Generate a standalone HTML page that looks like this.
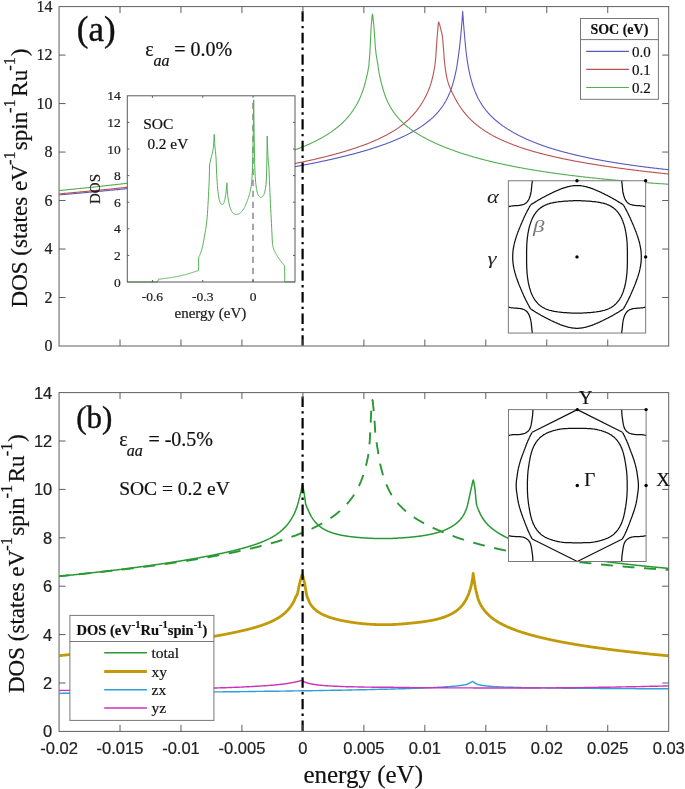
<!DOCTYPE html><html><head><meta charset="utf-8"><style>html,body{margin:0;padding:0;background:#fff;}svg{display:block;will-change:transform;} text{stroke:#111;stroke-width:0.2px;}</style></head><body>
<svg width="685" height="789" viewBox="0 0 685 789">
<rect width="685" height="789" fill="#fff"/>
<defs><clipPath id="ca"><rect x="59.05" y="6.60" width="609.65" height="339.40"/></clipPath>
<clipPath id="cb"><rect x="59.05" y="392.60" width="609.65" height="338.80"/></clipPath></defs>
<g clip-path="url(#ca)" fill="none" stroke-linejoin="round">
<path d="M59.4 194.9L59.7 194.8L60.2 194.8L60.7 194.8L61.2 194.7L61.7 194.7L62.2 194.6L62.7 194.6L63.2 194.5L63.7 194.5L64.2 194.5L64.7 194.4L65.2 194.4L65.7 194.3L66.2 194.3L66.7 194.2L67.2 194.2L67.7 194.2L68.2 194.1L68.7 194.1L69.2 194.0L69.7 194.0L70.2 193.9L70.7 193.9L71.2 193.9L71.7 193.8L72.2 193.8L72.7 193.7L73.2 193.7L73.7 193.6L74.2 193.6L74.7 193.5L75.2 193.5L75.7 193.5L76.2 193.4L76.7 193.4L77.2 193.3L77.7 193.3L78.2 193.2L78.7 193.2L79.2 193.1L79.7 193.1L80.2 193.1L80.7 193.0L81.2 193.0L81.7 192.9L82.2 192.9L82.7 192.8L83.2 192.8L83.7 192.7L84.2 192.7L84.7 192.7L85.2 192.6L85.7 192.6L86.2 192.5L86.7 192.5L87.2 192.4L87.7 192.4L88.2 192.3L88.7 192.3L89.2 192.2L89.7 192.2L90.2 192.2L90.7 192.1L91.2 192.1L91.7 192.0L92.2 192.0L92.7 191.9L93.2 191.9L93.7 191.8L94.2 191.8L94.7 191.7L95.2 191.7L95.7 191.7L96.2 191.6L96.7 191.6L97.2 191.5L97.7 191.5L98.2 191.4L98.7 191.4L99.2 191.3L99.7 191.3L100.2 191.2L100.7 191.2L101.2 191.1L101.7 191.1L102.2 191.1L102.7 191.0L103.2 191.0L103.7 190.9L104.2 190.9L104.7 190.8L105.2 190.8L105.7 190.7L106.2 190.7L106.7 190.6L107.2 190.6L107.7 190.5L108.2 190.5L108.7 190.4L109.2 190.4L109.7 190.3L110.2 190.3L110.7 190.2L111.2 190.2L111.7 190.2L112.2 190.1L112.7 190.1L113.2 190.0L113.7 190.0L114.2 189.9L114.7 189.9L115.2 189.8L115.7 189.8L116.2 189.7L116.7 189.7L117.2 189.6L117.7 189.6L118.2 189.5L118.7 189.5L119.2 189.4L119.7 189.4L120.2 189.3L120.7 189.3L121.2 189.2L121.7 189.2L122.2 189.1L122.7 189.1L123.2 189.0L123.7 189.0L124.2 188.9L124.7 188.9L125.2 188.8L125.7 188.8L126.2 188.7L126.7 188.7L127.2 188.6L127.7 188.6L128.2 188.5L128.7 188.5L129.2 188.4L129.7 188.4L130.2 188.3L130.7 188.3L131.2 188.2L131.7 188.2L132.2 188.1L132.7 188.1L133.2 188.0L133.7 188.0L134.2 187.9L134.7 187.9L135.2 187.8L135.7 187.8L136.2 187.7L136.7 187.7L137.2 187.6L137.7 187.6L138.2 187.5L138.7 187.5L139.2 187.4L139.7 187.4L140.2 187.3L140.7 187.3L141.2 187.2L141.7 187.2L142.2 187.1L142.7 187.1L143.2 187.0L143.7 187.0L144.2 186.9L144.7 186.9L145.2 186.8L145.7 186.8L146.2 186.7L146.7 186.7L147.2 186.6L147.7 186.6L148.2 186.5L148.7 186.4L149.2 186.4L149.7 186.3L150.2 186.3L150.7 186.2L151.2 186.2L151.7 186.1L152.2 186.1L152.7 186.0L153.2 186.0L153.7 185.9L154.2 185.9L154.7 185.8L155.2 185.8L155.7 185.7L156.2 185.6L156.7 185.6L157.2 185.5L157.7 185.5L158.2 185.4L158.7 185.4L159.2 185.3L159.7 185.3L160.2 185.2L160.7 185.2L161.2 185.1L161.7 185.1L162.2 185.0L162.7 184.9L163.2 184.9L163.7 184.8L164.2 184.8L164.7 184.7L165.2 184.7L165.7 184.6L166.2 184.6L166.7 184.5L167.2 184.5L167.7 184.4L168.2 184.3L168.7 184.3L169.2 184.2L169.7 184.2L170.2 184.1L170.7 184.1L171.2 184.0L171.7 184.0L172.2 183.9L172.7 183.8L173.2 183.8L173.7 183.7L174.2 183.7L174.7 183.6L175.2 183.6L175.7 183.5L176.2 183.4L176.7 183.4L177.2 183.3L177.7 183.3L178.2 183.2L178.7 183.2L179.2 183.1L179.7 183.0L180.2 183.0L180.7 182.9L181.2 182.9L181.7 182.8L182.2 182.8L182.7 182.7L183.2 182.6L183.7 182.6L184.2 182.5L184.7 182.5L185.2 182.4L185.7 182.3L186.2 182.3L186.7 182.2L187.2 182.2L187.7 182.1L188.2 182.1L188.7 182.0L189.2 181.9L189.7 181.9L190.2 181.8L190.7 181.8L191.2 181.7L191.7 181.6L192.2 181.6L192.7 181.5L193.2 181.5L193.7 181.4L194.2 181.3L194.7 181.3L195.2 181.2L195.7 181.2L196.2 181.1L196.7 181.0L197.2 181.0L197.7 180.9L198.2 180.9L198.7 180.8L199.2 180.7L199.7 180.7L200.2 180.6L200.7 180.6L201.2 180.5L201.7 180.4L202.2 180.4L202.7 180.3L203.2 180.2L203.7 180.2L204.2 180.1L204.7 180.1L205.2 180.0L205.7 179.9L206.2 179.9L206.7 179.8L207.2 179.7L207.7 179.7L208.2 179.6L208.7 179.6L209.2 179.5L209.7 179.4L210.2 179.4L210.7 179.3L211.2 179.2L211.7 179.2L212.2 179.1L212.7 179.1L213.2 179.0L213.7 178.9L214.2 178.9L214.7 178.8L215.2 178.7L215.7 178.7L216.2 178.6L216.7 178.5L217.2 178.5L217.7 178.4L218.2 178.3L218.7 178.3L219.2 178.2L219.7 178.1L220.2 178.1L220.7 178.0L221.2 178.0L221.7 177.9L222.2 177.8L222.7 177.8L223.2 177.7L223.7 177.6L224.2 177.6L224.7 177.5L225.2 177.4L225.7 177.4L226.2 177.3L226.7 177.2L227.2 177.2L227.7 177.1L228.2 177.0L228.7 177.0L229.2 176.9L229.7 176.8L230.2 176.7L230.7 176.7L231.2 176.6L231.7 176.5L232.2 176.5L232.7 176.4L233.2 176.3L233.7 176.3L234.2 176.2L234.7 176.1L235.2 176.1L235.7 176.0L236.2 175.9L236.7 175.9L237.2 175.8L237.7 175.7L238.2 175.6L238.7 175.6L239.2 175.5L239.7 175.4L240.2 175.4L240.7 175.3L241.2 175.2L241.7 175.2L242.2 175.1L242.7 175.0L243.2 174.9L243.7 174.9L244.2 174.8L244.7 174.7L245.2 174.7L245.7 174.6L246.2 174.5L246.7 174.4L247.2 174.4L247.7 174.3L248.2 174.2L248.7 174.1L249.2 174.1L249.7 174.0L250.2 173.9L250.7 173.9L251.2 173.8L251.7 173.7L252.2 173.6L252.7 173.6L253.2 173.5L253.7 173.4L254.2 173.3L254.7 173.3L255.2 173.2L255.7 173.1L256.2 173.0L256.7 173.0L257.2 172.9L257.7 172.8L258.2 172.7L258.7 172.7L259.2 172.6L259.7 172.5L260.2 172.4L260.7 172.3L261.2 172.3L261.7 172.2L262.2 172.1L262.7 172.0L263.2 172.0L263.7 171.9L264.2 171.8L264.7 171.7L265.2 171.6L265.7 171.6L266.2 171.5L266.7 171.4L267.2 171.3L267.7 171.3L268.2 171.2L268.7 171.1L269.2 171.0L269.7 170.9L270.2 170.9L270.7 170.8L271.2 170.7L271.7 170.6L272.2 170.5L272.7 170.5L273.2 170.4L273.7 170.3L274.2 170.2L274.7 170.1L275.2 170.0L275.7 170.0L276.2 169.9L276.7 169.8L277.2 169.7L277.7 169.6L278.2 169.6L278.7 169.5L279.2 169.4L279.7 169.3L280.2 169.2L280.7 169.1L281.2 169.1L281.7 169.0L282.2 168.9L282.7 168.8L283.2 168.7L283.7 168.6L284.2 168.5L284.7 168.5L285.2 168.4L285.7 168.3L286.2 168.2L286.7 168.1L287.2 168.0L287.7 167.9L288.2 167.8L288.7 167.8L289.2 167.7L289.7 167.6L290.2 167.5L290.7 167.4L291.2 167.3L291.7 167.2L292.2 167.1L292.7 167.1L293.2 167.0L293.7 166.9L294.2 166.8L294.7 166.7L295.2 166.6L295.7 166.5L296.2 166.4L296.7 166.3L297.2 166.2L297.7 166.1L298.2 166.1L298.7 166.0L299.2 165.9L299.7 165.8L300.2 165.7L300.7 165.6L301.2 165.5L301.7 165.4L302.2 165.3L302.7 165.2L303.2 165.1L303.7 165.0L304.2 164.9L304.7 164.8L305.2 164.7L305.7 164.6L306.2 164.6L306.7 164.5L307.2 164.4L307.7 164.3L308.2 164.2L308.7 164.1L309.2 164.0L309.7 163.9L310.2 163.8L310.7 163.7L311.2 163.6L311.7 163.5L312.2 163.4L312.7 163.3L313.2 163.2L313.7 163.1L314.2 163.0L314.7 162.9L315.2 162.8L315.7 162.7L316.2 162.6L316.7 162.5L317.2 162.4L317.7 162.3L318.2 162.2L318.7 162.1L319.2 162.0L319.7 161.8L320.2 161.7L320.7 161.6L321.2 161.5L321.7 161.4L322.2 161.3L322.7 161.2L323.2 161.1L323.7 161.0L324.2 160.9L324.7 160.8L325.2 160.7L325.7 160.6L326.2 160.5L326.7 160.4L327.2 160.2L327.7 160.1L328.2 160.0L328.7 159.9L329.2 159.8L329.7 159.7L330.2 159.6L330.7 159.5L331.2 159.4L331.7 159.2L332.2 159.1L332.7 159.0L333.2 158.9L333.7 158.8L334.2 158.7L334.7 158.6L335.2 158.4L335.7 158.3L336.2 158.2L336.7 158.1L337.2 158.0L337.7 157.9L338.2 157.7L338.7 157.6L339.2 157.5L339.7 157.4L340.2 157.3L340.7 157.1L341.2 157.0L341.7 156.9L342.2 156.8L342.7 156.7L343.2 156.5L343.7 156.4L344.2 156.3L344.7 156.2L345.2 156.0L345.7 155.9L346.2 155.8L346.7 155.7L347.2 155.5L347.7 155.4L348.2 155.3L348.7 155.2L349.2 155.0L349.7 154.9L350.2 154.8L350.7 154.6L351.2 154.5L351.7 154.4L352.2 154.3L352.7 154.1L353.2 154.0L353.7 153.9L354.2 153.7L354.7 153.6L355.2 153.5L355.7 153.3L356.2 153.2L356.7 153.0L357.2 152.9L357.7 152.8L358.2 152.6L358.7 152.5L359.2 152.4L359.7 152.2L360.2 152.1L360.7 151.9L361.2 151.8L361.7 151.6L362.2 151.5L362.7 151.4L363.2 151.2L363.7 151.1L364.2 150.9L364.7 150.8L365.2 150.6L365.7 150.5L366.2 150.3L366.7 150.2L367.2 150.0L367.7 149.9L368.2 149.7L368.7 149.6L369.2 149.4L369.7 149.3L370.2 149.1L370.7 149.0L371.2 148.8L371.7 148.6L372.2 148.5L372.7 148.3L373.2 148.2L373.7 148.0L374.2 147.8L374.7 147.7L375.2 147.5L375.7 147.4L376.2 147.2L376.7 147.0L377.2 146.9L377.7 146.7L378.2 146.5L378.7 146.3L379.2 146.2L379.7 146.0L380.2 145.8L380.7 145.7L381.2 145.5L381.7 145.3L382.2 145.1L382.7 145.0L383.2 144.8L383.7 144.6L384.2 144.4L384.7 144.2L385.2 144.1L385.7 143.9L386.2 143.7L386.7 143.5L387.2 143.3L387.7 143.1L388.2 142.9L388.7 142.7L389.2 142.6L389.7 142.4L390.2 142.2L390.7 142.0L391.2 141.8L391.7 141.6L392.2 141.4L392.7 141.2L393.2 141.0L393.7 140.8L394.2 140.6L394.7 140.4L395.2 140.1L395.7 139.9L396.2 139.7L396.7 139.5L397.2 139.3L397.7 139.1L398.2 138.9L398.7 138.6L399.2 138.4L399.7 138.2L400.2 138.0L400.7 137.8L401.2 137.5L401.7 137.3L402.2 137.1L402.7 136.8L403.2 136.6L403.7 136.4L404.2 136.1L404.7 135.9L405.2 135.6L405.7 135.4L406.2 135.1L406.7 134.9L407.2 134.6L407.7 134.4L408.2 134.1L408.7 133.9L409.2 133.6L409.7 133.4L410.2 133.1L410.7 132.8L411.2 132.6L411.7 132.3L412.2 132.0L412.7 131.7L413.2 131.5L413.7 131.2L414.2 130.9L414.7 130.6L415.2 130.3L415.7 130.0L416.2 129.7L416.7 129.4L417.2 129.1L417.7 128.8L418.2 128.5L418.7 128.2L419.2 127.9L419.7 127.5L420.2 127.2L420.7 126.9L421.2 126.6L421.7 126.2L422.2 125.9L422.7 125.5L423.2 125.2L423.7 124.8L424.2 124.5L424.7 124.1L425.2 123.7L425.7 123.4L426.2 123.0L426.7 122.6L427.2 122.2L427.7 121.8L428.2 121.4L428.7 121.0L429.2 120.6L429.7 120.2L430.2 119.8L430.7 119.4L431.2 118.9L431.7 118.5L432.2 118.0L432.7 117.6L433.2 117.1L433.7 116.6L434.2 116.1L434.7 115.6L435.2 115.1L435.7 114.6L436.2 114.1L436.7 113.5L437.2 113.0L437.7 112.4L438.2 111.9L438.7 111.3L439.2 110.7L439.7 110.0L440.2 109.4L440.7 108.8L441.2 108.1L441.7 107.4L442.2 106.7L442.7 106.0L443.2 105.2L443.7 104.5L444.2 103.7L444.7 102.9L445.2 102.0L445.7 101.2L446.2 100.3L446.7 99.3L447.2 98.4L447.7 97.3L448.2 96.3L448.7 95.2L449.2 94.1L449.7 92.9L450.2 91.6L450.7 90.3L451.2 88.9L451.7 87.5L452.2 85.9L452.7 84.3L453.2 82.6L453.7 80.8L454.2 78.9L454.7 76.9L454.9 75.8L455.2 74.8L455.4 73.6L455.7 72.5L455.9 71.3L456.2 70.0L456.4 68.8L456.7 67.4L456.9 66.0L457.2 64.5L457.4 62.9L457.7 61.2L457.9 59.5L458.2 57.8L458.4 55.9L458.7 54.1L458.9 52.2L459.2 50.2L459.4 48.2L459.7 46.1L459.9 43.8L460.2 41.5L460.4 39.1L460.7 36.6L460.9 34.0L461.2 31.3L461.4 28.5L461.7 25.5L461.9 22.3L462.2 18.9L462.4 15.2L462.7 11.3L462.9 15.0L463.2 18.5L463.4 21.9L463.7 25.2L463.9 28.3L464.2 31.2L464.4 34.1L464.7 36.9L464.9 39.7L465.2 42.5L465.4 45.1L465.7 47.7L465.9 50.1L466.2 52.3L466.4 54.4L466.7 56.4L466.9 58.2L467.2 60.0L467.4 61.6L467.7 63.2L467.9 64.7L468.2 66.1L468.4 67.5L468.7 68.8L468.9 70.1L469.2 71.3L469.4 72.5L469.7 73.7L469.9 74.8L470.2 75.9L470.4 76.9L470.7 77.9L471.2 79.8L471.7 81.6L472.2 83.3L472.7 85.0L473.2 86.5L473.7 87.9L474.2 89.3L474.7 90.6L475.2 91.9L475.7 93.1L476.2 94.2L476.7 95.3L477.2 96.4L477.7 97.4L478.2 98.4L478.7 99.3L479.2 100.3L479.7 101.1L480.2 102.0L480.7 102.8L481.2 103.6L481.7 104.4L482.2 105.2L482.7 105.9L483.2 106.6L483.7 107.3L484.2 108.0L484.7 108.7L485.2 109.3L485.7 110.0L486.2 110.6L486.7 111.2L487.2 111.8L487.7 112.4L488.2 112.9L488.7 113.5L489.2 114.0L489.7 114.6L490.2 115.1L490.7 115.6L491.2 116.1L491.7 116.6L492.2 117.1L492.7 117.6L493.2 118.0L493.7 118.5L494.2 119.0L494.7 119.4L495.2 119.8L495.7 120.3L496.2 120.7L496.7 121.1L497.2 121.5L497.7 121.9L498.2 122.3L498.7 122.7L499.2 123.1L499.7 123.5L500.2 123.9L500.7 124.3L501.2 124.6L501.7 125.0L502.2 125.4L502.7 125.7L503.2 126.1L503.7 126.4L504.2 126.8L504.7 127.1L505.2 127.5L505.7 127.8L506.2 128.1L506.7 128.4L507.2 128.8L507.7 129.1L508.2 129.4L508.7 129.7L509.2 130.0L509.7 130.3L510.2 130.6L510.7 130.9L511.2 131.2L511.7 131.5L512.2 131.8L512.7 132.1L513.2 132.4L513.7 132.7L514.2 132.9L514.7 133.2L515.2 133.5L515.7 133.8L516.2 134.0L516.7 134.3L517.2 134.6L517.7 134.8L518.2 135.1L518.7 135.4L519.2 135.6L519.7 135.9L520.2 136.1L520.7 136.4L521.2 136.6L521.7 136.9L522.2 137.1L522.7 137.3L523.2 137.6L523.7 137.8L524.2 138.0L524.7 138.3L525.2 138.5L525.7 138.7L526.2 139.0L526.7 139.2L527.2 139.4L527.7 139.6L528.2 139.8L528.7 140.1L529.2 140.3L529.7 140.5L530.2 140.7L530.7 140.9L531.2 141.1L531.7 141.3L532.2 141.5L532.7 141.7L533.2 141.9L533.7 142.1L534.2 142.3L534.7 142.5L535.2 142.7L535.7 142.9L536.2 143.1L536.7 143.3L537.2 143.5L537.7 143.7L538.2 143.9L538.7 144.1L539.2 144.3L539.7 144.4L540.2 144.6L540.7 144.8L541.2 145.0L541.7 145.2L542.2 145.3L542.7 145.5L543.2 145.7L543.7 145.9L544.2 146.0L544.7 146.2L545.2 146.4L545.7 146.6L546.2 146.7L546.7 146.9L547.2 147.1L547.7 147.2L548.2 147.4L548.7 147.5L549.2 147.7L549.7 147.9L550.2 148.0L550.7 148.2L551.2 148.3L551.7 148.5L552.2 148.7L552.7 148.8L553.2 149.0L553.7 149.1L554.2 149.3L554.7 149.4L555.2 149.6L555.7 149.7L556.2 149.9L556.7 150.0L557.2 150.2L557.7 150.3L558.2 150.4L558.7 150.6L559.2 150.7L559.7 150.9L560.2 151.0L560.7 151.2L561.2 151.3L561.7 151.4L562.2 151.6L562.7 151.7L563.2 151.8L563.7 152.0L564.2 152.1L564.7 152.2L565.2 152.4L565.7 152.5L566.2 152.6L566.7 152.8L567.2 152.9L567.7 153.0L568.2 153.2L568.7 153.3L569.2 153.4L569.7 153.5L570.2 153.7L570.7 153.8L571.2 153.9L571.7 154.0L572.2 154.2L572.7 154.3L573.2 154.4L573.7 154.5L574.2 154.6L574.7 154.8L575.2 154.9L575.7 155.0L576.2 155.1L576.7 155.2L577.2 155.4L577.7 155.5L578.2 155.6L578.7 155.7L579.2 155.8L579.7 155.9L580.2 156.0L580.7 156.2L581.2 156.3L581.7 156.4L582.2 156.5L582.7 156.6L583.2 156.7L583.7 156.8L584.2 156.9L584.7 157.0L585.2 157.1L585.7 157.2L586.2 157.3L586.7 157.5L587.2 157.6L587.7 157.7L588.2 157.8L588.7 157.9L589.2 158.0L589.7 158.1L590.2 158.2L590.7 158.3L591.2 158.4L591.7 158.5L592.2 158.6L592.7 158.7L593.2 158.8L593.7 158.9L594.2 159.0L594.7 159.1L595.2 159.2L595.7 159.3L596.2 159.4L596.7 159.5L597.2 159.6L597.7 159.6L598.2 159.7L598.7 159.8L599.2 159.9L599.7 160.0L600.2 160.1L600.7 160.2L601.2 160.3L601.7 160.4L602.2 160.5L602.7 160.6L603.2 160.7L603.7 160.8L604.2 160.8L604.7 160.9L605.2 161.0L605.7 161.1L606.2 161.2L606.7 161.3L607.2 161.4L607.7 161.5L608.2 161.5L608.7 161.6L609.2 161.7L609.7 161.8L610.2 161.9L610.7 162.0L611.2 162.0L611.7 162.1L612.2 162.2L612.7 162.3L613.2 162.4L613.7 162.5L614.2 162.5L614.7 162.6L615.2 162.7L615.7 162.8L616.2 162.9L616.7 162.9L617.2 163.0L617.7 163.1L618.2 163.2L618.7 163.3L619.2 163.3L619.7 163.4L620.2 163.5L620.7 163.6L621.2 163.7L621.7 163.7L622.2 163.8L622.7 163.9L623.2 164.0L623.7 164.0L624.2 164.1L624.7 164.2L625.2 164.3L625.7 164.3L626.2 164.4L626.7 164.5L627.2 164.5L627.7 164.6L628.2 164.7L628.7 164.8L629.2 164.8L629.7 164.9L630.2 165.0L630.7 165.1L631.2 165.1L631.7 165.2L632.2 165.3L632.7 165.3L633.2 165.4L633.7 165.5L634.2 165.5L634.7 165.6L635.2 165.7L635.7 165.7L636.2 165.8L636.7 165.9L637.2 166.0L637.7 166.0L638.2 166.1L638.7 166.2L639.2 166.2L639.7 166.3L640.2 166.4L640.7 166.4L641.2 166.5L641.7 166.5L642.2 166.6L642.7 166.7L643.2 166.7L643.7 166.8L644.2 166.9L644.7 166.9L645.2 167.0L645.7 167.1L646.2 167.1L646.7 167.2L647.2 167.2L647.7 167.3L648.2 167.4L648.7 167.4L649.2 167.5L649.7 167.6L650.2 167.6L650.7 167.7L651.2 167.7L651.7 167.8L652.2 167.9L652.7 167.9L653.2 168.0L653.7 168.0L654.2 168.1L654.7 168.2L655.2 168.2L655.7 168.3L656.2 168.3L656.7 168.4L657.2 168.4L657.7 168.5L658.2 168.6L658.7 168.6L659.2 168.7L659.7 168.7L660.2 168.8L660.7 168.8L661.2 168.9L661.7 169.0L662.2 169.0L662.7 169.1L663.2 169.1L663.7 169.2L664.2 169.2L664.7 169.3L665.2 169.3L665.7 169.4L666.2 169.5L666.7 169.5L667.2 169.6L667.7 169.6L668.2 169.7L668.7 169.7L668.8 169.7" stroke="#5858bd" stroke-width="1.1"/>
<path d="M59.4 193.9L59.5 193.9L60.0 193.8L60.5 193.8L61.0 193.7L61.5 193.7L62.0 193.6L62.5 193.6L63.0 193.5L63.5 193.5L64.0 193.5L64.5 193.4L65.0 193.4L65.5 193.3L66.0 193.3L66.5 193.2L67.0 193.2L67.5 193.1L68.0 193.1L68.5 193.0L69.0 193.0L69.5 193.0L70.0 192.9L70.5 192.9L71.0 192.8L71.5 192.8L72.0 192.7L72.5 192.7L73.0 192.6L73.5 192.6L74.0 192.5L74.5 192.5L75.0 192.4L75.5 192.4L76.0 192.4L76.5 192.3L77.0 192.3L77.5 192.2L78.0 192.2L78.5 192.1L79.0 192.1L79.5 192.0L80.0 192.0L80.5 191.9L81.0 191.9L81.5 191.8L82.0 191.8L82.5 191.7L83.0 191.7L83.5 191.6L84.0 191.6L84.5 191.6L85.0 191.5L85.5 191.5L86.0 191.4L86.5 191.4L87.0 191.3L87.5 191.3L88.0 191.2L88.5 191.2L89.0 191.1L89.5 191.1L90.0 191.0L90.5 191.0L91.0 190.9L91.5 190.9L92.0 190.8L92.5 190.8L93.0 190.7L93.5 190.7L94.0 190.6L94.5 190.6L95.0 190.5L95.5 190.5L96.0 190.4L96.5 190.4L97.0 190.4L97.5 190.3L98.0 190.3L98.5 190.2L99.0 190.2L99.5 190.1L100.0 190.1L100.5 190.0L101.0 190.0L101.5 189.9L102.0 189.9L102.5 189.8L103.0 189.8L103.5 189.7L104.0 189.7L104.5 189.6L105.0 189.6L105.5 189.5L106.0 189.5L106.5 189.4L107.0 189.4L107.5 189.3L108.0 189.3L108.5 189.2L109.0 189.2L109.5 189.1L110.0 189.1L110.5 189.0L111.0 189.0L111.5 188.9L112.0 188.9L112.5 188.8L113.0 188.8L113.5 188.7L114.0 188.7L114.5 188.6L115.0 188.6L115.5 188.5L116.0 188.5L116.5 188.4L117.0 188.4L117.5 188.3L118.0 188.3L118.5 188.2L119.0 188.1L119.5 188.1L120.0 188.0L120.5 188.0L121.0 187.9L121.5 187.9L122.0 187.8L122.5 187.8L123.0 187.7L123.5 187.7L124.0 187.6L124.5 187.6L125.0 187.5L125.5 187.5L126.0 187.4L126.5 187.4L127.0 187.3L127.5 187.3L128.0 187.2L128.5 187.2L129.0 187.1L129.5 187.1L130.0 187.0L130.5 186.9L131.0 186.9L131.5 186.8L132.0 186.8L132.5 186.7L133.0 186.7L133.5 186.6L134.0 186.6L134.5 186.5L135.0 186.5L135.5 186.4L136.0 186.4L136.5 186.3L137.0 186.3L137.5 186.2L138.0 186.1L138.5 186.1L139.0 186.0L139.5 186.0L140.0 185.9L140.5 185.9L141.0 185.8L141.5 185.8L142.0 185.7L142.5 185.7L143.0 185.6L143.5 185.5L144.0 185.5L144.5 185.4L145.0 185.4L145.5 185.3L146.0 185.3L146.5 185.2L147.0 185.2L147.5 185.1L148.0 185.1L148.5 185.0L149.0 184.9L149.5 184.9L150.0 184.8L150.5 184.8L151.0 184.7L151.5 184.7L152.0 184.6L152.5 184.5L153.0 184.5L153.5 184.4L154.0 184.4L154.5 184.3L155.0 184.3L155.5 184.2L156.0 184.2L156.5 184.1L157.0 184.0L157.5 184.0L158.0 183.9L158.5 183.9L159.0 183.8L159.5 183.8L160.0 183.7L160.5 183.6L161.0 183.6L161.5 183.5L162.0 183.5L162.5 183.4L163.0 183.3L163.5 183.3L164.0 183.2L164.5 183.2L165.0 183.1L165.5 183.1L166.0 183.0L166.5 182.9L167.0 182.9L167.5 182.8L168.0 182.8L168.5 182.7L169.0 182.6L169.5 182.6L170.0 182.5L170.5 182.5L171.0 182.4L171.5 182.3L172.0 182.3L172.5 182.2L173.0 182.2L173.5 182.1L174.0 182.0L174.5 182.0L175.0 181.9L175.5 181.9L176.0 181.8L176.5 181.7L177.0 181.7L177.5 181.6L178.0 181.6L178.5 181.5L179.0 181.4L179.5 181.4L180.0 181.3L180.5 181.3L181.0 181.2L181.5 181.1L182.0 181.1L182.5 181.0L183.0 181.0L183.5 180.9L184.0 180.8L184.5 180.8L185.0 180.7L185.5 180.6L186.0 180.6L186.5 180.5L187.0 180.5L187.5 180.4L188.0 180.3L188.5 180.3L189.0 180.2L189.5 180.1L190.0 180.1L190.5 180.0L191.0 180.0L191.5 179.9L192.0 179.8L192.5 179.8L193.0 179.7L193.5 179.6L194.0 179.6L194.5 179.5L195.0 179.4L195.5 179.4L196.0 179.3L196.5 179.3L197.0 179.2L197.5 179.1L198.0 179.1L198.5 179.0L199.0 178.9L199.5 178.9L200.0 178.8L200.5 178.7L201.0 178.7L201.5 178.6L202.0 178.5L202.5 178.5L203.0 178.4L203.5 178.3L204.0 178.3L204.5 178.2L205.0 178.1L205.5 178.1L206.0 178.0L206.5 177.9L207.0 177.9L207.5 177.8L208.0 177.7L208.5 177.7L209.0 177.6L209.5 177.5L210.0 177.5L210.5 177.4L211.0 177.3L211.5 177.3L212.0 177.2L212.5 177.1L213.0 177.1L213.5 177.0L214.0 176.9L214.5 176.9L215.0 176.8L215.5 176.7L216.0 176.6L216.5 176.6L217.0 176.5L217.5 176.4L218.0 176.4L218.5 176.3L219.0 176.2L219.5 176.2L220.0 176.1L220.5 176.0L221.0 175.9L221.5 175.9L222.0 175.8L222.5 175.7L223.0 175.7L223.5 175.6L224.0 175.5L224.5 175.4L225.0 175.4L225.5 175.3L226.0 175.2L226.5 175.2L227.0 175.1L227.5 175.0L228.0 174.9L228.5 174.9L229.0 174.8L229.5 174.7L230.0 174.7L230.5 174.6L231.0 174.5L231.5 174.4L232.0 174.4L232.5 174.3L233.0 174.2L233.5 174.1L234.0 174.1L234.5 174.0L235.0 173.9L235.5 173.8L236.0 173.8L236.5 173.7L237.0 173.6L237.5 173.5L238.0 173.5L238.5 173.4L239.0 173.3L239.5 173.2L240.0 173.2L240.5 173.1L241.0 173.0L241.5 172.9L242.0 172.9L242.5 172.8L243.0 172.7L243.5 172.6L244.0 172.5L244.5 172.5L245.0 172.4L245.5 172.3L246.0 172.2L246.5 172.2L247.0 172.1L247.5 172.0L248.0 171.9L248.5 171.8L249.0 171.8L249.5 171.7L250.0 171.6L250.5 171.5L251.0 171.4L251.5 171.4L252.0 171.3L252.5 171.2L253.0 171.1L253.5 171.0L254.0 171.0L254.5 170.9L255.0 170.8L255.5 170.7L256.0 170.6L256.5 170.5L257.0 170.5L257.5 170.4L258.0 170.3L258.5 170.2L259.0 170.1L259.5 170.0L260.0 170.0L260.5 169.9L261.0 169.8L261.5 169.7L262.0 169.6L262.5 169.5L263.0 169.5L263.5 169.4L264.0 169.3L264.5 169.2L265.0 169.1L265.5 169.0L266.0 168.9L266.5 168.9L267.0 168.8L267.5 168.7L268.0 168.6L268.5 168.5L269.0 168.4L269.5 168.3L270.0 168.3L270.5 168.2L271.0 168.1L271.5 168.0L272.0 167.9L272.5 167.8L273.0 167.7L273.5 167.6L274.0 167.5L274.5 167.5L275.0 167.4L275.5 167.3L276.0 167.2L276.5 167.1L277.0 167.0L277.5 166.9L278.0 166.8L278.5 166.7L279.0 166.6L279.5 166.5L280.0 166.4L280.5 166.4L281.0 166.3L281.5 166.2L282.0 166.1L282.5 166.0L283.0 165.9L283.5 165.8L284.0 165.7L284.5 165.6L285.0 165.5L285.5 165.4L286.0 165.3L286.5 165.2L287.0 165.1L287.5 165.0L288.0 164.9L288.5 164.8L289.0 164.7L289.5 164.6L290.0 164.5L290.5 164.4L291.0 164.3L291.5 164.2L292.0 164.1L292.5 164.0L293.0 163.9L293.5 163.8L294.0 163.7L294.5 163.6L295.0 163.5L295.5 163.4L296.0 163.3L296.5 163.2L297.0 163.1L297.5 163.0L298.0 162.9L298.5 162.8L299.0 162.7L299.5 162.6L300.0 162.5L300.5 162.4L301.0 162.3L301.5 162.2L302.0 162.1L302.5 162.0L303.0 161.9L303.5 161.8L304.0 161.7L304.5 161.6L305.0 161.5L305.5 161.3L306.0 161.2L306.5 161.1L307.0 161.0L307.5 160.9L308.0 160.8L308.5 160.7L309.0 160.6L309.5 160.5L310.0 160.4L310.5 160.2L311.0 160.1L311.5 160.0L312.0 159.9L312.5 159.8L313.0 159.7L313.5 159.6L314.0 159.4L314.5 159.3L315.0 159.2L315.5 159.1L316.0 159.0L316.5 158.9L317.0 158.7L317.5 158.6L318.0 158.5L318.5 158.4L319.0 158.3L319.5 158.2L320.0 158.0L320.5 157.9L321.0 157.8L321.5 157.7L322.0 157.5L322.5 157.4L323.0 157.3L323.5 157.2L324.0 157.1L324.5 156.9L325.0 156.8L325.5 156.7L326.0 156.6L326.5 156.4L327.0 156.3L327.5 156.2L328.0 156.0L328.5 155.9L329.0 155.8L329.5 155.7L330.0 155.5L330.5 155.4L331.0 155.3L331.5 155.1L332.0 155.0L332.5 154.9L333.0 154.7L333.5 154.6L334.0 154.5L334.5 154.3L335.0 154.2L335.5 154.1L336.0 153.9L336.5 153.8L337.0 153.6L337.5 153.5L338.0 153.4L338.5 153.2L339.0 153.1L339.5 152.9L340.0 152.8L340.5 152.7L341.0 152.5L341.5 152.4L342.0 152.2L342.5 152.1L343.0 151.9L343.5 151.8L344.0 151.6L344.5 151.5L345.0 151.3L345.5 151.2L346.0 151.0L346.5 150.9L347.0 150.7L347.5 150.6L348.0 150.4L348.5 150.3L349.0 150.1L349.5 150.0L350.0 149.8L350.5 149.6L351.0 149.5L351.5 149.3L352.0 149.2L352.5 149.0L353.0 148.8L353.5 148.7L354.0 148.5L354.5 148.3L355.0 148.2L355.5 148.0L356.0 147.8L356.5 147.7L357.0 147.5L357.5 147.3L358.0 147.1L358.5 147.0L359.0 146.8L359.5 146.6L360.0 146.4L360.5 146.3L361.0 146.1L361.5 145.9L362.0 145.7L362.5 145.5L363.0 145.4L363.5 145.2L364.0 145.0L364.5 144.8L365.0 144.6L365.5 144.4L366.0 144.2L366.5 144.0L367.0 143.9L367.5 143.7L368.0 143.5L368.5 143.3L369.0 143.1L369.5 142.9L370.0 142.7L370.5 142.5L371.0 142.3L371.5 142.0L372.0 141.8L372.5 141.6L373.0 141.4L373.5 141.2L374.0 141.0L374.5 140.8L375.0 140.6L375.5 140.3L376.0 140.1L376.5 139.9L377.0 139.7L377.5 139.4L378.0 139.2L378.5 139.0L379.0 138.8L379.5 138.5L380.0 138.3L380.5 138.0L381.0 137.8L381.5 137.6L382.0 137.3L382.5 137.1L383.0 136.8L383.5 136.6L384.0 136.3L384.5 136.1L385.0 135.8L385.5 135.5L386.0 135.3L386.5 135.0L387.0 134.7L387.5 134.5L388.0 134.2L388.5 133.9L389.0 133.6L389.5 133.4L390.0 133.1L390.5 132.8L391.0 132.5L391.5 132.2L392.0 131.9L392.5 131.6L393.0 131.3L393.5 131.0L394.0 130.7L394.5 130.4L395.0 130.1L395.5 129.7L396.0 129.4L396.5 129.1L397.0 128.7L397.5 128.4L398.0 128.1L398.5 127.7L399.0 127.4L399.5 127.0L400.0 126.6L400.5 126.3L401.0 125.9L401.5 125.5L402.0 125.1L402.5 124.8L403.0 124.4L403.5 124.0L404.0 123.6L404.5 123.2L405.0 122.7L405.5 122.3L406.0 121.9L406.5 121.4L407.0 121.0L407.5 120.5L408.0 120.1L408.5 119.6L409.0 119.1L409.5 118.7L410.0 118.2L410.5 117.7L411.0 117.2L411.5 116.6L412.0 116.1L412.5 115.6L413.0 115.0L413.5 114.5L414.0 113.9L414.5 113.3L415.0 112.7L415.5 112.1L416.0 111.5L416.5 110.9L417.0 110.2L417.5 109.6L418.0 108.9L418.5 108.2L419.0 107.5L419.5 106.8L420.0 106.1L420.5 105.3L421.0 104.6L421.5 103.8L422.0 103.0L422.5 102.2L423.0 101.3L423.5 100.5L424.0 99.6L424.5 98.6L425.0 97.7L425.5 96.7L426.0 95.7L426.5 94.7L427.0 93.7L427.5 92.6L428.0 91.5L428.5 90.3L429.0 89.0L429.5 87.7L430.0 86.4L430.5 84.9L430.8 84.1L431.0 83.3L431.2 82.4L431.5 81.5L431.8 80.6L432.0 79.6L432.2 78.6L432.5 77.6L432.8 76.5L433.0 75.4L433.2 74.3L433.5 73.2L433.8 72.0L434.0 70.7L434.2 69.3L434.5 67.9L434.8 66.3L435.0 64.5L435.2 62.5L435.5 60.2L435.8 57.3L436.0 53.9L436.2 50.2L436.5 46.3L436.8 42.5L437.0 39.2L437.2 36.2L437.5 33.2L437.8 30.1L438.0 27.1L438.2 24.3L438.5 22.1L438.8 22.3L439.0 22.7L439.2 23.4L439.5 24.1L439.8 25.0L440.0 25.9L440.2 26.9L440.5 27.9L440.8 29.0L441.0 30.0L441.2 31.1L441.5 32.1L441.8 33.2L442.0 34.3L442.2 35.5L442.5 37.5L442.8 40.0L443.0 42.8L443.2 45.6L443.5 48.5L443.8 52.0L444.0 55.5L444.2 58.9L444.5 61.6L444.8 64.0L445.0 66.1L445.2 68.1L445.5 70.0L445.8 71.6L446.0 73.2L446.2 74.7L446.5 76.0L447.0 78.3L447.5 80.4L448.0 82.2L448.5 83.8L449.0 85.3L449.5 86.6L450.0 87.8L450.5 89.0L451.0 90.1L451.5 91.2L452.0 92.3L452.5 93.3L453.0 94.3L453.5 95.4L454.0 96.3L454.5 97.3L455.0 98.2L455.5 99.1L456.0 100.0L456.5 100.9L457.0 101.8L457.5 102.6L458.0 103.4L458.5 104.3L459.0 105.0L459.5 105.8L460.0 106.6L460.5 107.3L461.0 108.0L461.5 108.7L462.0 109.4L462.5 110.1L463.0 110.8L463.5 111.4L464.0 112.1L464.5 112.7L465.0 113.3L465.5 113.9L466.0 114.5L466.5 115.1L467.0 115.7L467.5 116.2L468.0 116.8L468.5 117.3L469.0 117.8L469.5 118.4L470.0 118.9L470.5 119.4L471.0 119.9L471.5 120.3L472.0 120.8L472.5 121.3L473.0 121.7L473.5 122.2L474.0 122.6L474.5 123.1L475.0 123.5L475.5 123.9L476.0 124.3L476.5 124.8L477.0 125.2L477.5 125.6L478.0 125.9L478.5 126.3L479.0 126.7L479.5 127.1L480.0 127.5L480.5 127.8L481.0 128.2L481.5 128.6L482.0 128.9L482.5 129.3L483.0 129.6L483.5 129.9L484.0 130.3L484.5 130.6L485.0 130.9L485.5 131.3L486.0 131.6L486.5 131.9L487.0 132.2L487.5 132.5L488.0 132.8L488.5 133.1L489.0 133.4L489.5 133.7L490.0 134.0L490.5 134.3L491.0 134.6L491.5 134.9L492.0 135.1L492.5 135.4L493.0 135.7L493.5 135.9L494.0 136.2L494.5 136.5L495.0 136.7L495.5 137.0L496.0 137.3L496.5 137.5L497.0 137.8L497.5 138.0L498.0 138.3L498.5 138.5L499.0 138.7L499.5 139.0L500.0 139.2L500.5 139.5L501.0 139.7L501.5 139.9L502.0 140.1L502.5 140.4L503.0 140.6L503.5 140.8L504.0 141.0L504.5 141.3L505.0 141.5L505.5 141.7L506.0 141.9L506.5 142.1L507.0 142.3L507.5 142.5L508.0 142.7L508.5 142.9L509.0 143.1L509.5 143.4L510.0 143.5L510.5 143.7L511.0 143.9L511.5 144.1L512.0 144.3L512.5 144.5L513.0 144.7L513.5 144.9L514.0 145.1L514.5 145.3L515.0 145.5L515.5 145.6L516.0 145.8L516.5 146.0L517.0 146.2L517.5 146.4L518.0 146.5L518.5 146.7L519.0 146.9L519.5 147.1L520.0 147.2L520.5 147.4L521.0 147.6L521.5 147.7L522.0 147.9L522.5 148.1L523.0 148.2L523.5 148.4L524.0 148.6L524.5 148.7L525.0 148.9L525.5 149.0L526.0 149.2L526.5 149.4L527.0 149.5L527.5 149.7L528.0 149.8L528.5 150.0L529.0 150.1L529.5 150.3L530.0 150.4L530.5 150.6L531.0 150.7L531.5 150.9L532.0 151.0L532.5 151.2L533.0 151.3L533.5 151.5L534.0 151.6L534.5 151.7L535.0 151.9L535.5 152.0L536.0 152.2L536.5 152.3L537.0 152.4L537.5 152.6L538.0 152.7L538.5 152.8L539.0 153.0L539.5 153.1L540.0 153.3L540.5 153.4L541.0 153.5L541.5 153.6L542.0 153.8L542.5 153.9L543.0 154.0L543.5 154.2L544.0 154.3L544.5 154.4L545.0 154.5L545.5 154.7L546.0 154.8L546.5 154.9L547.0 155.0L547.5 155.2L548.0 155.3L548.5 155.4L549.0 155.5L549.5 155.6L550.0 155.8L550.5 155.9L551.0 156.0L551.5 156.1L552.0 156.2L552.5 156.4L553.0 156.5L553.5 156.6L554.0 156.7L554.5 156.8L555.0 156.9L555.5 157.0L556.0 157.2L556.5 157.3L557.0 157.4L557.5 157.5L558.0 157.6L558.5 157.7L559.0 157.8L559.5 157.9L560.0 158.0L560.5 158.1L561.0 158.2L561.5 158.4L562.0 158.5L562.5 158.6L563.0 158.7L563.5 158.8L564.0 158.9L564.5 159.0L565.0 159.1L565.5 159.2L566.0 159.3L566.5 159.4L567.0 159.5L567.5 159.6L568.0 159.7L568.5 159.8L569.0 159.9L569.5 160.0L570.0 160.1L570.5 160.2L571.0 160.3L571.5 160.4L572.0 160.5L572.5 160.6L573.0 160.7L573.5 160.8L574.0 160.9L574.5 161.0L575.0 161.1L575.5 161.2L576.0 161.2L576.5 161.3L577.0 161.4L577.5 161.5L578.0 161.6L578.5 161.7L579.0 161.8L579.5 161.9L580.0 162.0L580.5 162.1L581.0 162.2L581.5 162.3L582.0 162.3L582.5 162.4L583.0 162.5L583.5 162.6L584.0 162.7L584.5 162.8L585.0 162.9L585.5 163.0L586.0 163.0L586.5 163.1L587.0 163.2L587.5 163.3L588.0 163.4L588.5 163.5L589.0 163.6L589.5 163.6L590.0 163.7L590.5 163.8L591.0 163.9L591.5 164.0L592.0 164.1L592.5 164.1L593.0 164.2L593.5 164.3L594.0 164.4L594.5 164.5L595.0 164.5L595.5 164.6L596.0 164.7L596.5 164.8L597.0 164.9L597.5 164.9L598.0 165.0L598.5 165.1L599.0 165.2L599.5 165.3L600.0 165.3L600.5 165.4L601.0 165.5L601.5 165.6L602.0 165.6L602.5 165.7L603.0 165.8L603.5 165.9L604.0 165.9L604.5 166.0L605.0 166.1L605.5 166.2L606.0 166.2L606.5 166.3L607.0 166.4L607.5 166.5L608.0 166.5L608.5 166.6L609.0 166.7L609.5 166.8L610.0 166.8L610.5 166.9L611.0 167.0L611.5 167.1L612.0 167.1L612.5 167.2L613.0 167.3L613.5 167.3L614.0 167.4L614.5 167.5L615.0 167.5L615.5 167.6L616.0 167.7L616.5 167.8L617.0 167.8L617.5 167.9L618.0 168.0L618.5 168.0L619.0 168.1L619.5 168.2L620.0 168.2L620.5 168.3L621.0 168.4L621.5 168.4L622.0 168.5L622.5 168.6L623.0 168.6L623.5 168.7L624.0 168.8L624.5 168.8L625.0 168.9L625.5 169.0L626.0 169.0L626.5 169.1L627.0 169.2L627.5 169.2L628.0 169.3L628.5 169.4L629.0 169.4L629.5 169.5L630.0 169.6L630.5 169.6L631.0 169.7L631.5 169.7L632.0 169.8L632.5 169.9L633.0 169.9L633.5 170.0L634.0 170.1L634.5 170.1L635.0 170.2L635.5 170.2L636.0 170.3L636.5 170.4L637.0 170.4L637.5 170.5L638.0 170.6L638.5 170.6L639.0 170.7L639.5 170.7L640.0 170.8L640.5 170.9L641.0 170.9L641.5 171.0L642.0 171.0L642.5 171.1L643.0 171.2L643.5 171.2L644.0 171.3L644.5 171.3L645.0 171.4L645.5 171.5L646.0 171.5L646.5 171.6L647.0 171.6L647.5 171.7L648.0 171.7L648.5 171.8L649.0 171.9L649.5 171.9L650.0 172.0L650.5 172.0L651.0 172.1L651.5 172.1L652.0 172.2L652.5 172.3L653.0 172.3L653.5 172.4L654.0 172.4L654.5 172.5L655.0 172.5L655.5 172.6L656.0 172.6L656.5 172.7L657.0 172.8L657.5 172.8L658.0 172.9L658.5 172.9L659.0 173.0L659.5 173.0L660.0 173.1L660.5 173.1L661.0 173.2L661.5 173.2L662.0 173.3L662.5 173.3L663.0 173.4L663.5 173.5L664.0 173.5L664.5 173.6L665.0 173.6L665.5 173.7L666.0 173.7L666.5 173.8L667.0 173.8L667.5 173.9L668.0 173.9L668.5 174.0L668.8 174.0" stroke="#b65252" stroke-width="1.1"/>
<path d="M59.4 190.5L59.5 190.5L60.0 190.5L60.5 190.4L61.0 190.4L61.5 190.3L62.0 190.3L62.5 190.2L63.0 190.2L63.5 190.1L64.0 190.1L64.5 190.0L65.0 190.0L65.5 189.9L66.0 189.9L66.5 189.8L67.0 189.8L67.5 189.7L68.0 189.7L68.5 189.6L69.0 189.6L69.5 189.5L70.0 189.5L70.5 189.4L71.0 189.4L71.5 189.3L72.0 189.3L72.5 189.2L73.0 189.2L73.5 189.1L74.0 189.1L74.5 189.0L75.0 189.0L75.5 188.9L76.0 188.9L76.5 188.8L77.0 188.8L77.5 188.7L78.0 188.7L78.5 188.6L79.0 188.6L79.5 188.5L80.0 188.5L80.5 188.4L81.0 188.4L81.5 188.3L82.0 188.3L82.5 188.2L83.0 188.2L83.5 188.1L84.0 188.1L84.5 188.0L85.0 188.0L85.5 187.9L86.0 187.9L86.5 187.8L87.0 187.7L87.5 187.7L88.0 187.6L88.5 187.6L89.0 187.5L89.5 187.5L90.0 187.4L90.5 187.4L91.0 187.3L91.5 187.3L92.0 187.2L92.5 187.2L93.0 187.1L93.5 187.1L94.0 187.0L94.5 187.0L95.0 186.9L95.5 186.8L96.0 186.8L96.5 186.7L97.0 186.7L97.5 186.6L98.0 186.6L98.5 186.5L99.0 186.5L99.5 186.4L100.0 186.4L100.5 186.3L101.0 186.2L101.5 186.2L102.0 186.1L102.5 186.1L103.0 186.0L103.5 186.0L104.0 185.9L104.5 185.9L105.0 185.8L105.5 185.8L106.0 185.7L106.5 185.6L107.0 185.6L107.5 185.5L108.0 185.5L108.5 185.4L109.0 185.4L109.5 185.3L110.0 185.2L110.5 185.2L111.0 185.1L111.5 185.1L112.0 185.0L112.5 185.0L113.0 184.9L113.5 184.9L114.0 184.8L114.5 184.7L115.0 184.7L115.5 184.6L116.0 184.6L116.5 184.5L117.0 184.4L117.5 184.4L118.0 184.3L118.5 184.3L119.0 184.2L119.5 184.2L120.0 184.1L120.5 184.0L121.0 184.0L121.5 183.9L122.0 183.9L122.5 183.8L123.0 183.7L123.5 183.7L124.0 183.6L124.5 183.6L125.0 183.5L125.5 183.4L126.0 183.4L126.5 183.3L127.0 183.3L127.5 183.2L128.0 183.1L128.5 183.1L129.0 183.0L129.5 183.0L130.0 182.9L130.5 182.8L131.0 182.8L131.5 182.7L132.0 182.7L132.5 182.6L133.0 182.5L133.5 182.5L134.0 182.4L134.5 182.3L135.0 182.3L135.5 182.2L136.0 182.2L136.5 182.1L137.0 182.0L137.5 182.0L138.0 181.9L138.5 181.8L139.0 181.8L139.5 181.7L140.0 181.7L140.5 181.6L141.0 181.5L141.5 181.5L142.0 181.4L142.5 181.3L143.0 181.3L143.5 181.2L144.0 181.1L144.5 181.1L145.0 181.0L145.5 181.0L146.0 180.9L146.5 180.8L147.0 180.8L147.5 180.7L148.0 180.6L148.5 180.6L149.0 180.5L149.5 180.4L150.0 180.4L150.5 180.3L151.0 180.2L151.5 180.2L152.0 180.1L152.5 180.0L153.0 180.0L153.5 179.9L154.0 179.8L154.5 179.8L155.0 179.7L155.5 179.6L156.0 179.6L156.5 179.5L157.0 179.4L157.5 179.4L158.0 179.3L158.5 179.2L159.0 179.2L159.5 179.1L160.0 179.0L160.5 178.9L161.0 178.9L161.5 178.8L162.0 178.7L162.5 178.7L163.0 178.6L163.5 178.5L164.0 178.5L164.5 178.4L165.0 178.3L165.5 178.2L166.0 178.2L166.5 178.1L167.0 178.0L167.5 178.0L168.0 177.9L168.5 177.8L169.0 177.7L169.5 177.7L170.0 177.6L170.5 177.5L171.0 177.5L171.5 177.4L172.0 177.3L172.5 177.2L173.0 177.2L173.5 177.1L174.0 177.0L174.5 176.9L175.0 176.9L175.5 176.8L176.0 176.7L176.5 176.6L177.0 176.6L177.5 176.5L178.0 176.4L178.5 176.3L179.0 176.3L179.5 176.2L180.0 176.1L180.5 176.0L181.0 176.0L181.5 175.9L182.0 175.8L182.5 175.7L183.0 175.7L183.5 175.6L184.0 175.5L184.5 175.4L185.0 175.3L185.5 175.3L186.0 175.2L186.5 175.1L187.0 175.0L187.5 175.0L188.0 174.9L188.5 174.8L189.0 174.7L189.5 174.6L190.0 174.6L190.5 174.5L191.0 174.4L191.5 174.3L192.0 174.2L192.5 174.2L193.0 174.1L193.5 174.0L194.0 173.9L194.5 173.8L195.0 173.8L195.5 173.7L196.0 173.6L196.5 173.5L197.0 173.4L197.5 173.3L198.0 173.3L198.5 173.2L199.0 173.1L199.5 173.0L200.0 172.9L200.5 172.8L201.0 172.8L201.5 172.7L202.0 172.6L202.5 172.5L203.0 172.4L203.5 172.3L204.0 172.2L204.5 172.2L205.0 172.1L205.5 172.0L206.0 171.9L206.5 171.8L207.0 171.7L207.5 171.6L208.0 171.5L208.5 171.5L209.0 171.4L209.5 171.3L210.0 171.2L210.5 171.1L211.0 171.0L211.5 170.9L212.0 170.8L212.5 170.7L213.0 170.6L213.5 170.6L214.0 170.5L214.5 170.4L215.0 170.3L215.5 170.2L216.0 170.1L216.5 170.0L217.0 169.9L217.5 169.8L218.0 169.7L218.5 169.6L219.0 169.5L219.5 169.4L220.0 169.3L220.5 169.2L221.0 169.2L221.5 169.1L222.0 169.0L222.5 168.9L223.0 168.8L223.5 168.7L224.0 168.6L224.5 168.5L225.0 168.4L225.5 168.3L226.0 168.2L226.5 168.1L227.0 168.0L227.5 167.9L228.0 167.8L228.5 167.7L229.0 167.6L229.5 167.5L230.0 167.4L230.5 167.3L231.0 167.2L231.5 167.1L232.0 167.0L232.5 166.9L233.0 166.8L233.5 166.7L234.0 166.6L234.5 166.5L235.0 166.3L235.5 166.2L236.0 166.1L236.5 166.0L237.0 165.9L237.5 165.8L238.0 165.7L238.5 165.6L239.0 165.5L239.5 165.4L240.0 165.3L240.5 165.2L241.0 165.1L241.5 165.0L242.0 164.8L242.5 164.7L243.0 164.6L243.5 164.5L244.0 164.4L244.5 164.3L245.0 164.2L245.5 164.1L246.0 163.9L246.5 163.8L247.0 163.7L247.5 163.6L248.0 163.5L248.5 163.4L249.0 163.3L249.5 163.1L250.0 163.0L250.5 162.9L251.0 162.8L251.5 162.7L252.0 162.5L252.5 162.4L253.0 162.3L253.5 162.2L254.0 162.1L254.5 161.9L255.0 161.8L255.5 161.7L256.0 161.6L256.5 161.5L257.0 161.3L257.5 161.2L258.0 161.1L258.5 161.0L259.0 160.8L259.5 160.7L260.0 160.6L260.5 160.4L261.0 160.3L261.5 160.2L262.0 160.1L262.5 159.9L263.0 159.8L263.5 159.7L264.0 159.5L264.5 159.4L265.0 159.3L265.5 159.1L266.0 159.0L266.5 158.9L267.0 158.7L267.5 158.6L268.0 158.5L268.5 158.3L269.0 158.2L269.5 158.0L270.0 157.9L270.5 157.8L271.0 157.6L271.5 157.5L272.0 157.3L272.5 157.2L273.0 157.0L273.5 156.9L274.0 156.8L274.5 156.6L275.0 156.5L275.5 156.3L276.0 156.2L276.5 156.0L277.0 155.9L277.5 155.7L278.0 155.6L278.5 155.4L279.0 155.3L279.5 155.1L280.0 155.0L280.5 154.8L281.0 154.6L281.5 154.5L282.0 154.3L282.5 154.2L283.0 154.0L283.5 153.9L284.0 153.7L284.5 153.5L285.0 153.4L285.5 153.2L286.0 153.0L286.5 152.9L287.0 152.7L287.5 152.5L288.0 152.4L288.5 152.2L289.0 152.0L289.5 151.9L290.0 151.7L290.5 151.5L291.0 151.3L291.5 151.2L292.0 151.0L292.5 150.8L293.0 150.6L293.5 150.4L294.0 150.3L294.5 150.1L295.0 149.9L295.5 149.7L296.0 149.5L296.5 149.3L297.0 149.1L297.5 149.0L298.0 148.8L298.5 148.6L299.0 148.4L299.5 148.2L300.0 148.0L300.5 147.8L301.0 147.6L301.5 147.4L302.0 147.2L302.5 147.0L303.0 146.8L303.5 146.6L304.0 146.4L304.5 146.2L305.0 145.9L305.5 145.7L306.0 145.5L306.5 145.3L307.0 145.1L307.5 144.9L308.0 144.6L308.5 144.4L309.0 144.2L309.5 144.0L310.0 143.7L310.5 143.5L311.0 143.3L311.5 143.1L312.0 142.8L312.5 142.6L313.0 142.3L313.5 142.1L314.0 141.9L314.5 141.6L315.0 141.4L315.5 141.1L316.0 140.9L316.5 140.6L317.0 140.4L317.5 140.1L318.0 139.8L318.5 139.6L319.0 139.3L319.5 139.0L320.0 138.8L320.5 138.5L321.0 138.2L321.5 137.9L322.0 137.7L322.5 137.4L323.0 137.1L323.5 136.8L324.0 136.5L324.5 136.2L325.0 135.9L325.5 135.6L326.0 135.3L326.5 135.0L327.0 134.7L327.5 134.4L328.0 134.0L328.5 133.7L329.0 133.4L329.5 133.1L330.0 132.7L330.5 132.4L331.0 132.1L331.5 131.7L332.0 131.4L332.5 131.0L333.0 130.6L333.5 130.3L334.0 129.9L334.5 129.5L335.0 129.2L335.5 128.8L336.0 128.4L336.5 128.0L337.0 127.6L337.5 127.2L338.0 126.8L338.5 126.3L339.0 125.9L339.5 125.5L340.0 125.1L340.5 124.6L341.0 124.2L341.5 123.7L342.0 123.2L342.5 122.8L343.0 122.3L343.5 121.8L344.0 121.3L344.5 120.8L345.0 120.3L345.5 119.8L346.0 119.2L346.5 118.7L347.0 118.1L347.5 117.5L348.0 117.0L348.5 116.4L349.0 115.8L349.5 115.2L350.0 114.5L350.5 113.9L351.0 113.2L351.5 112.6L352.0 111.9L352.5 111.2L353.0 110.4L353.5 109.7L354.0 108.9L354.5 108.2L355.0 107.4L355.5 106.5L356.0 105.7L356.5 104.8L357.0 103.9L357.5 103.0L358.0 102.0L358.5 101.0L359.0 100.0L359.5 98.9L360.0 97.8L360.5 96.6L361.0 95.4L361.5 94.2L362.0 92.9L362.5 91.5L363.0 90.1L363.5 88.6L364.0 87.0L364.5 85.3L364.8 84.5L365.0 83.6L365.2 82.6L365.5 81.7L365.8 80.7L366.0 79.7L366.2 78.6L366.5 77.6L366.8 76.5L367.0 75.4L367.2 74.3L367.5 73.2L367.8 72.0L368.0 70.7L368.2 69.3L368.5 67.7L368.8 65.9L369.0 63.7L369.2 61.1L369.5 58.0L369.8 54.5L370.0 50.7L370.2 46.1L370.5 40.4L370.8 34.4L371.0 29.3L371.2 26.0L371.5 22.8L371.8 19.8L372.0 17.1L372.2 15.0L372.5 14.1L372.8 15.3L373.0 17.4L373.2 19.9L373.5 22.6L373.8 25.2L374.0 27.8L374.2 30.8L374.5 34.5L374.8 38.4L375.0 42.2L375.2 45.7L375.5 48.7L375.8 51.1L376.0 53.2L376.2 54.9L376.5 56.5L376.8 58.0L377.0 59.5L377.2 60.9L377.5 62.4L377.8 63.9L378.0 65.5L378.2 67.4L378.5 69.3L378.8 70.8L379.0 72.3L379.2 73.6L379.5 74.9L379.8 76.1L380.0 77.3L380.2 78.4L380.5 79.5L381.0 81.7L381.5 83.7L382.0 85.6L382.5 87.4L383.0 89.1L383.5 90.8L384.0 92.3L384.5 93.8L385.0 95.2L385.5 96.5L386.0 97.8L386.5 99.0L387.0 100.2L387.5 101.3L388.0 102.4L388.5 103.4L389.0 104.4L389.5 105.4L390.0 106.3L390.5 107.2L391.0 108.0L391.5 108.9L392.0 109.7L392.5 110.4L393.0 111.2L393.5 111.9L394.0 112.6L394.5 113.3L395.0 114.0L395.5 114.7L396.0 115.3L396.5 115.9L397.0 116.5L397.5 117.1L398.0 117.7L398.5 118.3L399.0 118.8L399.5 119.4L400.0 119.9L400.5 120.4L401.0 120.9L401.5 121.4L402.0 121.9L402.5 122.4L403.0 122.9L403.5 123.3L404.0 123.8L404.5 124.2L405.0 124.7L405.5 125.1L406.0 125.5L406.5 126.0L407.0 126.4L407.5 126.8L408.0 127.2L408.5 127.6L409.0 127.9L409.5 128.3L410.0 128.7L410.5 129.1L411.0 129.4L411.5 129.8L412.0 130.2L412.5 130.5L413.0 130.8L413.5 131.2L414.0 131.5L414.5 131.9L415.0 132.2L415.5 132.5L416.0 132.8L416.5 133.1L417.0 133.5L417.5 133.8L418.0 134.1L418.5 134.4L419.0 134.7L419.5 135.0L420.0 135.3L420.5 135.6L421.0 135.9L421.5 136.1L422.0 136.4L422.5 136.7L423.0 137.0L423.5 137.3L424.0 137.5L424.5 137.8L425.0 138.1L425.5 138.3L426.0 138.6L426.5 138.9L427.0 139.1L427.5 139.4L428.0 139.6L428.5 139.9L429.0 140.1L429.5 140.4L430.0 140.6L430.5 140.9L431.0 141.1L431.5 141.3L432.0 141.6L432.5 141.8L433.0 142.1L433.5 142.3L434.0 142.5L434.5 142.8L435.0 143.0L435.5 143.2L436.0 143.4L436.5 143.7L437.0 143.9L437.5 144.1L438.0 144.3L438.5 144.5L439.0 144.8L439.5 145.0L440.0 145.2L440.5 145.4L441.0 145.6L441.5 145.8L442.0 146.0L442.5 146.2L443.0 146.4L443.5 146.7L444.0 146.9L444.5 147.1L445.0 147.3L445.5 147.5L446.0 147.7L446.5 147.9L447.0 148.0L447.5 148.2L448.0 148.4L448.5 148.6L449.0 148.8L449.5 149.0L450.0 149.2L450.5 149.4L451.0 149.6L451.5 149.8L452.0 149.9L452.5 150.1L453.0 150.3L453.5 150.5L454.0 150.7L454.5 150.8L455.0 151.0L455.5 151.2L456.0 151.4L456.5 151.5L457.0 151.7L457.5 151.9L458.0 152.1L458.5 152.2L459.0 152.4L459.5 152.6L460.0 152.7L460.5 152.9L461.0 153.1L461.5 153.2L462.0 153.4L462.5 153.6L463.0 153.7L463.5 153.9L464.0 154.0L464.5 154.2L465.0 154.4L465.5 154.5L466.0 154.7L466.5 154.8L467.0 155.0L467.5 155.1L468.0 155.3L468.5 155.4L469.0 155.6L469.5 155.7L470.0 155.9L470.5 156.0L471.0 156.2L471.5 156.3L472.0 156.5L472.5 156.6L473.0 156.8L473.5 156.9L474.0 157.1L474.5 157.2L475.0 157.3L475.5 157.5L476.0 157.6L476.5 157.8L477.0 157.9L477.5 158.0L478.0 158.2L478.5 158.3L479.0 158.5L479.5 158.6L480.0 158.7L480.5 158.9L481.0 159.0L481.5 159.1L482.0 159.3L482.5 159.4L483.0 159.5L483.5 159.7L484.0 159.8L484.5 159.9L485.0 160.0L485.5 160.2L486.0 160.3L486.5 160.4L487.0 160.5L487.5 160.7L488.0 160.8L488.5 160.9L489.0 161.0L489.5 161.2L490.0 161.3L490.5 161.4L491.0 161.5L491.5 161.6L492.0 161.8L492.5 161.9L493.0 162.0L493.5 162.1L494.0 162.2L494.5 162.4L495.0 162.5L495.5 162.6L496.0 162.7L496.5 162.8L497.0 162.9L497.5 163.0L498.0 163.2L498.5 163.3L499.0 163.4L499.5 163.5L500.0 163.6L500.5 163.7L501.0 163.8L501.5 163.9L502.0 164.0L502.5 164.2L503.0 164.3L503.5 164.4L504.0 164.5L504.5 164.6L505.0 164.7L505.5 164.8L506.0 164.9L506.5 165.0L507.0 165.1L507.5 165.2L508.0 165.3L508.5 165.4L509.0 165.5L509.5 165.6L510.0 165.7L510.5 165.8L511.0 165.9L511.5 166.0L512.0 166.1L512.5 166.2L513.0 166.3L513.5 166.4L514.0 166.5L514.5 166.6L515.0 166.7L515.5 166.8L516.0 166.9L516.5 167.0L517.0 167.1L517.5 167.2L518.0 167.3L518.5 167.4L519.0 167.5L519.5 167.6L520.0 167.7L520.5 167.7L521.0 167.8L521.5 167.9L522.0 168.0L522.5 168.1L523.0 168.2L523.5 168.3L524.0 168.4L524.5 168.5L525.0 168.6L525.5 168.7L526.0 168.7L526.5 168.8L527.0 168.9L527.5 169.0L528.0 169.1L528.5 169.2L529.0 169.3L529.5 169.3L530.0 169.4L530.5 169.5L531.0 169.6L531.5 169.7L532.0 169.8L532.5 169.9L533.0 169.9L533.5 170.0L534.0 170.1L534.5 170.2L535.0 170.3L535.5 170.3L536.0 170.4L536.5 170.5L537.0 170.6L537.5 170.7L538.0 170.8L538.5 170.8L539.0 170.9L539.5 171.0L540.0 171.1L540.5 171.1L541.0 171.2L541.5 171.3L542.0 171.4L542.5 171.5L543.0 171.5L543.5 171.6L544.0 171.7L544.5 171.8L545.0 171.8L545.5 171.9L546.0 172.0L546.5 172.1L547.0 172.1L547.5 172.2L548.0 172.3L548.5 172.4L549.0 172.4L549.5 172.5L550.0 172.6L550.5 172.7L551.0 172.7L551.5 172.8L552.0 172.9L552.5 172.9L553.0 173.0L553.5 173.1L554.0 173.2L554.5 173.2L555.0 173.3L555.5 173.4L556.0 173.4L556.5 173.5L557.0 173.6L557.5 173.6L558.0 173.7L558.5 173.8L559.0 173.8L559.5 173.9L560.0 174.0L560.5 174.0L561.0 174.1L561.5 174.2L562.0 174.2L562.5 174.3L563.0 174.4L563.5 174.4L564.0 174.5L564.5 174.6L565.0 174.6L565.5 174.7L566.0 174.8L566.5 174.8L567.0 174.9L567.5 175.0L568.0 175.0L568.5 175.1L569.0 175.2L569.5 175.2L570.0 175.3L570.5 175.3L571.0 175.4L571.5 175.5L572.0 175.5L572.5 175.6L573.0 175.6L573.5 175.7L574.0 175.8L574.5 175.8L575.0 175.9L575.5 176.0L576.0 176.0L576.5 176.1L577.0 176.1L577.5 176.2L578.0 176.3L578.5 176.3L579.0 176.4L579.5 176.4L580.0 176.5L580.5 176.5L581.0 176.6L581.5 176.7L582.0 176.7L582.5 176.8L583.0 176.8L583.5 176.9L584.0 176.9L584.5 177.0L585.0 177.1L585.5 177.1L586.0 177.2L586.5 177.2L587.0 177.3L587.5 177.3L588.0 177.4L588.5 177.4L589.0 177.5L589.5 177.6L590.0 177.6L590.5 177.7L591.0 177.7L591.5 177.8L592.0 177.8L592.5 177.9L593.0 177.9L593.5 178.0L594.0 178.0L594.5 178.1L595.0 178.1L595.5 178.2L596.0 178.2L596.5 178.3L597.0 178.3L597.5 178.4L598.0 178.5L598.5 178.5L599.0 178.6L599.5 178.6L600.0 178.7L600.5 178.7L601.0 178.8L601.5 178.8L602.0 178.9L602.5 178.9L603.0 179.0L603.5 179.0L604.0 179.1L604.5 179.1L605.0 179.2L605.5 179.2L606.0 179.3L606.5 179.3L607.0 179.3L607.5 179.4L608.0 179.4L608.5 179.5L609.0 179.5L609.5 179.6L610.0 179.6L610.5 179.7L611.0 179.7L611.5 179.8L612.0 179.8L612.5 179.9L613.0 179.9L613.5 180.0L614.0 180.0L614.5 180.1L615.0 180.1L615.5 180.1L616.0 180.2L616.5 180.2L617.0 180.3L617.5 180.3L618.0 180.4L618.5 180.4L619.0 180.5L619.5 180.5L620.0 180.5L620.5 180.6L621.0 180.6L621.5 180.7L622.0 180.7L622.5 180.8L623.0 180.8L623.5 180.9L624.0 180.9L624.5 180.9L625.0 181.0L625.5 181.0L626.0 181.1L626.5 181.1L627.0 181.2L627.5 181.2L628.0 181.2L628.5 181.3L629.0 181.3L629.5 181.4L630.0 181.4L630.5 181.4L631.0 181.5L631.5 181.5L632.0 181.6L632.5 181.6L633.0 181.6L633.5 181.7L634.0 181.7L634.5 181.8L635.0 181.8L635.5 181.9L636.0 181.9L636.5 181.9L637.0 182.0L637.5 182.0L638.0 182.0L638.5 182.1L639.0 182.1L639.5 182.2L640.0 182.2L640.5 182.2L641.0 182.3L641.5 182.3L642.0 182.4L642.5 182.4L643.0 182.4L643.5 182.5L644.0 182.5L644.5 182.5L645.0 182.6L645.5 182.6L646.0 182.7L646.5 182.7L647.0 182.7L647.5 182.8L648.0 182.8L648.5 182.8L649.0 182.9L649.5 182.9L650.0 183.0L650.5 183.0L651.0 183.0L651.5 183.1L652.0 183.1L652.5 183.1L653.0 183.2L653.5 183.2L654.0 183.2L654.5 183.3L655.0 183.3L655.5 183.3L656.0 183.4L656.5 183.4L657.0 183.5L657.5 183.5L658.0 183.5L658.5 183.6L659.0 183.6L659.5 183.6L660.0 183.7L660.5 183.7L661.0 183.7L661.5 183.8L662.0 183.8L662.5 183.8L663.0 183.9L663.5 183.9L664.0 183.9L664.5 184.0L665.0 184.0L665.5 184.0L666.0 184.1L666.5 184.1L667.0 184.1L667.5 184.2L668.0 184.2L668.5 184.2L668.8 184.2" stroke="#52ae52" stroke-width="1.1"/>
</g>
<line x1="302.6" y1="11.20" x2="302.6" y2="346.00" stroke="#000" stroke-width="2.2" stroke-dasharray="10.4 4.3 2.4 4.5" stroke-dashoffset="0"/>
<g stroke="#5e5e5e" stroke-width="1" fill="none">
<line x1="120.02" y1="346.00" x2="120.02" y2="339.50"/>
<line x1="120.02" y1="6.60" x2="120.02" y2="13.10"/>
<line x1="180.98" y1="346.00" x2="180.98" y2="339.50"/>
<line x1="180.98" y1="6.60" x2="180.98" y2="13.10"/>
<line x1="241.95" y1="346.00" x2="241.95" y2="339.50"/>
<line x1="241.95" y1="6.60" x2="241.95" y2="13.10"/>
<line x1="302.91" y1="346.00" x2="302.91" y2="339.50"/>
<line x1="302.91" y1="6.60" x2="302.91" y2="13.10"/>
<line x1="363.88" y1="346.00" x2="363.88" y2="339.50"/>
<line x1="363.88" y1="6.60" x2="363.88" y2="13.10"/>
<line x1="424.84" y1="346.00" x2="424.84" y2="339.50"/>
<line x1="424.84" y1="6.60" x2="424.84" y2="13.10"/>
<line x1="485.81" y1="346.00" x2="485.81" y2="339.50"/>
<line x1="485.81" y1="6.60" x2="485.81" y2="13.10"/>
<line x1="546.77" y1="346.00" x2="546.77" y2="339.50"/>
<line x1="546.77" y1="6.60" x2="546.77" y2="13.10"/>
<line x1="607.74" y1="346.00" x2="607.74" y2="339.50"/>
<line x1="607.74" y1="6.60" x2="607.74" y2="13.10"/>
<line x1="59.05" y1="297.51" x2="65.55" y2="297.51"/>
<line x1="668.70" y1="297.51" x2="662.20" y2="297.51"/>
<line x1="59.05" y1="249.03" x2="65.55" y2="249.03"/>
<line x1="668.70" y1="249.03" x2="662.20" y2="249.03"/>
<line x1="59.05" y1="200.54" x2="65.55" y2="200.54"/>
<line x1="668.70" y1="200.54" x2="662.20" y2="200.54"/>
<line x1="59.05" y1="152.06" x2="65.55" y2="152.06"/>
<line x1="668.70" y1="152.06" x2="662.20" y2="152.06"/>
<line x1="59.05" y1="103.57" x2="65.55" y2="103.57"/>
<line x1="668.70" y1="103.57" x2="662.20" y2="103.57"/>
<line x1="59.05" y1="55.09" x2="65.55" y2="55.09"/>
<line x1="668.70" y1="55.09" x2="662.20" y2="55.09"/>
<rect x="59.05" y="6.60" width="609.65" height="339.40"/>
</g>
<text x="52.6" y="351.40" font-family="'Liberation Serif', serif" font-size="16" text-anchor="end" fill="#222">0</text>
<text x="52.6" y="302.91" font-family="'Liberation Serif', serif" font-size="16" text-anchor="end" fill="#222">2</text>
<text x="52.6" y="254.43" font-family="'Liberation Serif', serif" font-size="16" text-anchor="end" fill="#222">4</text>
<text x="52.6" y="205.94" font-family="'Liberation Serif', serif" font-size="16" text-anchor="end" fill="#222">6</text>
<text x="52.6" y="157.46" font-family="'Liberation Serif', serif" font-size="16" text-anchor="end" fill="#222">8</text>
<text x="52.6" y="108.97" font-family="'Liberation Serif', serif" font-size="16" text-anchor="end" fill="#222">10</text>
<text x="52.6" y="60.49" font-family="'Liberation Serif', serif" font-size="16" text-anchor="end" fill="#222">12</text>
<text x="52.6" y="12.00" font-family="'Liberation Serif', serif" font-size="16" text-anchor="end" fill="#222">14</text>
<rect x="127.30" y="95.80" width="167.70" height="186.20" fill="#fff" stroke="none"/>
<line x1="253.0" y1="102.70" x2="253.0" y2="282.00" stroke="#606060" stroke-width="1.1" stroke-dasharray="6.3 4.7"/>
<polyline points="127.30,282.00 157.70,282.00 158.50,279.20 158.75,279.17 159.00,279.15 159.25,279.12 159.50,279.10 159.75,279.07 160.00,279.04 160.25,279.01 160.50,278.99 160.75,278.96 161.00,278.93 161.25,278.90 161.50,278.87 161.75,278.84 162.00,278.81 162.25,278.78 162.50,278.75 162.75,278.72 163.00,278.69 163.25,278.66 163.50,278.63 163.75,278.60 164.00,278.57 164.25,278.53 164.50,278.50 164.75,278.47 165.00,278.44 165.25,278.40 165.50,278.37 165.75,278.34 166.00,278.30 166.25,278.27 166.50,278.24 166.75,278.20 167.00,278.17 167.25,278.13 167.50,278.10 167.75,278.06 168.00,278.03 168.25,277.99 168.50,277.96 168.75,277.92 169.00,277.89 169.25,277.85 169.50,277.81 169.75,277.78 170.00,277.74 170.25,277.70 170.50,277.66 170.75,277.63 171.00,277.59 171.25,277.55 171.50,277.51 171.75,277.47 172.00,277.43 172.25,277.39 172.50,277.35 172.75,277.31 173.00,277.27 173.25,277.23 173.50,277.19 173.75,277.14 174.00,277.10 174.25,277.06 174.50,277.02 174.75,276.97 175.00,276.93 175.25,276.88 175.50,276.84 175.75,276.79 176.00,276.75 176.25,276.70 176.50,276.65 176.75,276.61 177.00,276.56 177.25,276.51 177.50,276.46 177.75,276.41 178.00,276.36 178.25,276.31 178.50,276.26 178.75,276.20 179.00,276.15 179.25,276.10 179.50,276.04 179.75,275.98 180.00,275.93 180.25,275.87 180.50,275.81 180.75,275.75 181.00,275.69 181.25,275.63 181.50,275.57 181.75,275.51 182.00,275.45 182.25,275.39 182.50,275.32 182.75,275.26 183.00,275.20 183.25,275.13 183.50,275.07 183.75,275.00 184.00,274.93 184.25,274.87 184.50,274.80 184.75,274.73 185.00,274.67 185.25,274.60 185.50,274.53 185.75,274.46 186.00,274.39 186.25,274.32 186.50,274.25 186.75,274.18 187.00,274.11 187.25,274.04 187.50,273.97 187.75,273.90 188.00,273.83 188.25,273.76 188.50,273.68 188.75,273.61 189.00,273.54 189.25,273.46 189.50,273.39 189.75,273.31 190.00,273.24 190.25,273.16 190.50,273.08 190.75,273.01 191.00,272.93 191.25,272.85 191.50,272.77 191.75,272.69 192.00,272.61 192.25,272.53 192.50,272.45 192.75,272.37 193.00,272.29 193.25,272.21 193.50,272.12 193.75,272.04 194.00,271.96 194.25,271.87 194.50,271.79 194.75,271.70 195.00,271.62 195.25,271.53 195.50,271.45 195.75,271.36 196.00,271.27 196.25,271.18 196.50,271.10 196.75,271.01 197.00,270.92 197.25,270.83 197.50,270.74 197.75,270.65 198.00,270.56 198.25,270.47 198.50,270.37 198.70,270.30 198.70,257.10 198.95,256.76 199.20,256.36 199.45,255.90 199.70,255.38 199.95,254.80 200.20,254.18 200.45,253.51 200.70,252.81 200.95,252.07 201.20,251.29 201.45,250.49 201.70,249.67 201.95,248.83 202.20,247.91 202.45,246.89 202.70,245.78 202.95,244.60 203.20,243.35 203.45,242.05 203.70,240.70 203.95,239.31 204.20,237.90 204.45,236.48 204.70,235.07 204.95,233.68 205.20,232.27 205.45,230.83 205.70,229.31 205.95,227.69 206.20,225.94 206.45,224.04 206.70,221.94 206.95,219.61 207.20,216.77 207.45,213.39 207.70,209.57 207.95,205.42 208.20,201.07 208.45,196.61 208.70,191.85 208.95,186.43 209.20,180.00 209.45,171.24 209.60,165.00 209.85,163.69 210.10,162.41 210.35,161.18 210.60,160.00 210.85,158.88 211.10,157.87 211.35,156.95 211.60,156.07 211.85,155.19 212.10,154.25 212.35,153.20 212.60,152.00 212.85,150.67 213.10,149.16 213.35,147.32 213.60,145.00 213.85,141.42 214.10,136.47 214.20,134.30 214.45,139.18 214.70,143.52 214.95,146.89 215.20,149.40 215.45,151.55 215.70,153.85 215.95,156.80 216.20,161.40 216.45,169.09 216.70,174.28 216.95,178.57 217.20,182.29 217.45,185.66 217.70,188.80 217.95,191.50 218.20,193.55 218.45,195.30 218.70,196.87 218.95,198.23 219.20,199.39 219.45,200.34 219.70,201.12 219.95,201.83 220.20,202.47 220.45,203.01 220.70,203.45 220.95,203.75 221.20,203.97 221.45,204.15 221.70,204.30 221.95,204.38 222.10,204.40 222.35,204.37 222.60,204.30 222.85,204.18 223.10,204.02 223.35,203.84 223.60,203.54 223.85,202.99 224.10,202.26 224.35,201.42 224.60,200.54 224.85,199.50 225.10,198.29 225.35,196.91 225.60,195.36 225.85,193.64 226.10,191.58 226.35,189.14 226.60,186.40 226.85,183.42 226.90,182.80 227.15,188.03 227.40,192.00 227.65,194.67 227.90,196.81 228.15,198.57 228.40,200.09 228.65,201.49 228.90,202.79 229.15,203.98 229.40,205.05 229.65,206.03 229.90,206.89 230.15,207.64 230.40,208.35 230.65,209.02 230.90,209.65 231.15,210.24 231.40,210.79 231.65,211.28 231.90,211.72 232.15,212.09 232.40,212.40 232.65,212.64 232.90,212.88 233.15,213.11 233.40,213.33 233.65,213.53 233.90,213.72 234.15,213.90 234.40,214.06 234.65,214.19 234.90,214.31 235.15,214.40 235.40,214.46 235.65,214.49 235.90,214.50 236.15,214.49 236.40,214.47 236.65,214.44 236.90,214.40 237.15,214.35 237.40,214.29 237.65,214.23 237.90,214.16 238.15,214.09 238.40,214.01 238.65,213.92 238.90,213.84 239.15,213.74 239.40,213.61 239.65,213.45 239.90,213.26 240.15,213.05 240.40,212.82 240.65,212.57 240.90,212.32 241.15,212.06 241.40,211.80 241.65,211.54 241.90,211.26 242.15,210.97 242.40,210.66 242.65,210.34 242.90,210.01 243.15,209.66 243.40,209.29 243.65,208.91 243.90,208.52 244.15,208.10 244.40,207.68 244.65,207.23 244.90,206.74 245.15,206.21 245.40,205.65 245.65,205.05 245.90,204.44 246.15,203.80 246.40,203.15 246.65,202.48 246.90,201.81 247.15,201.13 247.40,200.46 247.65,199.78 247.90,199.09 248.15,198.38 248.40,197.65 248.65,196.89 248.90,196.09 249.15,195.26 249.40,194.37 249.65,193.44 249.90,192.50 250.15,191.51 250.40,190.43 250.65,189.24 250.90,187.89 251.15,186.34 251.40,184.50 251.65,182.21 251.90,179.34 252.15,175.80 252.40,171.03 252.65,164.09 252.90,155.00 253.15,140.49 253.40,122.97 253.65,103.86 253.70,99.80 253.95,119.41 254.20,136.83 254.45,152.93 254.70,163.53 254.95,171.00 255.20,176.43 255.45,179.96 255.70,182.69 255.95,184.90 256.20,186.72 256.45,188.30 256.70,189.73 256.95,191.01 257.20,192.12 257.45,193.04 257.70,193.78 257.95,194.42 258.20,194.99 258.45,195.49 258.70,195.91 258.95,196.24 259.20,196.52 259.45,196.78 259.70,197.01 259.95,197.20 260.20,197.34 260.45,197.40 260.70,197.39 260.95,197.35 261.20,197.27 261.45,197.18 261.70,197.06 261.95,196.94 262.20,196.80 262.45,196.63 262.70,196.39 262.95,196.09 263.20,195.73 263.45,195.33 263.70,194.89 263.95,194.40 264.20,193.80 264.45,193.06 264.70,192.18 264.95,191.16 265.20,190.00 265.45,188.67 265.70,187.02 265.95,184.86 266.20,182.00 266.45,177.04 266.70,168.99 266.95,156.53 267.20,136.00 267.45,143.54 267.70,150.00 267.95,155.59 268.20,160.00 268.45,162.72 268.70,164.91 268.95,168.12 269.20,173.95 269.45,180.76 269.70,186.85 269.95,192.81 270.20,198.36 270.45,203.55 270.70,208.53 270.95,213.40 271.20,218.31 271.45,223.31 271.70,228.33 271.95,233.35 272.20,238.37 272.45,243.40 272.50,244.40 272.75,245.51 273.00,246.57 273.25,247.56 273.50,248.48 273.75,249.30 274.00,250.00 274.25,250.61 274.50,251.16 274.75,251.66 275.00,252.12 275.25,252.55 275.50,252.98 275.75,253.40 276.00,253.82 276.25,254.27 276.50,254.71 276.75,255.15 277.00,255.58 277.25,256.01 277.50,256.43 277.75,256.84 278.00,257.24 278.25,257.62 278.50,258.00 278.75,258.36 279.00,258.71 279.25,259.05 279.50,259.37 279.75,259.70 280.00,260.01 280.25,260.33 280.50,260.65 280.75,260.97 281.00,261.30 281.25,261.63 281.50,261.96 281.75,262.30 282.00,262.63 282.25,262.96 282.50,263.29 282.75,263.63 283.00,263.96 283.25,264.29 283.50,264.63 283.75,264.96 284.00,265.30 284.25,265.63 284.50,265.97 284.60,266.10 284.80,281.90 295.00,281.90" fill="none" stroke="#52b052" stroke-width="1" stroke-linejoin="round"/>
<g stroke="#5a5a5a" stroke-width="1" fill="none">
<rect x="127.30" y="95.80" width="167.70" height="186.20"/>
<line x1="127.30" y1="255.40" x2="129.30" y2="255.40"/>
<line x1="295.00" y1="255.40" x2="293.00" y2="255.40"/>
<line x1="127.30" y1="228.80" x2="129.30" y2="228.80"/>
<line x1="295.00" y1="228.80" x2="293.00" y2="228.80"/>
<line x1="127.30" y1="202.20" x2="129.30" y2="202.20"/>
<line x1="295.00" y1="202.20" x2="293.00" y2="202.20"/>
<line x1="127.30" y1="175.60" x2="129.30" y2="175.60"/>
<line x1="295.00" y1="175.60" x2="293.00" y2="175.60"/>
<line x1="127.30" y1="149.00" x2="129.30" y2="149.00"/>
<line x1="295.00" y1="149.00" x2="293.00" y2="149.00"/>
<line x1="127.30" y1="122.40" x2="129.30" y2="122.40"/>
<line x1="295.00" y1="122.40" x2="293.00" y2="122.40"/>
<line x1="152.45" y1="282.00" x2="152.45" y2="280.00"/>
<line x1="152.45" y1="95.80" x2="152.45" y2="97.80"/>
<line x1="202.76" y1="282.00" x2="202.76" y2="280.00"/>
<line x1="202.76" y1="95.80" x2="202.76" y2="97.80"/>
<line x1="253.07" y1="282.00" x2="253.07" y2="280.00"/>
<line x1="253.07" y1="95.80" x2="253.07" y2="97.80"/>
</g>
<text x="120.8" y="286.60" font-family="'Liberation Serif', serif" font-size="13.5" text-anchor="end" fill="#222">0</text>
<text x="120.8" y="260.00" font-family="'Liberation Serif', serif" font-size="13.5" text-anchor="end" fill="#222">2</text>
<text x="120.8" y="233.40" font-family="'Liberation Serif', serif" font-size="13.5" text-anchor="end" fill="#222">4</text>
<text x="120.8" y="206.80" font-family="'Liberation Serif', serif" font-size="13.5" text-anchor="end" fill="#222">6</text>
<text x="120.8" y="180.20" font-family="'Liberation Serif', serif" font-size="13.5" text-anchor="end" fill="#222">8</text>
<text x="120.8" y="153.60" font-family="'Liberation Serif', serif" font-size="13.5" text-anchor="end" fill="#222">10</text>
<text x="120.8" y="127.00" font-family="'Liberation Serif', serif" font-size="13.5" text-anchor="end" fill="#222">12</text>
<text x="120.8" y="100.40" font-family="'Liberation Serif', serif" font-size="13.5" text-anchor="end" fill="#222">14</text>
<text x="152.45" y="301" font-family="'Liberation Serif', serif" font-size="13.5" text-anchor="middle" fill="#222">-0.6</text>
<text x="202.76" y="301" font-family="'Liberation Serif', serif" font-size="13.5" text-anchor="middle" fill="#222">-0.3</text>
<text x="253.07" y="301" font-family="'Liberation Serif', serif" font-size="13.5" text-anchor="middle" fill="#222">0</text>
<text x="210.4" y="318.4" font-family="'Liberation Serif', serif" font-size="15" text-anchor="middle" fill="#222">energy (eV)</text>
<text transform="translate(100,189) rotate(-90)" font-family="'Liberation Serif', serif" font-size="15" text-anchor="middle" fill="#222">DOS</text>
<text x="143.2" y="128.6" font-family="'Liberation Serif', serif" font-size="15.5" fill="#111">SOC</text>
<text x="147.4" y="149.0" font-family="'Liberation Serif', serif" font-size="15.3" fill="#111">0.2 eV</text>
<rect x="580.5" y="18.5" width="77.9" height="80.8" fill="#fff" stroke="#777" stroke-width="1"/>
<line x1="580.5" y1="39.6" x2="658.4" y2="39.6" stroke="#777" stroke-width="1"/>
<text x="619.4" y="33.7" font-family="'Liberation Serif', serif" font-size="14" font-weight="bold" text-anchor="middle" fill="#111">SOC (eV)</text>
<line x1="586.2" y1="51.4" x2="628.9" y2="51.4" stroke="#5858bd" stroke-width="1.2"/>
<text x="632.0" y="56.8" font-family="'Liberation Serif', serif" font-size="15" fill="#111">0.0</text>
<line x1="586.2" y1="69.4" x2="628.9" y2="69.4" stroke="#b65252" stroke-width="1.2"/>
<text x="632.0" y="74.8" font-family="'Liberation Serif', serif" font-size="15" fill="#111">0.1</text>
<line x1="586.2" y1="87.5" x2="628.9" y2="87.5" stroke="#52ae52" stroke-width="1.2"/>
<text x="632.0" y="92.9" font-family="'Liberation Serif', serif" font-size="15" fill="#111">0.2</text>
<rect x="508.35" y="180.75" width="137.30" height="152.30" fill="#fff" stroke="none"/>
<g fill="none" stroke="#111" stroke-width="1.25" stroke-linejoin="round">
<polyline points="623.3,204.8 622.6,204.3 621.9,203.9 621.1,203.4 620.4,203.0 619.7,202.5 619.0,202.1 618.2,201.6 617.5,201.2 616.8,200.8 616.0,200.3 615.3,199.9 614.6,199.5 613.8,199.1 613.1,198.6 612.4,198.2 611.6,197.8 610.9,197.4 610.1,197.0 609.4,196.6 608.6,196.2 607.9,195.8 607.1,195.4 606.3,195.0 605.6,194.6 604.8,194.3 604.1,193.9 603.3,193.5 602.5,193.1 601.8,192.8 601.0,192.4 600.2,192.0 599.4,191.7 598.7,191.3 597.9,191.0 597.1,190.7 596.3,190.3 595.5,190.0 594.7,189.7 594.0,189.3 593.2,189.0 592.4,188.7 591.6,188.4 590.8,188.2 590.0,187.9 589.1,187.6 588.3,187.4 587.5,187.1 586.7,186.9 585.9,186.7 585.0,186.5 584.2,186.3 583.4,186.1 582.5,186.0 581.7,185.9 580.8,185.7 580.0,185.6 579.1,185.6 578.3,185.5 577.4,185.5 576.6,185.5 575.7,185.5 574.9,185.6 574.0,185.6 573.2,185.7 572.3,185.9 571.5,186.0 570.6,186.1 569.8,186.3 569.0,186.5 568.1,186.7 567.3,186.9 566.5,187.1 565.7,187.4 564.9,187.6 564.0,187.9 563.2,188.2 562.4,188.4 561.6,188.7 560.8,189.0 560.0,189.3 559.3,189.7 558.5,190.0 557.7,190.3 556.9,190.7 556.1,191.0 555.3,191.3 554.6,191.7 553.8,192.0 553.0,192.4 552.2,192.8 551.5,193.1 550.7,193.5 549.9,193.9 549.2,194.3 548.4,194.6 547.7,195.0 546.9,195.4 546.1,195.8 545.4,196.2 544.6,196.6 543.9,197.0 543.1,197.4 542.4,197.8 541.6,198.2 540.9,198.6 540.2,199.1 539.4,199.5 538.7,199.9 538.0,200.3 537.2,200.8 536.5,201.2 535.8,201.6 535.0,202.1 534.3,202.5 533.6,203.0 532.9,203.4 532.1,203.9 531.4,204.3 530.7,204.8"/>
<polyline points="623.3,309.0 622.6,309.5 621.9,309.9 621.1,310.4 620.4,310.8 619.7,311.3 619.0,311.7 618.2,312.2 617.5,312.6 616.8,313.0 616.0,313.5 615.3,313.9 614.6,314.3 613.8,314.7 613.1,315.2 612.4,315.6 611.6,316.0 610.9,316.4 610.1,316.8 609.4,317.2 608.6,317.6 607.9,318.0 607.1,318.4 606.3,318.8 605.6,319.2 604.8,319.5 604.1,319.9 603.3,320.3 602.5,320.7 601.8,321.0 601.0,321.4 600.2,321.8 599.4,322.1 598.7,322.5 597.9,322.8 597.1,323.1 596.3,323.5 595.5,323.8 594.7,324.1 594.0,324.5 593.2,324.8 592.4,325.1 591.6,325.4 590.8,325.6 590.0,325.9 589.1,326.2 588.3,326.4 587.5,326.7 586.7,326.9 585.9,327.1 585.0,327.3 584.2,327.5 583.4,327.7 582.5,327.8 581.7,327.9 580.8,328.1 580.0,328.2 579.1,328.2 578.3,328.3 577.4,328.3 576.6,328.3 575.7,328.3 574.9,328.2 574.0,328.2 573.2,328.1 572.3,327.9 571.5,327.8 570.6,327.7 569.8,327.5 569.0,327.3 568.1,327.1 567.3,326.9 566.5,326.7 565.7,326.4 564.9,326.2 564.0,325.9 563.2,325.6 562.4,325.4 561.6,325.1 560.8,324.8 560.0,324.5 559.3,324.1 558.5,323.8 557.7,323.5 556.9,323.1 556.1,322.8 555.3,322.5 554.6,322.1 553.8,321.8 553.0,321.4 552.2,321.0 551.5,320.7 550.7,320.3 549.9,319.9 549.2,319.5 548.4,319.2 547.7,318.8 546.9,318.4 546.1,318.0 545.4,317.6 544.6,317.2 543.9,316.8 543.1,316.4 542.4,316.0 541.6,315.6 540.9,315.2 540.2,314.7 539.4,314.3 538.7,313.9 538.0,313.5 537.2,313.0 536.5,312.6 535.8,312.2 535.0,311.7 534.3,311.3 533.6,310.8 532.9,310.4 532.1,309.9 531.4,309.5 530.7,309.0"/>
<polyline points="530.7,309.0 530.3,308.4 530.0,307.8 529.6,307.2 529.3,306.6 529.0,306.0 528.6,305.3 528.3,304.7 528.0,304.1 527.6,303.5 527.3,302.9 527.0,302.3 526.7,301.6 526.4,301.0 526.0,300.4 525.7,299.8 525.4,299.1 525.1,298.5 524.8,297.9 524.5,297.2 524.2,296.6 523.9,296.0 523.6,295.3 523.3,294.7 523.1,294.1 522.8,293.4 522.5,292.8 522.2,292.1 521.9,291.5 521.7,290.8 521.4,290.2 521.1,289.6 520.8,288.9 520.6,288.3 520.3,287.6 520.0,287.0 519.8,286.3 519.5,285.7 519.2,285.0 519.0,284.4 518.7,283.7 518.5,283.1 518.2,282.4 517.9,281.8 517.7,281.1 517.5,280.5 517.2,279.8 517.0,279.1 516.8,278.5 516.5,277.8 516.3,277.2 516.1,276.5 515.9,275.8 515.7,275.2 515.5,274.5 515.3,273.8 515.1,273.1 514.9,272.5 514.7,271.8 514.5,271.1 514.4,270.4 514.2,269.7 514.1,269.1 513.9,268.4 513.8,267.7 513.7,267.0 513.5,266.3 513.4,265.6 513.3,264.9 513.2,264.2 513.1,263.5 513.0,262.8 513.0,262.1 512.9,261.4 512.8,260.7 512.8,260.0 512.8,259.3 512.7,258.6 512.7,258.0 512.7,257.3 512.7,256.5 512.7,255.8 512.7,255.2 512.8,254.5 512.8,253.8 512.8,253.1 512.9,252.4 513.0,251.7 513.0,251.0 513.1,250.3 513.2,249.6 513.3,248.9 513.4,248.2 513.5,247.5 513.7,246.8 513.8,246.1 513.9,245.4 514.1,244.7 514.2,244.1 514.4,243.4 514.5,242.7 514.7,242.0 514.9,241.3 515.1,240.7 515.3,240.0 515.5,239.3 515.7,238.6 515.9,238.0 516.1,237.3 516.3,236.6 516.5,236.0 516.8,235.3 517.0,234.7 517.2,234.0 517.5,233.3 517.7,232.7 517.9,232.0 518.2,231.4 518.5,230.7 518.7,230.1 519.0,229.4 519.2,228.8 519.5,228.1 519.8,227.5 520.0,226.8 520.3,226.2 520.6,225.5 520.8,224.9 521.1,224.2 521.4,223.6 521.7,223.0 521.9,222.3 522.2,221.7 522.5,221.0 522.8,220.4 523.1,219.7 523.3,219.1 523.6,218.5 523.9,217.8 524.2,217.2 524.5,216.6 524.8,215.9 525.1,215.3 525.4,214.7 525.7,214.0 526.0,213.4 526.4,212.8 526.7,212.2 527.0,211.5 527.3,210.9 527.6,210.3 528.0,209.7 528.3,209.1 528.6,208.5 529.0,207.8 529.3,207.2 529.6,206.6 530.0,206.0 530.3,205.4 530.7,204.8"/>
<polyline points="623.3,309.0 623.7,308.4 624.0,307.8 624.4,307.2 624.7,306.6 625.0,306.0 625.4,305.3 625.7,304.7 626.0,304.1 626.4,303.5 626.7,302.9 627.0,302.3 627.3,301.6 627.6,301.0 628.0,300.4 628.3,299.8 628.6,299.1 628.9,298.5 629.2,297.9 629.5,297.2 629.8,296.6 630.1,296.0 630.4,295.3 630.7,294.7 630.9,294.1 631.2,293.4 631.5,292.8 631.8,292.1 632.1,291.5 632.3,290.8 632.6,290.2 632.9,289.6 633.2,288.9 633.4,288.3 633.7,287.6 634.0,287.0 634.2,286.3 634.5,285.7 634.8,285.0 635.0,284.4 635.3,283.7 635.5,283.1 635.8,282.4 636.1,281.8 636.3,281.1 636.5,280.5 636.8,279.8 637.0,279.1 637.2,278.5 637.5,277.8 637.7,277.2 637.9,276.5 638.1,275.8 638.3,275.2 638.5,274.5 638.7,273.8 638.9,273.1 639.1,272.5 639.3,271.8 639.5,271.1 639.6,270.4 639.8,269.7 639.9,269.1 640.1,268.4 640.2,267.7 640.3,267.0 640.5,266.3 640.6,265.6 640.7,264.9 640.8,264.2 640.9,263.5 641.0,262.8 641.0,262.1 641.1,261.4 641.2,260.7 641.2,260.0 641.2,259.3 641.3,258.6 641.3,258.0 641.3,257.3 641.3,256.5 641.3,255.8 641.3,255.2 641.2,254.5 641.2,253.8 641.2,253.1 641.1,252.4 641.0,251.7 641.0,251.0 640.9,250.3 640.8,249.6 640.7,248.9 640.6,248.2 640.5,247.5 640.3,246.8 640.2,246.1 640.1,245.4 639.9,244.7 639.8,244.1 639.6,243.4 639.5,242.7 639.3,242.0 639.1,241.3 638.9,240.7 638.7,240.0 638.5,239.3 638.3,238.6 638.1,238.0 637.9,237.3 637.7,236.6 637.5,236.0 637.2,235.3 637.0,234.7 636.8,234.0 636.5,233.3 636.3,232.7 636.1,232.0 635.8,231.4 635.5,230.7 635.3,230.1 635.0,229.4 634.8,228.8 634.5,228.1 634.2,227.5 634.0,226.8 633.7,226.2 633.4,225.5 633.2,224.9 632.9,224.2 632.6,223.6 632.3,223.0 632.1,222.3 631.8,221.7 631.5,221.0 631.2,220.4 630.9,219.7 630.7,219.1 630.4,218.5 630.1,217.8 629.8,217.2 629.5,216.6 629.2,215.9 628.9,215.3 628.6,214.7 628.3,214.0 628.0,213.4 627.6,212.8 627.3,212.2 627.0,211.5 626.7,210.9 626.4,210.3 626.0,209.7 625.7,209.1 625.4,208.5 625.0,207.8 624.7,207.2 624.4,206.6 624.0,206.0 623.7,205.4 623.3,204.8"/>
<polyline points="577.0,200.7 576.1,200.7 575.2,200.7 574.3,200.7 573.4,200.7 572.5,200.8 571.6,200.8 570.7,200.8 569.8,200.9 568.9,200.9 568.0,201.0 567.1,201.0 566.2,201.1 565.2,201.2 564.3,201.2 563.4,201.3 562.5,201.4 561.6,201.5 560.7,201.5 559.8,201.6 558.9,201.7 558.0,201.9 557.1,202.0 556.2,202.1 555.4,202.3 554.5,202.4 553.6,202.6 552.7,202.8 551.8,203.0 550.9,203.2 550.0,203.4 549.2,203.7 548.3,203.9 547.4,204.2 546.6,204.6 545.8,204.9 544.9,205.3 544.1,205.7 543.3,206.1 542.5,206.6 541.8,207.1 541.0,207.6 540.3,208.1 539.6,208.7 538.9,209.3 538.2,209.9 537.6,210.6 537.0,211.2 536.4,211.9 535.8,212.6 535.3,213.4 534.8,214.1 534.3,214.9 533.8,215.7 533.4,216.4 532.9,217.2 532.5,218.1 532.1,218.9 531.8,219.7 531.4,220.5 531.1,221.4 530.8,222.2 530.5,223.1 530.2,224.0 529.9,224.8 529.7,225.7 529.4,226.6 529.2,227.4 529.0,228.3 528.8,229.2 528.6,230.1 528.4,231.0 528.3,231.9 528.1,232.8 527.9,233.7 527.8,234.6 527.7,235.5 527.6,236.3 527.4,237.2 527.3,238.1 527.2,239.0 527.2,239.9 527.1,240.9 527.0,241.8 526.9,242.7 526.9,243.6 526.8,244.5 526.8,245.4 526.7,246.3 526.7,247.2 526.7,248.1 526.7,249.0 526.6,249.9 526.6,250.8 526.6,251.7 526.6,252.6 526.6,253.5 526.6,254.4 526.6,255.3 526.6,256.2 526.6,257.1 526.6,258.0 526.6,258.9 526.6,259.8 526.6,260.7 526.6,261.7 526.6,262.6 526.6,263.5 526.7,264.4 526.7,265.3 526.7,266.2 526.7,267.1 526.8,268.0 526.8,268.9 526.9,269.8 526.9,270.7 527.0,271.6 527.0,272.5 527.1,273.4 527.2,274.3 527.3,275.2 527.4,276.1 527.5,277.0 527.6,277.9 527.7,278.8 527.9,279.7 528.0,280.6 528.2,281.5 528.3,282.4 528.5,283.3 528.7,284.1 528.9,285.0 529.1,285.9 529.3,286.8 529.5,287.7 529.8,288.5 530.1,289.4 530.3,290.3 530.6,291.1 530.9,292.0 531.2,292.8 531.6,293.7 531.9,294.5 532.3,295.3 532.7,296.2 533.1,297.0 533.6,297.8 534.0,298.5 534.5,299.3 535.0,300.1 535.6,300.8 536.1,301.5 536.7,302.2 537.3,302.9 537.9,303.6 538.6,304.2 539.2,304.8 539.9,305.4 540.7,306.0 541.4,306.5 542.1,307.0 542.9,307.5 543.7,307.9 544.5,308.3 545.3,308.7 546.2,309.1 547.0,309.4 547.9,309.7 548.7,310.0 549.6,310.3 550.5,310.5 551.4,310.7 552.2,310.9 553.1,311.1 554.0,311.3 554.9,311.5 555.8,311.6 556.7,311.7 557.6,311.9 558.5,312.0 559.4,312.1 560.3,312.2 561.2,312.3 562.1,312.4 563.0,312.5 563.9,312.5 564.8,312.6 565.7,312.7 566.6,312.7 567.5,312.8 568.4,312.9 569.3,312.9 570.2,312.9 571.1,313.0 572.0,313.0 572.9,313.0 573.8,313.1 574.7,313.1 575.6,313.1 576.5,313.1 577.5,313.1 578.4,313.1 579.3,313.1 580.2,313.1 581.1,313.0 582.0,313.0 582.9,313.0 583.8,312.9 584.7,312.9 585.6,312.9 586.5,312.8 587.4,312.7 588.3,312.7 589.2,312.6 590.1,312.5 591.0,312.5 591.9,312.4 592.8,312.3 593.7,312.2 594.6,312.1 595.5,312.0 596.4,311.9 597.3,311.7 598.2,311.6 599.1,311.5 600.0,311.3 600.9,311.1 601.8,310.9 602.6,310.7 603.5,310.5 604.4,310.3 605.3,310.0 606.1,309.7 607.0,309.4 607.8,309.1 608.7,308.7 609.5,308.3 610.3,307.9 611.1,307.5 611.9,307.0 612.6,306.5 613.3,306.0 614.1,305.4 614.8,304.8 615.4,304.2 616.1,303.6 616.7,302.9 617.3,302.2 617.9,301.5 618.4,300.8 619.0,300.1 619.5,299.3 620.0,298.5 620.4,297.8 620.9,297.0 621.3,296.2 621.7,295.3 622.1,294.5 622.4,293.7 622.8,292.8 623.1,292.0 623.4,291.1 623.7,290.3 623.9,289.4 624.2,288.5 624.5,287.7 624.7,286.8 624.9,285.9 625.1,285.0 625.3,284.1 625.5,283.3 625.7,282.4 625.8,281.5 626.0,280.6 626.1,279.7 626.3,278.8 626.4,277.9 626.5,277.0 626.6,276.1 626.7,275.2 626.8,274.3 626.9,273.4 627.0,272.5 627.0,271.6 627.1,270.7 627.1,269.8 627.2,268.9 627.2,268.0 627.3,267.1 627.3,266.2 627.3,265.3 627.3,264.4 627.4,263.5 627.4,262.6 627.4,261.7 627.4,260.7 627.4,259.8 627.4,258.9 627.4,258.0 627.4,257.1 627.4,256.2 627.4,255.3 627.4,254.4 627.4,253.5 627.4,252.6 627.4,251.7 627.4,250.8 627.4,249.9 627.3,249.0 627.3,248.1 627.3,247.2 627.3,246.3 627.2,245.4 627.2,244.5 627.1,243.6 627.1,242.7 627.0,241.8 626.9,240.9 626.8,239.9 626.8,239.0 626.7,238.1 626.6,237.2 626.4,236.3 626.3,235.5 626.2,234.6 626.1,233.7 625.9,232.8 625.7,231.9 625.6,231.0 625.4,230.1 625.2,229.2 625.0,228.3 624.8,227.4 624.6,226.6 624.3,225.7 624.1,224.8 623.8,224.0 623.5,223.1 623.2,222.2 622.9,221.4 622.6,220.5 622.2,219.7 621.9,218.9 621.5,218.1 621.1,217.2 620.6,216.4 620.2,215.7 619.7,214.9 619.2,214.1 618.7,213.4 618.2,212.6 617.6,211.9 617.0,211.2 616.4,210.6 615.8,209.9 615.1,209.3 614.4,208.7 613.7,208.1 613.0,207.6 612.2,207.1 611.5,206.6 610.7,206.1 609.9,205.7 609.1,205.3 608.2,204.9 607.4,204.6 606.6,204.2 605.7,203.9 604.8,203.7 604.0,203.4 603.1,203.2 602.2,203.0 601.3,202.8 600.4,202.6 599.5,202.4 598.6,202.3 597.8,202.1 596.9,202.0 596.0,201.9 595.1,201.7 594.2,201.6 593.3,201.5 592.4,201.5 591.5,201.4 590.6,201.3 589.7,201.2 588.8,201.2 587.8,201.1 586.9,201.0 586.0,201.0 585.1,200.9 584.2,200.9 583.3,200.8 582.4,200.8 581.5,200.8 580.6,200.7 579.7,200.7 578.8,200.7 577.9,200.7 577.0,200.7"/>
<polyline points="508.3,206.8 508.9,206.6 509.5,206.4 510.2,206.3 510.8,206.1 511.5,206.0 512.2,205.9 513.0,205.9 513.7,205.8 514.4,205.7 515.2,205.7 516.0,205.6 516.7,205.6 517.5,205.5 518.2,205.5 519.0,205.4 519.7,205.3 520.5,205.2 521.2,205.1 521.9,204.9 522.6,204.7 523.2,204.5 523.9,204.3 524.5,204.0 525.1,203.6 525.7,203.3 526.2,202.8 526.7,202.4 527.2,201.8 527.6,201.3 528.0,200.7 528.4,200.1 528.8,199.4 529.1,198.8 529.4,198.1 529.6,197.4 529.9,196.8 530.1,196.1 530.3,195.4 530.5,194.7 530.7,194.0 530.8,193.3 530.9,192.6 531.1,191.9 531.2,191.2 531.3,190.5 531.3,189.8 531.4,189.1 531.5,188.4 531.6,187.7 531.6,187.0 531.7,186.3 531.8,185.6 531.8,184.9 531.9,184.2 532.0,183.5 532.1,182.8 532.2,182.1 532.3,181.4 532.4,180.7"/>
<polyline points="508.3,307.0 508.9,307.2 509.5,307.4 510.2,307.5 510.8,307.7 511.5,307.8 512.2,307.9 513.0,307.9 513.7,308.0 514.4,308.1 515.2,308.1 516.0,308.2 516.7,308.2 517.5,308.3 518.2,308.3 519.0,308.4 519.7,308.5 520.5,308.6 521.2,308.7 521.9,308.9 522.6,309.1 523.2,309.3 523.9,309.5 524.5,309.8 525.1,310.2 525.7,310.5 526.2,311.0 526.7,311.4 527.2,312.0 527.6,312.5 528.0,313.1 528.4,313.7 528.8,314.4 529.1,315.0 529.4,315.7 529.6,316.4 529.9,317.0 530.1,317.7 530.3,318.4 530.5,319.1 530.7,319.8 530.8,320.5 530.9,321.2 531.1,321.9 531.2,322.6 531.3,323.3 531.3,324.0 531.4,324.7 531.5,325.4 531.6,326.1 531.6,326.8 531.7,327.5 531.8,328.2 531.8,328.9 531.9,329.6 532.0,330.3 532.1,331.0 532.2,331.7 532.3,332.4 532.4,333.1"/>
<polyline points="645.7,206.8 645.1,206.6 644.5,206.4 643.8,206.3 643.2,206.1 642.5,206.0 641.8,205.9 641.0,205.9 640.3,205.8 639.6,205.7 638.8,205.7 638.0,205.6 637.3,205.6 636.5,205.5 635.8,205.5 635.0,205.4 634.3,205.3 633.5,205.2 632.8,205.1 632.1,204.9 631.4,204.7 630.8,204.5 630.1,204.3 629.5,204.0 628.9,203.6 628.3,203.3 627.8,202.8 627.3,202.4 626.8,201.8 626.4,201.3 626.0,200.7 625.6,200.1 625.2,199.4 624.9,198.8 624.6,198.1 624.4,197.4 624.1,196.8 623.9,196.1 623.7,195.4 623.5,194.7 623.3,194.0 623.2,193.3 623.1,192.6 622.9,191.9 622.8,191.2 622.7,190.5 622.7,189.8 622.6,189.1 622.5,188.4 622.4,187.7 622.4,187.0 622.3,186.3 622.2,185.6 622.2,184.9 622.1,184.2 622.0,183.5 621.9,182.8 621.8,182.1 621.7,181.4 621.6,180.7"/>
<polyline points="645.7,307.0 645.1,307.2 644.5,307.4 643.8,307.5 643.2,307.7 642.5,307.8 641.8,307.9 641.0,307.9 640.3,308.0 639.6,308.1 638.8,308.1 638.0,308.2 637.3,308.2 636.5,308.3 635.8,308.3 635.0,308.4 634.3,308.5 633.5,308.6 632.8,308.7 632.1,308.9 631.4,309.1 630.8,309.3 630.1,309.5 629.5,309.8 628.9,310.2 628.3,310.5 627.8,311.0 627.3,311.4 626.8,312.0 626.4,312.5 626.0,313.1 625.6,313.7 625.2,314.4 624.9,315.0 624.6,315.7 624.4,316.4 624.1,317.0 623.9,317.7 623.7,318.4 623.5,319.1 623.3,319.8 623.2,320.5 623.1,321.2 622.9,321.9 622.8,322.6 622.7,323.3 622.7,324.0 622.6,324.7 622.5,325.4 622.4,326.1 622.4,326.8 622.3,327.5 622.2,328.2 622.2,328.9 622.1,329.6 622.0,330.3 621.9,331.0 621.8,331.7 621.7,332.4 621.6,333.1"/>
</g>
<rect x="508.35" y="180.75" width="137.30" height="152.30" fill="none" stroke="#7a7a7a" stroke-width="1"/>
<circle cx="577.00" cy="256.90" r="1.7" fill="#000"/>
<circle cx="577.00" cy="180.75" r="1.7" fill="#000"/>
<circle cx="645.65" cy="180.75" r="1.7" fill="#000"/>
<circle cx="645.65" cy="256.90" r="1.7" fill="#000"/>
<text transform="translate(487,203.3) scale(1.25,1)" font-family="'Liberation Serif', serif" font-style="italic" font-size="18" fill="#222" style="stroke:none">&#945;</text>
<text transform="translate(487.6,263.6) scale(1.35,1)" font-family="'Liberation Serif', serif" font-style="italic" font-size="17" fill="#222" style="stroke:none">&#947;</text>
<text transform="translate(533,232.4) scale(1.35,1)" font-family="'Liberation Serif', serif" font-style="italic" font-size="17" fill="#777" style="stroke:none">&#946;</text>
<text x="76.8" y="41.0" font-family="'Liberation Serif', serif" font-size="35" fill="#111" style="stroke-width:0.4px">(a)</text>
<text x="145.3" y="56.4" font-family="'Liberation Serif', serif" font-size="20" fill="#111">&#949;</text>
<text x="153.6" y="65.6" font-family="'Liberation Serif', serif" font-style="italic" font-size="16" fill="#111">aa</text>
<text x="174.2" y="56.4" font-family="'Liberation Serif', serif" font-size="20" fill="#111">= 0.0%</text>
<text transform="translate(26.90,178.00) rotate(-90)" font-family="'Liberation Serif', serif" font-size="23" text-anchor="middle" fill="#111">DOS (states eV<tspan font-size="16.5" dy="-11.5" dx="-0.8">-1</tspan><tspan dy="11.5" dx="1.2">spin</tspan><tspan font-size="16.5" dy="-11.5" dx="-1.2">-1</tspan><tspan dy="11.5" dx="2.6">Ru</tspan><tspan font-size="16.5" dy="-11.5" dx="-0.8">-1</tspan><tspan dy="11.5" dx="0.6">)</tspan></text>
<g clip-path="url(#cb)" fill="none" stroke-linejoin="round">
<path d="M59.4 576.2L59.5 576.2L60.0 576.1L60.5 576.1L61.0 576.0L61.5 576.0L62.0 575.9L62.5 575.9L63.0 575.8L63.5 575.8L64.0 575.7L64.5 575.7L65.0 575.6L65.5 575.6L66.0 575.5L66.5 575.5L67.0 575.4L67.5 575.4L68.0 575.3L68.5 575.3L69.0 575.3L69.5 575.2L70.0 575.2L70.5 575.1L71.0 575.1L71.5 575.0L72.0 575.0L72.5 574.9L73.0 574.9L73.5 574.8L74.0 574.8L74.5 574.7L75.0 574.7L75.5 574.6L76.0 574.6L76.5 574.5L77.0 574.5L77.5 574.4L78.0 574.4L78.5 574.3L79.0 574.3L79.5 574.2L80.0 574.1L80.5 574.1L81.0 574.0L81.5 574.0L82.0 573.9L82.5 573.9L83.0 573.8L83.5 573.8L84.0 573.7L84.5 573.7L85.0 573.6L85.5 573.6L86.0 573.5L86.5 573.5L87.0 573.4L87.5 573.4L88.0 573.3L88.5 573.3L89.0 573.2L89.5 573.2L90.0 573.1L90.5 573.1L91.0 573.0L91.5 573.0L92.0 572.9L92.5 572.8L93.0 572.8L93.5 572.7L94.0 572.7L94.5 572.6L95.0 572.6L95.5 572.5L96.0 572.5L96.5 572.4L97.0 572.4L97.5 572.3L98.0 572.3L98.5 572.2L99.0 572.2L99.5 572.1L100.0 572.0L100.5 572.0L101.0 571.9L101.5 571.9L102.0 571.8L102.5 571.8L103.0 571.7L103.5 571.7L104.0 571.6L104.5 571.5L105.0 571.5L105.5 571.4L106.0 571.4L106.5 571.3L107.0 571.3L107.5 571.2L108.0 571.2L108.5 571.1L109.0 571.0L109.5 571.0L110.0 570.9L110.5 570.9L111.0 570.8L111.5 570.8L112.0 570.7L112.5 570.6L113.0 570.6L113.5 570.5L114.0 570.5L114.5 570.4L115.0 570.4L115.5 570.3L116.0 570.2L116.5 570.2L117.0 570.1L117.5 570.1L118.0 570.0L118.5 570.0L119.0 569.9L119.5 569.8L120.0 569.8L120.5 569.7L121.0 569.7L121.5 569.6L122.0 569.5L122.5 569.5L123.0 569.4L123.5 569.4L124.0 569.3L124.5 569.3L125.0 569.2L125.5 569.1L126.0 569.1L126.5 569.0L127.0 569.0L127.5 568.9L128.0 568.8L128.5 568.8L129.0 568.7L129.5 568.7L130.0 568.6L130.5 568.5L131.0 568.5L131.5 568.4L132.0 568.3L132.5 568.3L133.0 568.2L133.5 568.2L134.0 568.1L134.5 568.0L135.0 568.0L135.5 567.9L136.0 567.9L136.5 567.8L137.0 567.7L137.5 567.7L138.0 567.6L138.5 567.5L139.0 567.5L139.5 567.4L140.0 567.3L140.5 567.3L141.0 567.2L141.5 567.2L142.0 567.1L142.5 567.0L143.0 567.0L143.5 566.9L144.0 566.8L144.5 566.8L145.0 566.7L145.5 566.6L146.0 566.6L146.5 566.5L147.0 566.5L147.5 566.4L148.0 566.3L148.5 566.3L149.0 566.2L149.5 566.1L150.0 566.1L150.5 566.0L151.0 565.9L151.5 565.9L152.0 565.8L152.5 565.7L153.0 565.7L153.5 565.6L154.0 565.5L154.5 565.5L155.0 565.4L155.5 565.3L156.0 565.3L156.5 565.2L157.0 565.1L157.5 565.1L158.0 565.0L158.5 564.9L159.0 564.8L159.5 564.8L160.0 564.7L160.5 564.6L161.0 564.6L161.5 564.5L162.0 564.4L162.5 564.4L163.0 564.3L163.5 564.2L164.0 564.2L164.5 564.1L165.0 564.0L165.5 563.9L166.0 563.9L166.5 563.8L167.0 563.7L167.5 563.7L168.0 563.6L168.5 563.5L169.0 563.4L169.5 563.4L170.0 563.3L170.5 563.2L171.0 563.2L171.5 563.1L172.0 563.0L172.5 562.9L173.0 562.9L173.5 562.8L174.0 562.7L174.5 562.6L175.0 562.6L175.5 562.5L176.0 562.4L176.5 562.3L177.0 562.3L177.5 562.2L178.0 562.1L178.5 562.0L179.0 562.0L179.5 561.9L180.0 561.8L180.5 561.7L181.0 561.7L181.5 561.6L182.0 561.5L182.5 561.4L183.0 561.4L183.5 561.3L184.0 561.2L184.5 561.1L185.0 561.1L185.5 561.0L186.0 560.9L186.5 560.8L187.0 560.7L187.5 560.7L188.0 560.6L188.5 560.5L189.0 560.4L189.5 560.3L190.0 560.3L190.5 560.2L191.0 560.1L191.5 560.0L192.0 559.9L192.5 559.9L193.0 559.8L193.5 559.7L194.0 559.6L194.5 559.5L195.0 559.5L195.5 559.4L196.0 559.3L196.5 559.2L197.0 559.1L197.5 559.0L198.0 559.0L198.5 558.9L199.0 558.8L199.5 558.7L200.0 558.6L200.5 558.5L201.0 558.5L201.5 558.4L202.0 558.3L202.5 558.2L203.0 558.1L203.5 558.0L204.0 557.9L204.5 557.9L205.0 557.8L205.5 557.7L206.0 557.6L206.5 557.5L207.0 557.4L207.5 557.3L208.0 557.2L208.5 557.2L209.0 557.1L209.5 557.0L210.0 556.9L210.5 556.8L211.0 556.7L211.5 556.6L212.0 556.5L212.5 556.4L213.0 556.4L213.5 556.3L214.0 556.2L214.5 556.1L215.0 556.0L215.5 555.9L216.0 555.8L216.5 555.7L217.0 555.6L217.5 555.5L218.0 555.4L218.5 555.3L219.0 555.2L219.5 555.2L220.0 555.1L220.5 555.0L221.0 554.9L221.5 554.8L222.0 554.7L222.5 554.6L223.0 554.5L223.5 554.4L224.0 554.3L224.5 554.2L225.0 554.1L225.5 554.0L226.0 553.9L226.5 553.8L227.0 553.7L227.5 553.6L228.0 553.5L228.5 553.4L229.0 553.3L229.5 553.2L230.0 553.1L230.5 553.0L231.0 552.9L231.5 552.8L232.0 552.7L232.5 552.6L233.0 552.5L233.5 552.4L234.0 552.3L234.5 552.2L235.0 552.1L235.5 552.0L236.0 551.9L236.5 551.8L237.0 551.6L237.5 551.5L238.0 551.4L238.5 551.3L239.0 551.2L239.5 551.1L240.0 551.0L240.5 550.9L241.0 550.8L241.5 550.7L242.0 550.6L242.5 550.5L243.0 550.3L243.5 550.2L244.0 550.1L244.5 550.0L245.0 549.9L245.5 549.8L246.0 549.7L246.5 549.6L247.0 549.4L247.5 549.3L248.0 549.2L248.5 549.1L249.0 549.0L249.5 548.9L250.0 548.7L250.5 548.6L251.0 548.5L251.5 548.4L252.0 548.3L252.5 548.2L253.0 548.0L253.5 547.9L254.0 547.8L254.5 547.7L255.0 547.5L255.5 547.4L256.0 547.3L256.5 547.2L257.0 547.1L257.5 546.9L258.0 546.8L258.5 546.7L259.0 546.6L259.5 546.4L260.0 546.3L260.5 546.2L261.0 546.0L261.5 545.9L262.0 545.8L262.5 545.7L263.0 545.5L263.5 545.4L264.0 545.3L264.5 545.1L265.0 545.0L265.5 544.9L266.0 544.7L266.5 544.6L267.0 544.5L267.5 544.3L268.0 544.2L268.5 544.0L269.0 543.9L269.5 543.8L270.0 543.6L270.5 543.5L271.0 543.4L271.5 543.2L272.0 543.1L272.5 542.9L273.0 542.8L273.5 542.6L274.0 542.5L274.5 542.3L275.0 542.2L275.5 542.1L276.0 541.9L276.5 541.8L277.0 541.6L277.5 541.5L278.0 541.3L278.5 541.2L279.0 541.0L279.5 540.8L280.0 540.7L280.5 540.5L281.0 540.4L281.5 540.2L282.0 540.1L282.5 539.9L283.0 539.8L283.5 539.6L284.0 539.4L284.5 539.3L285.0 539.1L285.5 538.9L286.0 538.8L286.5 538.6L287.0 538.4L287.5 538.3L288.0 538.1L288.5 537.9L289.0 537.8L289.5 537.6L290.0 537.4L290.5 537.3L291.0 537.1L291.5 536.9L292.0 536.7L292.5 536.5L293.0 536.4L293.5 536.2L294.0 536.0L294.5 535.8L295.0 535.6L295.5 535.5L296.0 535.3L296.5 535.1L297.0 534.9L297.5 534.7L298.0 534.5L298.5 534.3L299.0 534.1L299.5 533.9L300.0 533.7L300.5 533.5L301.0 533.3L301.5 533.1L302.0 532.9L302.5 532.7L303.0 532.5L303.5 532.3L304.0 532.1L304.5 531.9L305.0 531.7L305.5 531.5L306.0 531.3L306.5 531.1L307.0 530.8L307.5 530.6L308.0 530.4L308.5 530.2L309.0 530.0L309.5 529.7L310.0 529.5L310.5 529.3L311.0 529.0L311.5 528.8L312.0 528.6L312.5 528.3L313.0 528.1L313.5 527.9L314.0 527.6L314.5 527.4L315.0 527.1L315.5 526.9L316.0 526.6L316.5 526.4L317.0 526.1L317.5 525.9L318.0 525.6L318.5 525.3L319.0 525.1L319.5 524.8L320.0 524.5L320.5 524.3L321.0 524.0L321.5 523.7L322.0 523.4L322.5 523.1L323.0 522.9L323.5 522.6L324.0 522.3L324.5 522.0L325.0 521.7L325.5 521.4L326.0 521.1L326.5 520.8L327.0 520.5L327.5 520.1L328.0 519.8L328.5 519.5L329.0 519.2L329.5 518.8L330.0 518.5L330.5 518.2L331.0 517.8L331.5 517.5L332.0 517.1L332.5 516.8L333.0 516.4L333.5 516.1L334.0 515.7L334.5 515.3L335.0 514.9L335.5 514.6L336.0 514.2L336.5 513.8L337.0 513.4L337.5 513.0L338.0 512.6L338.5 512.1L339.0 511.7L339.5 511.3L340.0 510.8L340.5 510.4L341.0 510.0L341.5 509.5L342.0 509.0L342.5 508.6L343.0 508.1L343.5 507.6L344.0 507.1L344.5 506.6L345.0 506.1L345.5 505.6L346.0 505.0L346.5 504.5L347.0 503.9L347.5 503.4L348.0 502.8L348.5 502.2L349.0 501.6L349.5 501.0L350.0 500.3L350.5 499.7L351.0 499.0L351.5 498.4L352.0 497.7L352.5 497.0L353.0 496.3L353.5 495.5L354.0 494.8L354.5 494.0L355.0 493.2L355.5 492.3L356.0 491.5L356.5 490.6L357.0 489.7L357.5 488.8L358.0 487.8L358.5 486.8L359.0 485.8L359.5 484.7L360.0 483.6L360.5 482.5L361.0 481.3L361.5 480.0L362.0 478.7L362.5 477.4L363.0 475.9L363.5 474.4L364.0 472.9L364.5 471.2L364.8 470.3L365.0 469.4L365.2 468.5L365.5 467.5L365.8 466.6L366.0 465.6L366.2 464.5L366.5 463.4L366.8 462.3L367.0 461.3L367.2 460.2L367.5 459.0L367.8 457.9L368.0 456.6L368.2 455.2L368.5 453.6L368.8 451.8L369.0 449.6L369.2 447.0L369.5 443.9L369.8 440.4L370.0 436.6L370.2 432.0L370.5 426.3L370.8 420.3L371.0 415.2L371.2 411.9L371.5 408.8L371.8 405.8L372.0 403.1L372.2 401.0L372.5 400.1L372.8 401.3L373.0 403.4L373.2 405.9L373.5 408.5L373.8 411.2L374.0 413.8L374.2 416.8L374.5 420.5L374.8 424.3L375.0 428.1L375.2 431.6L375.5 434.6L375.8 437.1L376.0 439.1L376.2 440.9L376.5 442.4L376.8 443.9L377.0 445.4L377.2 446.8L377.5 448.3L377.8 449.8L378.0 451.4L378.2 453.3L378.5 455.2L378.8 456.7L379.0 458.2L379.2 459.5L379.5 460.8L379.8 462.0L380.0 463.1L380.2 464.3L380.5 465.4L381.0 467.5L381.5 469.6L382.0 471.5L382.5 473.3L383.0 475.0L383.5 476.6L384.0 478.2L384.5 479.6L385.0 481.0L385.5 482.4L386.0 483.6L386.5 484.8L387.0 486.0L387.5 487.1L388.0 488.2L388.5 489.2L389.0 490.2L389.5 491.2L390.0 492.1L390.5 493.0L391.0 493.8L391.5 494.7L392.0 495.5L392.5 496.3L393.0 497.0L393.5 497.7L394.0 498.5L394.5 499.2L395.0 499.8L395.5 500.5L396.0 501.1L396.5 501.7L397.0 502.4L397.5 502.9L398.0 503.5L398.5 504.1L399.0 504.6L399.5 505.2L400.0 505.7L400.5 506.2L401.0 506.7L401.5 507.2L402.0 507.7L402.5 508.2L403.0 508.7L403.5 509.1L404.0 509.6L404.5 510.0L405.0 510.5L405.5 510.9L406.0 511.3L406.5 511.7L407.0 512.2L407.5 512.6L408.0 513.0L408.5 513.3L409.0 513.7L409.5 514.1L410.0 514.5L410.5 514.9L411.0 515.2L411.5 515.6L412.0 515.9L412.5 516.3L413.0 516.6L413.5 517.0L414.0 517.3L414.5 517.6L415.0 518.0L415.5 518.3L416.0 518.6L416.5 518.9L417.0 519.2L417.5 519.5L418.0 519.9L418.5 520.2L419.0 520.5L419.5 520.8L420.0 521.0L420.5 521.3L421.0 521.6L421.5 521.9L422.0 522.2L422.5 522.5L423.0 522.8L423.5 523.0L424.0 523.3L424.5 523.6L425.0 523.8L425.5 524.1L426.0 524.4L426.5 524.6L427.0 524.9L427.5 525.1L428.0 525.4L428.5 525.6L429.0 525.9L429.5 526.1L430.0 526.4L430.5 526.6L431.0 526.9L431.5 527.1L432.0 527.3L432.5 527.6L433.0 527.8L433.5 528.1L434.0 528.3L434.5 528.5L435.0 528.7L435.5 529.0L436.0 529.2L436.5 529.4L437.0 529.6L437.5 529.9L438.0 530.1L438.5 530.3L439.0 530.5L439.5 530.7L440.0 530.9L440.5 531.2L441.0 531.4L441.5 531.6L442.0 531.8L442.5 532.0L443.0 532.2L443.5 532.4L444.0 532.6L444.5 532.8L445.0 533.0L445.5 533.2L446.0 533.4L446.5 533.6L447.0 533.8L447.5 534.0L448.0 534.2L448.5 534.4L449.0 534.6L449.5 534.8L450.0 534.9L450.5 535.1L451.0 535.3L451.5 535.5L452.0 535.7L452.5 535.9L453.0 536.0L453.5 536.2L454.0 536.4L454.5 536.6L455.0 536.8L455.5 536.9L456.0 537.1L456.5 537.3L457.0 537.5L457.5 537.6L458.0 537.8L458.5 538.0L459.0 538.1L459.5 538.3L460.0 538.5L460.5 538.6L461.0 538.8L461.5 539.0L462.0 539.1L462.5 539.3L463.0 539.5L463.5 539.6L464.0 539.8L464.5 539.9L465.0 540.1L465.5 540.3L466.0 540.4L466.5 540.6L467.0 540.7L467.5 540.9L468.0 541.0L468.5 541.2L469.0 541.3L469.5 541.5L470.0 541.6L470.5 541.8L471.0 541.9L471.5 542.1L472.0 542.2L472.5 542.4L473.0 542.5L473.5 542.7L474.0 542.8L474.5 542.9L475.0 543.1L475.5 543.2L476.0 543.4L476.5 543.5L477.0 543.6L477.5 543.8L478.0 543.9L478.5 544.1L479.0 544.2L479.5 544.3L480.0 544.5L480.5 544.6L481.0 544.7L481.5 544.9L482.0 545.0L482.5 545.1L483.0 545.2L483.5 545.4L484.0 545.5L484.5 545.6L485.0 545.8L485.5 545.9L486.0 546.0L486.5 546.1L487.0 546.3L487.5 546.4L488.0 546.5L488.5 546.6L489.0 546.8L489.5 546.9L490.0 547.0L490.5 547.1L491.0 547.3L491.5 547.4L492.0 547.5L492.5 547.6L493.0 547.7L493.5 547.8L494.0 548.0L494.5 548.1L495.0 548.2L495.5 548.3L496.0 548.4L496.5 548.5L497.0 548.7L497.5 548.8L498.0 548.9L498.5 549.0L499.0 549.1L499.5 549.2L500.0 549.3L500.5 549.4L501.0 549.5L501.5 549.7L502.0 549.8L502.5 549.9L503.0 550.0L503.5 550.1L504.0 550.2L504.5 550.3L505.0 550.4L505.5 550.5L506.0 550.6L506.5 550.7L507.0 550.8L507.5 550.9L508.0 551.0L508.5 551.1L509.0 551.2L509.5 551.3L510.0 551.4L510.5 551.5L511.0 551.6L511.5 551.7L512.0 551.8L512.5 551.9L513.0 552.0L513.5 552.1L514.0 552.2L514.5 552.3L515.0 552.4L515.5 552.5L516.0 552.6L516.5 552.7L517.0 552.8L517.5 552.9L518.0 553.0L518.5 553.1L519.0 553.2L519.5 553.3L520.0 553.4L520.5 553.5L521.0 553.6L521.5 553.6L522.0 553.7L522.5 553.8L523.0 553.9L523.5 554.0L524.0 554.1L524.5 554.2L525.0 554.3L525.5 554.4L526.0 554.5L526.5 554.5L527.0 554.6L527.5 554.7L528.0 554.8L528.5 554.9L529.0 555.0L529.5 555.1L530.0 555.1L530.5 555.2L531.0 555.3L531.5 555.4L532.0 555.5L532.5 555.6L533.0 555.6L533.5 555.7L534.0 555.8L534.5 555.9L535.0 556.0L535.5 556.1L536.0 556.1L536.5 556.2L537.0 556.3L537.5 556.4L538.0 556.5L538.5 556.5L539.0 556.6L539.5 556.7L540.0 556.8L540.5 556.9L541.0 556.9L541.5 557.0L542.0 557.1L542.5 557.2L543.0 557.2L543.5 557.3L544.0 557.4L544.5 557.5L545.0 557.5L545.5 557.6L546.0 557.7L546.5 557.8L547.0 557.8L547.5 557.9L548.0 558.0L548.5 558.1L549.0 558.1L549.5 558.2L550.0 558.3L550.5 558.4L551.0 558.4L551.5 558.5L552.0 558.6L552.5 558.6L553.0 558.7L553.5 558.8L554.0 558.9L554.5 558.9L555.0 559.0L555.5 559.1L556.0 559.1L556.5 559.2L557.0 559.3L557.5 559.3L558.0 559.4L558.5 559.5L559.0 559.5L559.5 559.6L560.0 559.7L560.5 559.8L561.0 559.8L561.5 559.9L562.0 560.0L562.5 560.0L563.0 560.1L563.5 560.1L564.0 560.2L564.5 560.3L565.0 560.3L565.5 560.4L566.0 560.5L566.5 560.5L567.0 560.6L567.5 560.7L568.0 560.7L568.5 560.8L569.0 560.9L569.5 560.9L570.0 561.0L570.5 561.0L571.0 561.1L571.5 561.2L572.0 561.2L572.5 561.3L573.0 561.4L573.5 561.4L574.0 561.5L574.5 561.5L575.0 561.6L575.5 561.7L576.0 561.7L576.5 561.8L577.0 561.8L577.5 561.9L578.0 562.0L578.5 562.0L579.0 562.1L579.5 562.1L580.0 562.2L580.5 562.2L581.0 562.3L581.5 562.4L582.0 562.4L582.5 562.5L583.0 562.5L583.5 562.6L584.0 562.6L584.5 562.7L585.0 562.8L585.5 562.8L586.0 562.9L586.5 562.9L587.0 563.0L587.5 563.0L588.0 563.1L588.5 563.1L589.0 563.2L589.5 563.3L590.0 563.3L590.5 563.4L591.0 563.4L591.5 563.5L592.0 563.5L592.5 563.6L593.0 563.6L593.5 563.7L594.0 563.7L594.5 563.8L595.0 563.8L595.5 563.9L596.0 563.9L596.5 564.0L597.0 564.0L597.5 564.1L598.0 564.1L598.5 564.2L599.0 564.3L599.5 564.3L600.0 564.4L600.5 564.4L601.0 564.5L601.5 564.5L602.0 564.6L602.5 564.6L603.0 564.7L603.5 564.7L604.0 564.7L604.5 564.8L605.0 564.8L605.5 564.9L606.0 564.9L606.5 565.0L607.0 565.0L607.5 565.1L608.0 565.1L608.5 565.2L609.0 565.2L609.5 565.3L610.0 565.3L610.5 565.4L611.0 565.4L611.5 565.5L612.0 565.5L612.5 565.6L613.0 565.6L613.5 565.7L614.0 565.7L614.5 565.7L615.0 565.8L615.5 565.8L616.0 565.9L616.5 565.9L617.0 566.0L617.5 566.0L618.0 566.1L618.5 566.1L619.0 566.2L619.5 566.2L620.0 566.2L620.5 566.3L621.0 566.3L621.5 566.4L622.0 566.4L622.5 566.5L623.0 566.5L623.5 566.5L624.0 566.6L624.5 566.6L625.0 566.7L625.5 566.7L626.0 566.8L626.5 566.8L627.0 566.8L627.5 566.9L628.0 566.9L628.5 567.0L629.0 567.0L629.5 567.1L630.0 567.1L630.5 567.1L631.0 567.2L631.5 567.2L632.0 567.3L632.5 567.3L633.0 567.3L633.5 567.4L634.0 567.4L634.5 567.5L635.0 567.5L635.5 567.5L636.0 567.6L636.5 567.6L637.0 567.7L637.5 567.7L638.0 567.7L638.5 567.8L639.0 567.8L639.5 567.9L640.0 567.9L640.5 567.9L641.0 568.0L641.5 568.0L642.0 568.0L642.5 568.1L643.0 568.1L643.5 568.2L644.0 568.2L644.5 568.2L645.0 568.3L645.5 568.3L646.0 568.4L646.5 568.4L647.0 568.4L647.5 568.5L648.0 568.5L648.5 568.5L649.0 568.6L649.5 568.6L650.0 568.6L650.5 568.7L651.0 568.7L651.5 568.8L652.0 568.8L652.5 568.8L653.0 568.9L653.5 568.9L654.0 568.9L654.5 569.0L655.0 569.0L655.5 569.0L656.0 569.1L656.5 569.1L657.0 569.1L657.5 569.2L658.0 569.2L658.5 569.2L659.0 569.3L659.5 569.3L660.0 569.3L660.5 569.4L661.0 569.4L661.5 569.4L662.0 569.5L662.5 569.5L663.0 569.6L663.5 569.6L664.0 569.6L664.5 569.7L665.0 569.7L665.5 569.7L666.0 569.7L666.5 569.8L667.0 569.8L667.5 569.8L668.0 569.9L668.5 569.9L668.8 569.9" stroke="#2a9834" stroke-width="1.9" stroke-dasharray="12 9.7" stroke-dashoffset="2.0"/>
<path d="M59.4 576.3L59.4 576.3L59.9 576.2L60.4 576.2L60.9 576.1L61.4 576.1L61.9 576.0L62.4 576.0L62.9 575.9L63.4 575.9L63.9 575.8L64.4 575.8L64.9 575.7L65.4 575.6L65.9 575.6L66.4 575.5L66.9 575.5L67.4 575.4L67.9 575.4L68.4 575.3L68.9 575.3L69.4 575.2L69.9 575.2L70.4 575.1L70.9 575.1L71.4 575.0L71.9 575.0L72.4 574.9L72.9 574.9L73.4 574.8L73.9 574.8L74.4 574.7L74.9 574.7L75.4 574.6L75.9 574.5L76.4 574.5L76.9 574.4L77.4 574.4L77.9 574.3L78.4 574.3L78.9 574.2L79.4 574.2L79.9 574.1L80.4 574.1L80.9 574.0L81.4 574.0L81.9 573.9L82.4 573.8L82.9 573.8L83.4 573.7L83.9 573.7L84.4 573.6L84.9 573.6L85.4 573.5L85.9 573.5L86.4 573.4L86.9 573.3L87.4 573.3L87.9 573.2L88.4 573.2L88.9 573.1L89.4 573.1L89.9 573.0L90.4 573.0L90.9 572.9L91.4 572.8L91.9 572.8L92.4 572.7L92.9 572.7L93.4 572.6L93.9 572.6L94.4 572.5L94.9 572.5L95.4 572.4L95.9 572.3L96.4 572.3L96.9 572.2L97.4 572.2L97.9 572.1L98.4 572.1L98.9 572.0L99.4 571.9L99.9 571.9L100.4 571.8L100.9 571.8L101.4 571.7L101.9 571.6L102.4 571.6L102.9 571.5L103.4 571.5L103.9 571.4L104.4 571.4L104.9 571.3L105.4 571.2L105.9 571.2L106.4 571.1L106.9 571.1L107.4 571.0L107.9 570.9L108.4 570.9L108.9 570.8L109.4 570.8L109.9 570.7L110.4 570.6L110.9 570.6L111.4 570.5L111.9 570.5L112.4 570.4L112.9 570.3L113.4 570.3L113.9 570.2L114.4 570.2L114.9 570.1L115.4 570.0L115.9 570.0L116.4 569.9L116.9 569.9L117.4 569.8L117.9 569.7L118.4 569.7L118.9 569.6L119.4 569.6L119.9 569.5L120.4 569.4L120.9 569.4L121.4 569.3L121.9 569.2L122.4 569.2L122.9 569.1L123.4 569.1L123.9 569.0L124.4 568.9L124.9 568.9L125.4 568.8L125.9 568.7L126.4 568.7L126.9 568.6L127.4 568.5L127.9 568.5L128.4 568.4L128.9 568.4L129.4 568.3L129.9 568.2L130.4 568.2L130.9 568.1L131.4 568.0L131.9 568.0L132.4 567.9L132.9 567.8L133.4 567.8L133.9 567.7L134.4 567.6L134.9 567.6L135.4 567.5L135.9 567.4L136.4 567.4L136.9 567.3L137.4 567.2L137.9 567.2L138.4 567.1L138.9 567.0L139.4 567.0L139.9 566.9L140.4 566.8L140.9 566.8L141.4 566.7L141.9 566.6L142.4 566.6L142.9 566.5L143.4 566.4L143.9 566.4L144.4 566.3L144.9 566.2L145.4 566.2L145.9 566.1L146.4 566.0L146.9 566.0L147.4 565.9L147.9 565.8L148.4 565.8L148.9 565.7L149.4 565.6L149.9 565.5L150.4 565.5L150.9 565.4L151.4 565.3L151.9 565.3L152.4 565.2L152.9 565.1L153.4 565.0L153.9 565.0L154.4 564.9L154.9 564.8L155.4 564.8L155.9 564.7L156.4 564.6L156.9 564.5L157.4 564.5L157.9 564.4L158.4 564.3L158.9 564.3L159.4 564.2L159.9 564.1L160.4 564.0L160.9 564.0L161.4 563.9L161.9 563.8L162.4 563.7L162.9 563.7L163.4 563.6L163.9 563.5L164.4 563.4L164.9 563.4L165.4 563.3L165.9 563.2L166.4 563.1L166.9 563.1L167.4 563.0L167.9 562.9L168.4 562.8L168.9 562.8L169.4 562.7L169.9 562.6L170.4 562.5L170.9 562.5L171.4 562.4L171.9 562.3L172.4 562.2L172.9 562.1L173.4 562.1L173.9 562.0L174.4 561.9L174.9 561.8L175.4 561.8L175.9 561.7L176.4 561.6L176.9 561.5L177.4 561.4L177.9 561.4L178.4 561.3L178.9 561.2L179.4 561.1L179.9 561.0L180.4 561.0L180.9 560.9L181.4 560.8L181.9 560.7L182.4 560.6L182.9 560.5L183.4 560.5L183.9 560.4L184.4 560.3L184.9 560.2L185.4 560.1L185.9 560.1L186.4 560.0L186.9 559.9L187.4 559.8L187.9 559.7L188.4 559.6L188.9 559.5L189.4 559.5L189.9 559.4L190.4 559.3L190.9 559.2L191.4 559.1L191.9 559.0L192.4 558.9L192.9 558.9L193.4 558.8L193.9 558.7L194.4 558.6L194.9 558.5L195.4 558.4L195.9 558.3L196.4 558.2L196.9 558.2L197.4 558.1L197.9 558.0L198.4 557.9L198.9 557.8L199.4 557.7L199.9 557.6L200.4 557.5L200.9 557.4L201.4 557.3L201.9 557.2L202.4 557.2L202.9 557.1L203.4 557.0L203.9 556.9L204.4 556.8L204.9 556.7L205.4 556.6L205.9 556.5L206.4 556.4L206.9 556.3L207.4 556.2L207.9 556.1L208.4 556.0L208.9 555.9L209.4 555.8L209.9 555.7L210.4 555.6L210.9 555.5L211.4 555.4L211.9 555.3L212.4 555.2L212.9 555.1L213.4 555.0L213.9 554.9L214.4 554.8L214.9 554.7L215.4 554.6L215.9 554.5L216.4 554.4L216.9 554.3L217.4 554.2L217.9 554.1L218.4 554.0L218.9 553.9L219.4 553.8L219.9 553.7L220.4 553.6L220.9 553.5L221.4 553.4L221.9 553.3L222.4 553.2L222.9 553.1L223.4 553.0L223.9 552.9L224.4 552.7L224.9 552.6L225.4 552.5L225.9 552.4L226.4 552.3L226.9 552.2L227.4 552.1L227.9 552.0L228.4 551.8L228.9 551.7L229.4 551.6L229.9 551.5L230.4 551.4L230.9 551.3L231.4 551.1L231.9 551.0L232.4 550.9L232.9 550.8L233.4 550.7L233.9 550.5L234.4 550.4L234.9 550.3L235.4 550.2L235.9 550.1L236.4 549.9L236.9 549.8L237.4 549.7L237.9 549.5L238.4 549.4L238.9 549.3L239.4 549.2L239.9 549.0L240.4 548.9L240.9 548.8L241.4 548.6L241.9 548.5L242.4 548.4L242.9 548.2L243.4 548.1L243.9 547.9L244.4 547.8L244.9 547.7L245.4 547.5L245.9 547.4L246.4 547.2L246.9 547.1L247.4 546.9L247.9 546.8L248.4 546.6L248.9 546.5L249.4 546.3L249.9 546.2L250.4 546.0L250.9 545.9L251.4 545.7L251.9 545.6L252.4 545.4L252.9 545.2L253.4 545.1L253.9 544.9L254.4 544.7L254.9 544.6L255.4 544.4L255.9 544.2L256.4 544.1L256.9 543.9L257.4 543.7L257.9 543.5L258.4 543.3L258.9 543.1L259.4 543.0L259.9 542.8L260.4 542.6L260.9 542.4L261.4 542.2L261.9 542.0L262.4 541.8L262.9 541.6L263.4 541.4L263.9 541.2L264.4 540.9L264.9 540.7L265.4 540.5L265.9 540.3L266.4 540.1L266.9 539.8L267.4 539.6L267.9 539.4L268.4 539.1L268.9 538.9L269.4 538.6L269.9 538.4L270.4 538.1L270.9 537.8L271.4 537.6L271.9 537.3L272.4 537.0L272.9 536.7L273.4 536.4L273.9 536.1L274.4 535.8L274.9 535.5L275.4 535.2L275.9 534.9L276.4 534.5L276.9 534.2L277.4 533.8L277.9 533.5L278.4 533.1L278.9 532.7L279.4 532.4L279.9 532.0L280.4 531.6L280.9 531.1L281.4 530.7L281.9 530.3L282.4 529.8L282.9 529.4L283.4 528.9L283.9 528.4L284.4 527.9L284.9 527.4L285.4 526.9L285.9 526.3L286.4 525.7L286.9 525.2L287.4 524.5L287.9 523.9L288.4 523.3L288.9 522.6L289.4 521.9L289.9 521.2L290.4 520.5L290.9 519.7L291.4 518.9L291.9 518.0L292.4 517.2L292.9 516.3L293.4 515.3L293.9 514.3L294.4 513.3L294.6 512.8L294.9 512.2L295.1 511.7L295.4 511.1L295.6 510.5L295.9 509.9L296.1 509.2L296.4 508.6L296.6 507.9L296.9 507.1L297.1 506.3L297.4 505.4L297.6 504.6L297.9 503.7L298.1 502.8L298.4 501.9L298.6 501.0L298.9 500.1L299.1 499.1L299.4 498.2L299.6 497.2L299.9 496.2L300.1 495.1L300.4 494.1L300.6 493.0L300.9 491.9L301.1 490.8L301.4 489.7L301.6 488.5L301.9 487.3L302.1 486.0L302.4 484.8L302.6 485.4L302.7 485.6L302.9 486.4L303.1 487.7L303.2 488.0L303.4 489.0L303.6 490.4L303.7 490.7L303.9 491.8L304.1 493.1L304.2 493.4L304.4 494.7L304.6 496.6L304.7 497.0L304.9 498.6L305.1 500.5L305.2 500.9L305.4 502.2L305.6 503.6L305.7 503.8L305.9 504.6L306.1 505.4L306.2 505.5L306.4 506.1L306.6 506.7L306.7 506.9L306.9 507.3L307.1 507.8L307.2 507.9L307.4 508.4L307.6 508.9L307.7 509.0L307.9 509.4L308.1 509.9L308.2 510.0L308.4 510.4L308.6 511.0L308.7 511.1L308.9 511.6L309.1 512.1L309.2 512.2L309.4 512.7L309.6 513.2L309.7 513.4L309.9 513.8L310.1 514.3L310.2 514.4L310.4 514.8L310.7 515.3L310.9 515.7L311.2 516.3L311.4 516.6L311.7 517.1L311.9 517.4L312.2 517.9L312.4 518.2L312.7 518.7L312.9 519.0L313.2 519.4L313.4 519.7L313.7 520.1L313.9 520.4L314.2 520.8L314.4 521.0L314.7 521.4L314.9 521.6L315.2 522.0L315.4 522.2L315.7 522.6L315.9 522.8L316.2 523.1L316.4 523.3L316.7 523.6L316.9 523.8L317.2 524.1L317.4 524.3L317.7 524.6L317.9 524.8L318.2 525.1L318.4 525.2L318.7 525.5L318.9 525.7L319.2 525.9L319.4 526.1L319.7 526.3L319.9 526.5L320.2 526.7L320.4 526.9L320.7 527.1L320.9 527.2L321.2 527.5L321.4 527.6L321.7 527.8L321.9 527.9L322.2 528.1L322.4 528.3L322.7 528.5L322.9 528.6L323.2 528.8L323.4 528.9L323.7 529.1L323.9 529.2L324.2 529.3L324.4 529.5L324.7 529.6L324.9 529.7L325.2 529.9L325.4 530.0L325.7 530.1L325.9 530.2L326.2 530.4L326.4 530.5L326.7 530.6L326.9 530.7L327.2 530.9L327.4 531.0L327.7 531.1L327.9 531.2L328.2 531.3L328.4 531.4L328.7 531.5L328.9 531.6L329.2 531.7L329.4 531.8L329.7 531.9L329.9 532.0L330.2 532.1L330.4 532.2L330.7 532.3L330.9 532.4L331.2 532.5L331.4 532.5L331.7 532.6L331.9 532.7L332.2 532.8L332.4 532.9L332.7 533.0L332.9 533.0L333.2 533.1L333.4 533.2L333.7 533.3L333.9 533.4L334.2 533.4L334.4 533.5L334.7 533.6L334.9 533.6L335.2 533.7L335.4 533.8L335.7 533.9L335.9 533.9L336.2 534.0L336.4 534.1L336.7 534.1L336.9 534.2L337.2 534.3L337.4 534.3L337.7 534.4L337.9 534.4L338.2 534.5L338.4 534.5L338.7 534.6L338.9 534.7L339.2 534.7L339.4 534.8L339.7 534.8L339.9 534.9L340.2 534.9L340.4 535.0L340.7 535.1L340.9 535.1L341.2 535.2L341.4 535.2L341.7 535.3L341.9 535.3L342.2 535.4L342.4 535.4L342.7 535.4L342.9 535.5L343.2 535.5L343.4 535.6L343.7 535.6L343.9 535.7L344.2 535.7L344.4 535.7L344.7 535.8L344.9 535.8L345.2 535.9L345.4 535.9L345.7 536.0L345.9 536.0L346.2 536.0L346.4 536.1L346.7 536.1L346.9 536.1L347.2 536.2L347.4 536.2L347.7 536.3L347.9 536.3L348.2 536.3L348.4 536.4L348.7 536.4L348.9 536.4L349.2 536.5L349.4 536.5L349.7 536.5L349.9 536.6L350.2 536.6L350.4 536.6L350.7 536.7L350.9 536.7L351.2 536.7L351.4 536.7L351.7 536.8L351.9 536.8L352.2 536.8L352.4 536.9L352.7 536.9L352.9 536.9L353.2 537.0L353.4 537.0L353.7 537.0L353.9 537.0L354.2 537.1L354.4 537.1L354.7 537.1L354.9 537.1L355.2 537.2L355.4 537.2L355.7 537.2L355.9 537.2L356.2 537.3L356.4 537.3L356.7 537.3L356.9 537.3L357.2 537.4L357.4 537.4L357.7 537.4L357.9 537.4L358.2 537.5L358.4 537.5L358.7 537.5L358.9 537.5L359.2 537.5L359.4 537.6L359.7 537.6L359.9 537.6L360.2 537.6L360.4 537.6L360.7 537.7L360.9 537.7L361.2 537.7L361.4 537.7L361.7 537.7L361.9 537.8L362.2 537.8L362.4 537.8L362.7 537.8L362.9 537.8L363.2 537.8L363.4 537.9L363.7 537.9L363.9 537.9L364.2 537.9L364.4 537.9L364.7 537.9L364.9 538.0L365.2 538.0L365.4 538.0L365.7 538.0L365.9 538.0L366.2 538.0L366.4 538.1L366.7 538.1L366.9 538.1L367.2 538.1L367.4 538.1L367.7 538.1L367.9 538.1L368.2 538.1L368.4 538.2L368.7 538.2L368.9 538.2L369.2 538.2L369.4 538.2L369.7 538.2L369.9 538.2L370.2 538.2L370.4 538.3L370.7 538.3L370.9 538.3L371.2 538.3L371.4 538.3L371.7 538.3L371.9 538.3L372.2 538.3L372.4 538.3L372.7 538.3L372.9 538.4L373.2 538.4L373.4 538.4L373.7 538.4L373.9 538.4L374.2 538.4L374.4 538.4L374.7 538.4L374.9 538.4L375.2 538.4L375.4 538.4L375.7 538.4L375.9 538.4L376.2 538.4L376.4 538.5L376.7 538.5L376.9 538.5L377.2 538.5L377.4 538.5L377.7 538.5L377.9 538.5L378.2 538.5L378.4 538.5L378.7 538.5L378.9 538.5L379.2 538.5L379.4 538.5L379.7 538.5L379.9 538.5L380.2 538.5L380.4 538.5L380.7 538.5L380.9 538.5L381.2 538.5L381.4 538.5L381.7 538.5L381.9 538.5L382.2 538.5L382.4 538.5L382.7 538.5L382.9 538.5L383.2 538.5L383.4 538.5L383.7 538.5L383.9 538.5L384.2 538.5L384.4 538.5L384.7 538.5L384.9 538.5L385.2 538.5L385.4 538.5L385.7 538.5L385.9 538.5L386.2 538.5L386.4 538.5L386.7 538.5L386.9 538.5L387.2 538.5L387.4 538.5L387.7 538.5L387.9 538.5L388.2 538.5L388.4 538.5L388.7 538.5L388.9 538.5L389.2 538.5L389.4 538.5L389.7 538.4L389.9 538.4L390.2 538.4L390.4 538.4L390.7 538.4L390.9 538.4L391.2 538.4L391.4 538.4L391.7 538.4L391.9 538.4L392.2 538.4L392.4 538.4L392.7 538.4L392.9 538.4L393.2 538.3L393.4 538.3L393.7 538.3L393.9 538.3L394.2 538.3L394.4 538.3L394.7 538.3L394.9 538.3L395.2 538.3L395.4 538.2L395.7 538.2L395.9 538.2L396.2 538.2L396.4 538.2L396.7 538.2L396.9 538.2L397.2 538.2L397.4 538.2L397.7 538.1L397.9 538.1L398.2 538.1L398.4 538.1L398.7 538.1L398.9 538.1L399.2 538.1L399.4 538.0L399.7 538.0L399.9 538.0L400.2 538.0L400.4 538.0L400.7 538.0L400.9 537.9L401.2 537.9L401.4 537.9L401.7 537.9L401.9 537.9L402.2 537.9L402.4 537.8L402.7 537.8L402.9 537.8L403.2 537.8L403.4 537.8L403.7 537.8L403.9 537.7L404.2 537.7L404.4 537.7L404.7 537.7L404.9 537.7L405.2 537.6L405.4 537.6L405.7 537.6L405.9 537.6L406.2 537.6L406.4 537.5L406.7 537.5L406.9 537.5L407.2 537.5L407.4 537.5L407.7 537.4L407.9 537.4L408.2 537.4L408.4 537.4L408.7 537.4L408.9 537.3L409.2 537.3L409.4 537.3L409.7 537.3L409.9 537.2L410.2 537.2L410.4 537.2L410.7 537.2L410.9 537.1L411.2 537.1L411.4 537.1L411.7 537.1L411.9 537.0L412.2 537.0L412.4 537.0L412.7 537.0L412.9 536.9L413.2 536.9L413.4 536.9L413.7 536.9L413.9 536.8L414.2 536.8L414.4 536.8L414.7 536.8L414.9 536.7L415.2 536.7L415.4 536.7L415.7 536.6L415.9 536.6L416.2 536.6L416.4 536.6L416.7 536.5L416.9 536.5L417.2 536.5L417.4 536.4L417.7 536.4L417.9 536.4L418.2 536.3L418.4 536.3L418.7 536.3L418.9 536.3L419.2 536.2L419.4 536.2L419.7 536.1L419.9 536.1L420.2 536.1L420.4 536.1L420.7 536.0L420.9 536.0L421.2 535.9L421.4 535.9L421.7 535.9L421.9 535.8L422.2 535.8L422.4 535.8L422.7 535.7L422.9 535.7L423.2 535.6L423.4 535.6L423.7 535.6L423.9 535.5L424.2 535.5L424.4 535.5L424.7 535.4L424.9 535.4L425.2 535.3L425.4 535.3L425.7 535.2L425.9 535.2L426.2 535.1L426.4 535.1L426.7 535.1L426.9 535.0L427.2 535.0L427.4 534.9L427.7 534.9L427.9 534.8L428.2 534.8L428.4 534.7L428.7 534.7L428.9 534.6L429.2 534.6L429.4 534.5L429.7 534.5L429.9 534.4L430.2 534.4L430.4 534.3L430.7 534.3L430.9 534.2L431.2 534.2L431.4 534.1L431.7 534.1L431.9 534.0L432.2 533.9L432.4 533.9L432.7 533.8L432.9 533.8L433.2 533.7L433.4 533.7L433.7 533.6L433.9 533.5L434.2 533.5L434.4 533.4L434.7 533.3L434.9 533.3L435.2 533.2L435.4 533.2L435.7 533.1L435.9 533.0L436.2 532.9L436.4 532.9L436.7 532.8L436.9 532.7L437.2 532.7L437.4 532.6L437.7 532.5L437.9 532.5L438.2 532.4L438.4 532.3L438.7 532.2L438.9 532.2L439.2 532.1L439.4 532.0L439.7 531.9L439.9 531.8L440.2 531.7L440.4 531.7L440.7 531.6L440.9 531.5L441.2 531.4L441.4 531.3L441.7 531.2L441.9 531.2L442.2 531.0L442.4 531.0L442.7 530.9L442.9 530.8L443.2 530.7L443.4 530.6L443.7 530.5L443.9 530.4L444.2 530.3L444.4 530.2L444.7 530.1L444.9 530.0L445.2 529.9L445.4 529.8L445.7 529.7L445.9 529.6L446.2 529.4L446.4 529.4L446.7 529.2L446.9 529.1L447.2 529.0L447.4 528.9L447.7 528.7L447.9 528.7L448.2 528.5L448.4 528.4L448.7 528.3L448.9 528.2L449.2 528.0L449.4 527.9L449.7 527.7L449.9 527.6L450.2 527.5L450.4 527.3L450.7 527.2L450.9 527.1L451.2 526.9L451.4 526.8L451.7 526.6L451.9 526.5L452.2 526.3L452.4 526.2L452.7 526.0L452.9 525.8L453.2 525.7L453.4 525.5L453.7 525.3L453.9 525.2L454.2 525.0L454.4 524.8L454.7 524.6L454.9 524.5L455.2 524.2L455.4 524.1L455.7 523.9L455.9 523.7L456.2 523.5L456.4 523.3L456.7 523.1L456.9 522.9L457.2 522.6L457.4 522.5L457.7 522.2L457.9 522.0L458.2 521.7L458.4 521.5L458.7 521.3L458.9 521.0L459.2 520.7L459.4 520.5L459.7 520.2L459.9 520.0L460.2 519.7L460.4 519.4L460.7 519.1L460.9 518.8L461.2 518.5L461.4 518.2L461.7 517.8L461.9 517.5L462.2 517.1L462.4 516.8L462.7 516.4L462.9 516.0L463.2 515.6L463.4 515.2L463.7 514.7L463.9 514.4L464.2 513.8L464.4 513.4L464.7 512.8L464.9 512.4L465.2 511.7L465.4 511.3L465.4 511.2L465.7 510.6L465.9 510.1L465.9 510.0L466.2 509.3L466.4 508.8L466.4 508.7L466.7 507.9L466.9 507.3L466.9 507.2L467.2 506.4L467.4 505.6L467.4 505.4L467.7 504.4L467.9 503.6L467.9 503.4L468.2 502.2L468.4 501.3L468.4 501.1L468.7 499.9L468.9 499.1L468.9 498.9L469.2 497.8L469.4 496.9L469.4 496.6L469.7 495.5L469.9 494.5L469.9 494.3L470.2 493.1L470.4 492.1L470.4 491.9L470.7 490.7L470.9 489.9L470.9 489.6L471.2 488.6L471.4 487.7L471.4 487.5L471.7 486.4L471.9 485.5L471.9 485.3L472.2 484.1L472.4 483.2L472.4 483.0L472.7 481.9L472.9 481.1L472.9 480.8L473.2 480.0L473.4 480.4L473.7 481.4L473.9 482.6L474.2 484.1L474.4 485.6L474.7 487.2L474.9 488.7L475.2 490.6L475.4 493.5L475.7 496.6L475.9 499.6L476.2 502.0L476.4 503.6L476.7 504.7L476.9 505.7L477.2 506.6L477.4 507.3L477.7 508.0L477.9 508.6L478.2 509.2L478.4 509.8L478.7 510.4L478.9 511.0L479.2 511.5L479.4 512.1L479.7 512.7L479.9 513.2L480.2 513.8L480.4 514.3L480.7 514.8L480.9 515.3L481.2 515.7L481.7 516.6L482.2 517.5L482.7 518.3L483.2 519.0L483.7 519.8L484.2 520.4L484.7 521.1L485.2 521.7L485.7 522.3L486.2 522.9L486.7 523.5L487.2 524.0L487.7 524.6L488.2 525.1L488.7 525.6L489.2 526.0L489.7 526.5L490.2 526.9L490.7 527.4L491.2 527.8L491.7 528.2L492.2 528.6L492.7 529.0L493.2 529.4L493.7 529.8L494.2 530.2L494.7 530.5L495.2 530.9L495.7 531.2L496.2 531.6L496.7 531.9L497.2 532.2L497.7 532.6L498.2 532.9L498.7 533.2L499.2 533.5L499.7 533.8L500.2 534.1L500.7 534.4L501.2 534.7L501.7 535.0L502.2 535.2L502.7 535.5L503.2 535.8L503.7 536.0L504.2 536.3L504.7 536.6L505.2 536.8L505.7 537.1L506.2 537.3L506.7 537.6L507.2 537.8L507.7 538.1L508.2 538.3L508.7 538.5L509.2 538.8L509.7 539.0L510.2 539.2L510.7 539.4L511.2 539.7L511.7 539.9L512.2 540.1L512.7 540.3L513.2 540.5L513.7 540.7L514.2 540.9L514.7 541.1L515.2 541.3L515.7 541.5L516.2 541.7L516.7 541.9L517.2 542.1L517.7 542.3L518.2 542.5L518.7 542.7L519.2 542.9L519.7 543.1L520.2 543.3L520.7 543.4L521.2 543.6L521.7 543.8L522.2 544.0L522.7 544.1L523.2 544.3L523.7 544.5L524.2 544.7L524.7 544.8L525.2 545.0L525.7 545.2L526.2 545.3L526.7 545.5L527.2 545.7L527.7 545.8L528.2 546.0L528.7 546.1L529.2 546.3L529.7 546.4L530.2 546.6L530.7 546.8L531.2 546.9L531.7 547.1L532.2 547.2L532.7 547.4L533.2 547.5L533.7 547.6L534.2 547.8L534.7 547.9L535.2 548.1L535.7 548.2L536.2 548.4L536.7 548.5L537.2 548.6L537.7 548.8L538.2 548.9L538.7 549.0L539.2 549.2L539.7 549.3L540.2 549.4L540.7 549.6L541.2 549.7L541.7 549.8L542.2 550.0L542.7 550.1L543.2 550.2L543.7 550.3L544.2 550.5L544.7 550.6L545.2 550.7L545.7 550.8L546.2 551.0L546.7 551.1L547.2 551.2L547.7 551.3L548.2 551.4L548.7 551.6L549.2 551.7L549.7 551.8L550.2 551.9L550.7 552.0L551.2 552.1L551.7 552.2L552.2 552.4L552.7 552.5L553.2 552.6L553.7 552.7L554.2 552.8L554.7 552.9L555.2 553.0L555.7 553.1L556.2 553.2L556.7 553.3L557.2 553.4L557.7 553.6L558.2 553.7L558.7 553.8L559.2 553.9L559.7 554.0L560.2 554.1L560.7 554.2L561.2 554.3L561.7 554.4L562.2 554.5L562.7 554.6L563.2 554.7L563.7 554.8L564.2 554.9L564.7 555.0L565.2 555.1L565.7 555.2L566.2 555.3L566.7 555.4L567.2 555.5L567.7 555.5L568.2 555.6L568.7 555.7L569.2 555.8L569.7 555.9L570.2 556.0L570.7 556.1L571.2 556.2L571.7 556.3L572.2 556.4L572.7 556.5L573.2 556.6L573.7 556.6L574.2 556.7L574.7 556.8L575.2 556.9L575.7 557.0L576.2 557.1L576.7 557.2L577.2 557.3L577.7 557.3L578.2 557.4L578.7 557.5L579.2 557.6L579.7 557.7L580.2 557.8L580.7 557.8L581.2 557.9L581.7 558.0L582.2 558.1L582.7 558.2L583.2 558.3L583.7 558.3L584.2 558.4L584.7 558.5L585.2 558.6L585.7 558.7L586.2 558.7L586.7 558.8L587.2 558.9L587.7 559.0L588.2 559.0L588.7 559.1L589.2 559.2L589.7 559.3L590.2 559.4L590.7 559.4L591.2 559.5L591.7 559.6L592.2 559.7L592.7 559.7L593.2 559.8L593.7 559.9L594.2 560.0L594.7 560.0L595.2 560.1L595.7 560.2L596.2 560.2L596.7 560.3L597.2 560.4L597.7 560.5L598.2 560.5L598.7 560.6L599.2 560.7L599.7 560.7L600.2 560.8L600.7 560.9L601.2 561.0L601.7 561.0L602.2 561.1L602.7 561.2L603.2 561.2L603.7 561.3L604.2 561.4L604.7 561.4L605.2 561.5L605.7 561.6L606.2 561.6L606.7 561.7L607.2 561.8L607.7 561.8L608.2 561.9L608.7 562.0L609.2 562.0L609.7 562.1L610.2 562.2L610.7 562.2L611.2 562.3L611.7 562.4L612.2 562.4L612.7 562.5L613.2 562.5L613.7 562.6L614.2 562.7L614.7 562.7L615.2 562.8L615.7 562.9L616.2 562.9L616.7 563.0L617.2 563.0L617.7 563.1L618.2 563.2L618.7 563.2L619.2 563.3L619.7 563.3L620.2 563.4L620.7 563.5L621.2 563.5L621.7 563.6L622.2 563.6L622.7 563.7L623.2 563.8L623.7 563.8L624.2 563.9L624.7 563.9L625.2 564.0L625.7 564.1L626.2 564.1L626.7 564.2L627.2 564.2L627.7 564.3L628.2 564.3L628.7 564.4L629.2 564.5L629.7 564.5L630.2 564.6L630.7 564.6L631.2 564.7L631.7 564.7L632.2 564.8L632.7 564.8L633.2 564.9L633.7 565.0L634.2 565.0L634.7 565.1L635.2 565.1L635.7 565.2L636.2 565.2L636.7 565.3L637.2 565.3L637.7 565.4L638.2 565.4L638.7 565.5L639.2 565.5L639.7 565.6L640.2 565.6L640.7 565.7L641.2 565.8L641.7 565.8L642.2 565.9L642.7 565.9L643.2 566.0L643.7 566.0L644.2 566.1L644.7 566.1L645.2 566.2L645.7 566.2L646.2 566.3L646.7 566.3L647.2 566.4L647.7 566.4L648.2 566.5L648.7 566.5L649.2 566.6L649.7 566.6L650.2 566.7L650.7 566.7L651.2 566.8L651.7 566.8L652.2 566.9L652.7 566.9L653.2 567.0L653.7 567.0L654.2 567.1L654.7 567.1L655.2 567.1L655.7 567.2L656.2 567.2L656.7 567.3L657.2 567.3L657.7 567.4L658.2 567.4L658.7 567.5L659.2 567.5L659.7 567.6L660.2 567.6L660.7 567.7L661.2 567.7L661.7 567.8L662.2 567.8L662.7 567.8L663.2 567.9L663.7 567.9L664.2 568.0L664.7 568.0L665.2 568.1L665.7 568.1L666.2 568.2L666.7 568.2L667.2 568.3L667.7 568.3L668.2 568.3L668.7 568.4L668.8 568.4" stroke="#2a9834" stroke-width="1.5"/>
<path d="M59.4 655.6L59.7 655.6L60.2 655.6L60.7 655.5L61.2 655.5L61.7 655.4L62.2 655.4L62.7 655.3L63.2 655.2L63.7 655.2L64.2 655.1L64.7 655.1L65.2 655.0L65.7 655.0L66.2 654.9L66.7 654.9L67.2 654.8L67.7 654.8L68.2 654.7L68.7 654.7L69.2 654.6L69.7 654.6L70.2 654.5L70.7 654.5L71.2 654.4L71.7 654.4L72.2 654.3L72.7 654.3L73.2 654.2L73.7 654.2L74.2 654.1L74.7 654.1L75.2 654.0L75.7 654.0L76.2 653.9L76.7 653.9L77.2 653.8L77.7 653.8L78.2 653.7L78.7 653.7L79.2 653.6L79.7 653.6L80.2 653.5L80.7 653.5L81.2 653.4L81.7 653.3L82.2 653.3L82.7 653.2L83.2 653.2L83.7 653.1L84.2 653.1L84.7 653.0L85.2 653.0L85.7 652.9L86.2 652.9L86.7 652.8L87.2 652.8L87.7 652.7L88.2 652.7L88.7 652.6L89.2 652.6L89.7 652.5L90.2 652.4L90.7 652.4L91.2 652.3L91.7 652.3L92.2 652.2L92.7 652.2L93.2 652.1L93.7 652.1L94.2 652.0L94.7 652.0L95.2 651.9L95.7 651.9L96.2 651.8L96.7 651.7L97.2 651.7L97.7 651.6L98.2 651.6L98.7 651.5L99.2 651.5L99.7 651.4L100.2 651.4L100.7 651.3L101.2 651.3L101.7 651.2L102.2 651.1L102.7 651.1L103.2 651.0L103.7 651.0L104.2 650.9L104.7 650.9L105.2 650.8L105.7 650.8L106.2 650.7L106.7 650.7L107.2 650.6L107.7 650.5L108.2 650.5L108.7 650.4L109.2 650.4L109.7 650.3L110.2 650.3L110.7 650.2L111.2 650.2L111.7 650.1L112.2 650.0L112.7 650.0L113.2 649.9L113.7 649.9L114.2 649.8L114.7 649.8L115.2 649.7L115.7 649.6L116.2 649.6L116.7 649.5L117.2 649.5L117.7 649.4L118.2 649.4L118.7 649.3L119.2 649.2L119.7 649.2L120.2 649.1L120.7 649.1L121.2 649.0L121.7 649.0L122.2 648.9L122.7 648.8L123.2 648.8L123.7 648.7L124.2 648.7L124.7 648.6L125.2 648.6L125.7 648.5L126.2 648.4L126.7 648.4L127.2 648.3L127.7 648.3L128.2 648.2L128.7 648.1L129.2 648.1L129.7 648.0L130.2 648.0L130.7 647.9L131.2 647.9L131.7 647.8L132.2 647.7L132.7 647.7L133.2 647.6L133.7 647.6L134.2 647.5L134.7 647.4L135.2 647.4L135.7 647.3L136.2 647.3L136.7 647.2L137.2 647.1L137.7 647.1L138.2 647.0L138.7 647.0L139.2 646.9L139.7 646.8L140.2 646.8L140.7 646.7L141.2 646.6L141.7 646.6L142.2 646.5L142.7 646.5L143.2 646.4L143.7 646.3L144.2 646.3L144.7 646.2L145.2 646.2L145.7 646.1L146.2 646.0L146.7 646.0L147.2 645.9L147.7 645.8L148.2 645.8L148.7 645.7L149.2 645.7L149.7 645.6L150.2 645.5L150.7 645.5L151.2 645.4L151.7 645.3L152.2 645.3L152.7 645.2L153.2 645.2L153.7 645.1L154.2 645.0L154.7 645.0L155.2 644.9L155.7 644.8L156.2 644.8L156.7 644.7L157.2 644.6L157.7 644.6L158.2 644.5L158.7 644.5L159.2 644.4L159.7 644.3L160.2 644.3L160.7 644.2L161.2 644.1L161.7 644.1L162.2 644.0L162.7 643.9L163.2 643.9L163.7 643.8L164.2 643.7L164.7 643.7L165.2 643.6L165.7 643.5L166.2 643.5L166.7 643.4L167.2 643.3L167.7 643.3L168.2 643.2L168.7 643.1L169.2 643.1L169.7 643.0L170.2 642.9L170.7 642.9L171.2 642.8L171.7 642.7L172.2 642.7L172.7 642.6L173.2 642.5L173.7 642.5L174.2 642.4L174.7 642.3L175.2 642.3L175.7 642.2L176.2 642.1L176.7 642.0L177.2 642.0L177.7 641.9L178.2 641.8L178.7 641.8L179.2 641.7L179.7 641.6L180.2 641.6L180.7 641.5L181.2 641.4L181.7 641.3L182.2 641.3L182.7 641.2L183.2 641.1L183.7 641.1L184.2 641.0L184.7 640.9L185.2 640.8L185.7 640.8L186.2 640.7L186.7 640.6L187.2 640.5L187.7 640.5L188.2 640.4L188.7 640.3L189.2 640.3L189.7 640.2L190.2 640.1L190.7 640.0L191.2 640.0L191.7 639.9L192.2 639.8L192.7 639.7L193.2 639.7L193.7 639.6L194.2 639.5L194.7 639.4L195.2 639.4L195.7 639.3L196.2 639.2L196.7 639.1L197.2 639.0L197.7 639.0L198.2 638.9L198.7 638.8L199.2 638.7L199.7 638.7L200.2 638.6L200.7 638.5L201.2 638.4L201.7 638.3L202.2 638.3L202.7 638.2L203.2 638.1L203.7 638.0L204.2 637.9L204.7 637.9L205.2 637.8L205.7 637.7L206.2 637.6L206.7 637.5L207.2 637.5L207.7 637.4L208.2 637.3L208.7 637.2L209.2 637.1L209.7 637.0L210.2 637.0L210.7 636.9L211.2 636.8L211.7 636.7L212.2 636.6L212.7 636.5L213.2 636.5L213.7 636.4L214.2 636.3L214.7 636.2L215.2 636.1L215.7 636.0L216.2 635.9L216.7 635.8L217.2 635.8L217.7 635.7L218.2 635.6L218.7 635.5L219.2 635.4L219.7 635.3L220.2 635.2L220.7 635.1L221.2 635.0L221.7 634.9L222.2 634.8L222.7 634.8L223.2 634.7L223.7 634.6L224.2 634.5L224.7 634.4L225.2 634.3L225.7 634.2L226.2 634.1L226.7 634.0L227.2 633.9L227.7 633.8L228.2 633.7L228.7 633.6L229.2 633.5L229.7 633.4L230.2 633.3L230.7 633.2L231.2 633.1L231.7 633.0L232.2 632.9L232.7 632.8L233.2 632.7L233.7 632.6L234.2 632.5L234.7 632.4L235.2 632.3L235.7 632.2L236.2 632.1L236.7 632.0L237.2 631.9L237.7 631.7L238.2 631.6L238.7 631.5L239.2 631.4L239.7 631.3L240.2 631.2L240.7 631.1L241.2 631.0L241.7 630.8L242.2 630.7L242.7 630.6L243.2 630.5L243.7 630.4L244.2 630.3L244.7 630.1L245.2 630.0L245.7 629.9L246.2 629.8L246.7 629.7L247.2 629.5L247.7 629.4L248.2 629.3L248.7 629.1L249.2 629.0L249.7 628.9L250.2 628.8L250.7 628.6L251.2 628.5L251.7 628.4L252.2 628.2L252.7 628.1L253.2 627.9L253.7 627.8L254.2 627.7L254.7 627.5L255.2 627.4L255.7 627.2L256.2 627.1L256.7 626.9L257.2 626.8L257.7 626.6L258.2 626.5L258.7 626.3L259.2 626.2L259.7 626.0L260.2 625.8L260.7 625.7L261.2 625.5L261.7 625.3L262.2 625.2L262.7 625.0L263.2 624.8L263.7 624.6L264.2 624.5L264.7 624.3L265.2 624.1L265.7 623.9L266.2 623.7L266.7 623.5L267.2 623.3L267.7 623.1L268.2 622.9L268.7 622.7L269.2 622.5L269.7 622.3L270.2 622.1L270.7 621.8L271.2 621.6L271.7 621.4L272.2 621.1L272.7 620.9L273.2 620.6L273.7 620.4L274.2 620.1L274.7 619.9L275.2 619.6L275.7 619.3L276.2 619.1L276.7 618.8L277.2 618.5L277.7 618.2L278.2 617.9L278.7 617.6L279.2 617.3L279.7 616.9L280.2 616.6L280.7 616.3L281.2 615.9L281.7 615.5L282.2 615.2L282.7 614.8L283.2 614.4L283.7 614.0L284.2 613.6L284.7 613.1L285.2 612.7L285.7 612.2L286.2 611.7L286.7 611.2L287.2 610.7L287.7 610.2L288.2 609.6L288.7 609.1L289.2 608.5L289.7 607.8L290.2 607.2L290.7 606.5L291.2 605.8L291.7 605.0L292.2 604.3L292.7 603.4L293.2 602.6L293.7 601.6L294.2 600.7L294.4 600.1L294.7 599.5L294.9 598.9L295.2 598.2L295.4 597.6L295.7 597.0L295.9 596.5L296.2 596.1L296.4 595.9L296.7 595.6L296.9 595.1L297.2 594.4L297.4 593.6L297.7 592.6L297.9 591.5L298.2 590.3L298.4 589.0L298.7 587.7L298.9 586.3L299.2 585.1L299.4 584.0L299.7 583.1L299.9 582.2L300.2 581.3L300.4 580.4L300.7 579.4L300.9 578.5L301.2 577.5L301.4 576.6L301.7 575.8L301.9 575.1L302.2 574.7L302.4 574.9L302.7 575.6L302.9 576.4L303.2 577.3L303.4 578.3L303.7 579.4L303.9 580.4L304.2 581.4L304.4 582.4L304.7 583.4L304.9 584.6L305.2 586.1L305.4 587.9L305.7 589.6L305.9 591.3L306.2 592.9L306.4 594.2L306.7 595.3L306.9 596.2L307.2 596.9L307.4 597.5L307.7 598.1L307.9 598.7L308.2 599.3L308.4 599.8L308.7 600.4L308.9 601.0L309.2 601.6L309.4 602.1L309.7 602.6L309.9 603.1L310.2 603.6L310.7 604.4L311.2 605.2L311.7 605.9L312.2 606.5L312.7 607.1L313.2 607.7L313.7 608.2L314.2 608.7L314.7 609.2L315.2 609.6L315.7 610.0L316.2 610.4L316.7 610.8L317.2 611.2L317.7 611.5L318.2 611.9L318.7 612.2L319.2 612.5L319.7 612.8L320.2 613.1L320.7 613.4L321.2 613.7L321.7 614.0L322.2 614.2L322.7 614.5L323.2 614.7L323.7 615.0L324.2 615.2L324.7 615.4L325.2 615.6L325.7 615.8L326.2 616.0L326.7 616.2L327.2 616.4L327.7 616.6L328.2 616.8L328.7 617.0L329.2 617.2L329.7 617.3L330.2 617.5L330.7 617.7L331.2 617.8L331.7 618.0L332.2 618.1L332.7 618.3L333.2 618.4L333.7 618.6L334.2 618.7L334.7 618.8L335.2 619.0L335.7 619.1L336.2 619.2L336.7 619.4L337.2 619.5L337.7 619.6L338.2 619.7L338.7 619.8L339.2 620.0L339.7 620.1L340.2 620.2L340.7 620.3L341.2 620.4L341.7 620.5L342.2 620.6L342.7 620.7L343.2 620.8L343.7 620.9L344.2 621.0L344.7 621.1L345.2 621.2L345.7 621.3L346.2 621.4L346.7 621.5L347.2 621.5L347.7 621.6L348.2 621.7L348.7 621.8L349.2 621.9L349.7 622.0L350.2 622.0L350.7 622.1L351.2 622.2L351.7 622.3L352.2 622.4L352.7 622.4L353.2 622.5L353.7 622.6L354.2 622.7L354.7 622.7L355.2 622.8L355.7 622.9L356.2 622.9L356.7 623.0L357.2 623.1L357.7 623.1L358.2 623.2L358.7 623.2L359.2 623.3L359.7 623.4L360.2 623.4L360.7 623.5L361.2 623.5L361.7 623.6L362.2 623.6L362.7 623.7L363.2 623.7L363.7 623.8L364.2 623.8L364.7 623.8L365.2 623.9L365.7 623.9L366.2 624.0L366.7 624.0L367.2 624.1L367.7 624.1L368.2 624.1L368.7 624.2L369.2 624.2L369.7 624.2L370.2 624.3L370.7 624.3L371.2 624.3L371.7 624.4L372.2 624.4L372.7 624.4L373.2 624.4L373.7 624.5L374.2 624.5L374.7 624.5L375.2 624.5L375.7 624.5L376.2 624.6L376.7 624.6L377.2 624.6L377.7 624.6L378.2 624.6L378.7 624.6L379.2 624.7L379.7 624.7L380.2 624.7L380.7 624.7L381.2 624.7L381.7 624.7L382.2 624.7L382.7 624.7L383.2 624.7L383.7 624.7L384.2 624.7L384.7 624.7L385.2 624.7L385.7 624.7L386.2 624.7L386.7 624.7L387.2 624.7L387.7 624.7L388.2 624.7L388.7 624.7L389.2 624.7L389.7 624.6L390.2 624.6L390.7 624.6L391.2 624.6L391.7 624.6L392.2 624.6L392.7 624.5L393.2 624.5L393.7 624.5L394.2 624.5L394.7 624.5L395.2 624.4L395.7 624.4L396.2 624.4L396.7 624.3L397.2 624.3L397.7 624.3L398.2 624.2L398.7 624.2L399.2 624.2L399.7 624.1L400.2 624.1L400.7 624.1L401.2 624.0L401.7 624.0L402.2 624.0L402.7 623.9L403.2 623.9L403.7 623.8L404.2 623.8L404.7 623.7L405.2 623.7L405.7 623.7L406.2 623.6L406.7 623.6L407.2 623.5L407.7 623.5L408.2 623.4L408.7 623.4L409.2 623.3L409.7 623.3L410.2 623.2L410.7 623.2L411.2 623.1L411.7 623.1L412.2 623.0L412.7 623.0L413.2 622.9L413.7 622.9L414.2 622.8L414.7 622.8L415.2 622.7L415.7 622.7L416.2 622.6L416.7 622.6L417.2 622.5L417.7 622.4L418.2 622.4L418.7 622.3L419.2 622.3L419.7 622.2L420.2 622.1L420.7 622.1L421.2 622.0L421.7 622.0L422.2 621.9L422.7 621.8L423.2 621.8L423.7 621.7L424.2 621.6L424.7 621.5L425.2 621.5L425.7 621.4L426.2 621.3L426.7 621.2L427.2 621.2L427.7 621.1L428.2 621.0L428.7 620.9L429.2 620.8L429.7 620.7L430.2 620.7L430.7 620.6L431.2 620.5L431.7 620.4L432.2 620.3L432.7 620.2L433.2 620.1L433.7 620.0L434.2 619.9L434.7 619.8L435.2 619.6L435.7 619.5L436.2 619.4L436.7 619.3L437.2 619.2L437.7 619.0L438.2 618.9L438.7 618.8L439.2 618.6L439.7 618.5L440.2 618.4L440.7 618.2L441.2 618.1L441.7 617.9L442.2 617.7L442.7 617.6L443.2 617.4L443.7 617.2L444.2 617.1L444.7 616.9L445.2 616.7L445.7 616.5L446.2 616.3L446.7 616.1L447.2 615.9L447.7 615.7L448.2 615.5L448.7 615.3L449.2 615.0L449.7 614.8L450.2 614.6L450.7 614.3L451.2 614.0L451.7 613.8L452.2 613.5L452.7 613.2L453.2 612.9L453.7 612.6L454.2 612.3L454.7 612.0L455.2 611.6L455.7 611.3L456.2 610.9L456.7 610.6L457.2 610.2L457.7 609.8L458.2 609.3L458.7 608.9L459.2 608.5L459.7 608.0L460.2 607.5L460.7 607.0L461.2 606.4L461.7 605.9L462.2 605.3L462.7 604.7L463.2 604.0L463.7 603.4L464.2 602.6L464.7 601.9L465.2 601.1L465.4 600.7L465.7 600.2L465.9 599.8L466.2 599.3L466.4 598.8L466.7 598.4L466.9 597.9L467.2 597.3L467.4 596.8L467.7 596.2L467.9 595.7L468.2 595.1L468.4 594.5L468.7 593.8L468.9 593.2L469.2 592.5L469.4 591.8L469.7 591.0L469.9 590.2L470.2 589.4L470.4 588.5L470.7 587.6L470.9 586.6L471.2 585.6L471.4 584.4L471.7 583.3L471.9 582.0L472.2 580.6L472.4 579.1L472.7 577.4L472.9 575.6L473.2 573.5L473.4 575.6L473.7 577.6L473.9 579.3L474.2 581.0L474.4 582.6L474.7 584.0L474.9 585.4L475.2 586.7L475.4 588.0L475.7 589.1L475.9 590.3L476.2 591.3L476.4 592.4L476.7 593.4L476.9 594.4L477.2 595.4L477.4 596.4L477.7 597.3L477.9 598.1L478.2 599.0L478.4 599.7L478.7 600.5L478.9 601.1L479.2 601.8L479.4 602.3L479.7 602.9L479.9 603.4L480.2 603.9L480.4 604.3L480.7 604.8L480.9 605.2L481.2 605.7L481.7 606.5L482.2 607.3L482.7 608.1L483.2 608.8L483.7 609.5L484.2 610.1L484.7 610.8L485.2 611.4L485.7 612.0L486.2 612.5L486.7 613.1L487.2 613.6L487.7 614.1L488.2 614.6L488.7 615.1L489.2 615.5L489.7 616.0L490.2 616.4L490.7 616.8L491.2 617.3L491.7 617.7L492.2 618.0L492.7 618.4L493.2 618.8L493.7 619.2L494.2 619.5L494.7 619.9L495.2 620.2L495.7 620.5L496.2 620.9L496.7 621.2L497.2 621.5L497.7 621.8L498.2 622.1L498.7 622.4L499.2 622.7L499.7 623.0L500.2 623.2L500.7 623.5L501.2 623.8L501.7 624.1L502.2 624.3L502.7 624.6L503.2 624.8L503.7 625.1L504.2 625.3L504.7 625.6L505.2 625.8L505.7 626.0L506.2 626.3L506.7 626.5L507.2 626.7L507.7 626.9L508.2 627.2L508.7 627.4L509.2 627.6L509.7 627.8L510.2 628.0L510.7 628.2L511.2 628.4L511.7 628.6L512.2 628.8L512.7 629.0L513.2 629.2L513.7 629.4L514.2 629.6L514.7 629.8L515.2 630.0L515.7 630.1L516.2 630.3L516.7 630.5L517.2 630.7L517.7 630.9L518.2 631.0L518.7 631.2L519.2 631.4L519.7 631.5L520.2 631.7L520.7 631.9L521.2 632.0L521.7 632.2L522.2 632.4L522.7 632.5L523.2 632.7L523.7 632.8L524.2 633.0L524.7 633.1L525.2 633.3L525.7 633.4L526.2 633.6L526.7 633.7L527.2 633.9L527.7 634.0L528.2 634.2L528.7 634.3L529.2 634.5L529.7 634.6L530.2 634.8L530.7 634.9L531.2 635.0L531.7 635.2L532.2 635.3L532.7 635.4L533.2 635.6L533.7 635.7L534.2 635.8L534.7 636.0L535.2 636.1L535.7 636.2L536.2 636.4L536.7 636.5L537.2 636.6L537.7 636.7L538.2 636.9L538.7 637.0L539.2 637.1L539.7 637.2L540.2 637.4L540.7 637.5L541.2 637.6L541.7 637.7L542.2 637.8L542.7 638.0L543.2 638.1L543.7 638.2L544.2 638.3L544.7 638.4L545.2 638.5L545.7 638.6L546.2 638.8L546.7 638.9L547.2 639.0L547.7 639.1L548.2 639.2L548.7 639.3L549.2 639.4L549.7 639.5L550.2 639.6L550.7 639.7L551.2 639.9L551.7 640.0L552.2 640.1L552.7 640.2L553.2 640.3L553.7 640.4L554.2 640.5L554.7 640.6L555.2 640.7L555.7 640.8L556.2 640.9L556.7 641.0L557.2 641.1L557.7 641.2L558.2 641.3L558.7 641.4L559.2 641.5L559.7 641.6L560.2 641.7L560.7 641.8L561.2 641.9L561.7 642.0L562.2 642.1L562.7 642.2L563.2 642.3L563.7 642.3L564.2 642.4L564.7 642.5L565.2 642.6L565.7 642.7L566.2 642.8L566.7 642.9L567.2 643.0L567.7 643.1L568.2 643.2L568.7 643.3L569.2 643.3L569.7 643.4L570.2 643.5L570.7 643.6L571.2 643.7L571.7 643.8L572.2 643.9L572.7 644.0L573.2 644.0L573.7 644.1L574.2 644.2L574.7 644.3L575.2 644.4L575.7 644.5L576.2 644.6L576.7 644.6L577.2 644.7L577.7 644.8L578.2 644.9L578.7 645.0L579.2 645.0L579.7 645.1L580.2 645.2L580.7 645.3L581.2 645.4L581.7 645.4L582.2 645.5L582.7 645.6L583.2 645.7L583.7 645.8L584.2 645.8L584.7 645.9L585.2 646.0L585.7 646.1L586.2 646.1L586.7 646.2L587.2 646.3L587.7 646.4L588.2 646.5L588.7 646.5L589.2 646.6L589.7 646.7L590.2 646.8L590.7 646.8L591.2 646.9L591.7 647.0L592.2 647.0L592.7 647.1L593.2 647.2L593.7 647.3L594.2 647.3L594.7 647.4L595.2 647.5L595.7 647.5L596.2 647.6L596.7 647.7L597.2 647.8L597.7 647.8L598.2 647.9L598.7 648.0L599.2 648.0L599.7 648.1L600.2 648.2L600.7 648.2L601.2 648.3L601.7 648.4L602.2 648.5L602.7 648.5L603.2 648.6L603.7 648.7L604.2 648.7L604.7 648.8L605.2 648.9L605.7 648.9L606.2 649.0L606.7 649.1L607.2 649.1L607.7 649.2L608.2 649.3L608.7 649.3L609.2 649.4L609.7 649.4L610.2 649.5L610.7 649.6L611.2 649.6L611.7 649.7L612.2 649.8L612.7 649.8L613.2 649.9L613.7 650.0L614.2 650.0L614.7 650.1L615.2 650.1L615.7 650.2L616.2 650.3L616.7 650.3L617.2 650.4L617.7 650.4L618.2 650.5L618.7 650.6L619.2 650.6L619.7 650.7L620.2 650.8L620.7 650.8L621.2 650.9L621.7 650.9L622.2 651.0L622.7 651.0L623.2 651.1L623.7 651.2L624.2 651.2L624.7 651.3L625.2 651.3L625.7 651.4L626.2 651.5L626.7 651.5L627.2 651.6L627.7 651.6L628.2 651.7L628.7 651.7L629.2 651.8L629.7 651.9L630.2 651.9L630.7 652.0L631.2 652.0L631.7 652.1L632.2 652.1L632.7 652.2L633.2 652.3L633.7 652.3L634.2 652.4L634.7 652.4L635.2 652.5L635.7 652.5L636.2 652.6L636.7 652.6L637.2 652.7L637.7 652.7L638.2 652.8L638.7 652.9L639.2 652.9L639.7 653.0L640.2 653.0L640.7 653.1L641.2 653.1L641.7 653.2L642.2 653.2L642.7 653.3L643.2 653.3L643.7 653.4L644.2 653.4L644.7 653.5L645.2 653.5L645.7 653.6L646.2 653.6L646.7 653.7L647.2 653.7L647.7 653.8L648.2 653.9L648.7 653.9L649.2 654.0L649.7 654.0L650.2 654.1L650.7 654.1L651.2 654.2L651.7 654.2L652.2 654.3L652.7 654.3L653.2 654.4L653.7 654.4L654.2 654.5L654.7 654.5L655.2 654.6L655.7 654.6L656.2 654.7L656.7 654.7L657.2 654.7L657.7 654.8L658.2 654.8L658.7 654.9L659.2 654.9L659.7 655.0L660.2 655.0L660.7 655.1L661.2 655.1L661.7 655.2L662.2 655.2L662.7 655.3L663.2 655.3L663.7 655.4L664.2 655.4L664.7 655.5L665.2 655.5L665.7 655.6L666.2 655.6L666.7 655.7L667.2 655.7L667.7 655.7L668.2 655.8L668.7 655.8L668.8 655.8" stroke="#c29a08" stroke-width="2.8"/>
<path d="M59.4 693.4L59.7 693.4L60.2 693.4L60.7 693.4L61.2 693.4L61.7 693.3L62.2 693.3L62.7 693.3L63.2 693.3L63.7 693.3L64.2 693.3L64.7 693.3L65.2 693.3L65.7 693.3L66.2 693.3L66.7 693.3L67.2 693.3L67.7 693.3L68.2 693.3L68.7 693.3L69.2 693.3L69.7 693.3L70.2 693.3L70.7 693.3L71.2 693.3L71.7 693.3L72.2 693.3L72.7 693.3L73.2 693.3L73.7 693.3L74.2 693.2L74.7 693.2L75.2 693.2L75.7 693.2L76.2 693.2L76.7 693.2L77.2 693.2L77.7 693.2L78.2 693.2L78.7 693.2L79.2 693.2L79.7 693.2L80.2 693.2L80.7 693.2L81.2 693.2L81.7 693.2L82.2 693.2L82.7 693.2L83.2 693.2L83.7 693.2L84.2 693.2L84.7 693.2L85.2 693.2L85.7 693.2L86.2 693.2L86.7 693.1L87.2 693.1L87.7 693.1L88.2 693.1L88.7 693.1L89.2 693.1L89.7 693.1L90.2 693.1L90.7 693.1L91.2 693.1L91.7 693.1L92.2 693.1L92.7 693.1L93.2 693.1L93.7 693.1L94.2 693.1L94.7 693.1L95.2 693.1L95.7 693.1L96.2 693.1L96.7 693.1L97.2 693.1L97.7 693.1L98.2 693.1L98.7 693.0L99.2 693.0L99.7 693.0L100.2 693.0L100.7 693.0L101.2 693.0L101.7 693.0L102.2 693.0L102.7 693.0L103.2 693.0L103.7 693.0L104.2 693.0L104.7 693.0L105.2 693.0L105.7 693.0L106.2 693.0L106.7 693.0L107.2 693.0L107.7 693.0L108.2 693.0L108.7 693.0L109.2 693.0L109.7 693.0L110.2 693.0L110.7 692.9L111.2 692.9L111.7 692.9L112.2 692.9L112.7 692.9L113.2 692.9L113.7 692.9L114.2 692.9L114.7 692.9L115.2 692.9L115.7 692.9L116.2 692.9L116.7 692.9L117.2 692.9L117.7 692.9L118.2 692.9L118.7 692.9L119.2 692.9L119.7 692.9L120.2 692.9L120.7 692.9L121.2 692.9L121.7 692.9L122.2 692.8L122.7 692.8L123.2 692.8L123.7 692.8L124.2 692.8L124.7 692.8L125.2 692.8L125.7 692.8L126.2 692.8L126.7 692.8L127.2 692.8L127.7 692.8L128.2 692.8L128.7 692.8L129.2 692.8L129.7 692.8L130.2 692.8L130.7 692.8L131.2 692.8L131.7 692.8L132.2 692.8L132.7 692.8L133.2 692.8L133.7 692.7L134.2 692.7L134.7 692.7L135.2 692.7L135.7 692.7L136.2 692.7L136.7 692.7L137.2 692.7L137.7 692.7L138.2 692.7L138.7 692.7L139.2 692.7L139.7 692.7L140.2 692.7L140.7 692.7L141.2 692.7L141.7 692.7L142.2 692.7L142.7 692.7L143.2 692.7L143.7 692.7L144.2 692.7L144.7 692.6L145.2 692.6L145.7 692.6L146.2 692.6L146.7 692.6L147.2 692.6L147.7 692.6L148.2 692.6L148.7 692.6L149.2 692.6L149.7 692.6L150.2 692.6L150.7 692.6L151.2 692.6L151.7 692.6L152.2 692.6L152.7 692.6L153.2 692.6L153.7 692.6L154.2 692.6L154.7 692.6L155.2 692.5L155.7 692.5L156.2 692.5L156.7 692.5L157.2 692.5L157.7 692.5L158.2 692.5L158.7 692.5L159.2 692.5L159.7 692.5L160.2 692.5L160.7 692.5L161.2 692.5L161.7 692.5L162.2 692.5L162.7 692.5L163.2 692.5L163.7 692.5L164.2 692.5L164.7 692.5L165.2 692.5L165.7 692.4L166.2 692.4L166.7 692.4L167.2 692.4L167.7 692.4L168.2 692.4L168.7 692.4L169.2 692.4L169.7 692.4L170.2 692.4L170.7 692.4L171.2 692.4L171.7 692.4L172.2 692.4L172.7 692.4L173.2 692.4L173.7 692.4L174.2 692.4L174.7 692.4L175.2 692.4L175.7 692.3L176.2 692.3L176.7 692.3L177.2 692.3L177.7 692.3L178.2 692.3L178.7 692.3L179.2 692.3L179.7 692.3L180.2 692.3L180.7 692.3L181.2 692.3L181.7 692.3L182.2 692.3L182.7 692.3L183.2 692.3L183.7 692.3L184.2 692.3L184.7 692.3L185.2 692.3L185.7 692.2L186.2 692.2L186.7 692.2L187.2 692.2L187.7 692.2L188.2 692.2L188.7 692.2L189.2 692.2L189.7 692.2L190.2 692.2L190.7 692.2L191.2 692.2L191.7 692.2L192.2 692.2L192.7 692.2L193.2 692.2L193.7 692.2L194.2 692.2L194.7 692.2L195.2 692.2L195.7 692.1L196.2 692.1L196.7 692.1L197.2 692.1L197.7 692.1L198.2 692.1L198.7 692.1L199.2 692.1L199.7 692.1L200.2 692.1L200.7 692.1L201.2 692.1L201.7 692.1L202.2 692.1L202.7 692.1L203.2 692.1L203.7 692.1L204.2 692.1L204.7 692.0L205.2 692.0L205.7 692.0L206.2 692.0L206.7 692.0L207.2 692.0L207.7 692.0L208.2 692.0L208.7 692.0L209.2 692.0L209.7 692.0L210.2 692.0L210.7 692.0L211.2 692.0L211.7 692.0L212.2 692.0L212.7 692.0L213.2 692.0L213.7 692.0L214.2 691.9L214.7 691.9L215.2 691.9L215.7 691.9L216.2 691.9L216.7 691.9L217.2 691.9L217.7 691.9L218.2 691.9L218.7 691.9L219.2 691.9L219.7 691.9L220.2 691.9L220.7 691.9L221.2 691.9L221.7 691.9L222.2 691.9L222.7 691.9L223.2 691.8L223.7 691.8L224.2 691.8L224.7 691.8L225.2 691.8L225.7 691.8L226.2 691.8L226.7 691.8L227.2 691.8L227.7 691.8L228.2 691.8L228.7 691.8L229.2 691.8L229.7 691.8L230.2 691.8L230.7 691.8L231.2 691.8L231.7 691.7L232.2 691.7L232.7 691.7L233.2 691.7L233.7 691.7L234.2 691.7L234.7 691.7L235.2 691.7L235.7 691.7L236.2 691.7L236.7 691.7L237.2 691.7L237.7 691.7L238.2 691.7L238.7 691.7L239.2 691.7L239.7 691.7L240.2 691.6L240.7 691.6L241.2 691.6L241.7 691.6L242.2 691.6L242.7 691.6L243.2 691.6L243.7 691.6L244.2 691.6L244.7 691.6L245.2 691.6L245.7 691.6L246.2 691.6L246.7 691.6L247.2 691.6L247.7 691.6L248.2 691.5L248.7 691.5L249.2 691.5L249.7 691.5L250.2 691.5L250.7 691.5L251.2 691.5L251.7 691.5L252.2 691.5L252.7 691.5L253.2 691.5L253.7 691.5L254.2 691.5L254.7 691.5L255.2 691.5L255.7 691.5L256.2 691.4L256.7 691.4L257.2 691.4L257.7 691.4L258.2 691.4L258.7 691.4L259.2 691.4L259.7 691.4L260.2 691.4L260.7 691.4L261.2 691.4L261.7 691.4L262.2 691.4L262.7 691.4L263.2 691.4L263.7 691.4L264.2 691.3L264.7 691.3L265.2 691.3L265.7 691.3L266.2 691.3L266.7 691.3L267.2 691.3L267.7 691.3L268.2 691.3L268.7 691.3L269.2 691.3L269.7 691.3L270.2 691.3L270.7 691.3L271.2 691.3L271.7 691.2L272.2 691.2L272.7 691.2L273.2 691.2L273.7 691.2L274.2 691.2L274.7 691.2L275.2 691.2L275.7 691.2L276.2 691.2L276.7 691.2L277.2 691.2L277.7 691.2L278.2 691.2L278.7 691.2L279.2 691.1L279.7 691.1L280.2 691.1L280.7 691.1L281.2 691.1L281.7 691.1L282.2 691.1L282.7 691.1L283.2 691.1L283.7 691.1L284.2 691.1L284.7 691.1L285.2 691.1L285.7 691.1L286.2 691.0L286.7 691.0L287.2 691.0L287.7 691.0L288.2 691.0L288.7 691.0L289.2 691.0L289.7 691.0L290.2 691.0L290.7 691.0L291.2 691.0L291.7 691.0L292.2 691.0L292.7 691.0L293.2 690.9L293.7 690.9L294.2 690.9L294.7 690.9L295.2 690.9L295.7 690.9L296.2 690.9L296.7 690.9L297.2 690.9L297.7 690.9L298.2 690.9L298.7 690.9L299.2 690.9L299.7 690.9L300.2 690.8L300.7 690.8L301.2 690.8L301.7 690.8L302.2 690.8L302.7 690.8L303.2 690.8L303.7 690.8L304.2 690.8L304.7 690.8L305.2 690.8L305.7 690.8L306.2 690.8L306.7 690.7L307.2 690.7L307.7 690.7L308.2 690.7L308.7 690.7L309.2 690.7L309.7 690.7L310.2 690.7L310.7 690.7L311.2 690.7L311.7 690.7L312.2 690.7L312.7 690.6L313.2 690.6L313.7 690.6L314.2 690.6L314.7 690.6L315.2 690.6L315.7 690.6L316.2 690.6L316.7 690.6L317.2 690.6L317.7 690.6L318.2 690.6L318.7 690.6L319.2 690.5L319.7 690.5L320.2 690.5L320.7 690.5L321.2 690.5L321.7 690.5L322.2 690.5L322.7 690.5L323.2 690.5L323.7 690.5L324.2 690.5L324.7 690.5L325.2 690.4L325.7 690.4L326.2 690.4L326.7 690.4L327.2 690.4L327.7 690.4L328.2 690.4L328.7 690.4L329.2 690.4L329.7 690.4L330.2 690.4L330.7 690.3L331.2 690.3L331.7 690.3L332.2 690.3L332.7 690.3L333.2 690.3L333.7 690.3L334.2 690.3L334.7 690.3L335.2 690.3L335.7 690.3L336.2 690.3L336.7 690.2L337.2 690.2L337.7 690.2L338.2 690.2L338.7 690.2L339.2 690.2L339.7 690.2L340.2 690.2L340.7 690.2L341.2 690.2L341.7 690.2L342.2 690.1L342.7 690.1L343.2 690.1L343.7 690.1L344.2 690.1L344.7 690.1L345.2 690.1L345.7 690.1L346.2 690.1L346.7 690.1L347.2 690.0L347.7 690.0L348.2 690.0L348.7 690.0L349.2 690.0L349.7 690.0L350.2 690.0L350.7 690.0L351.2 690.0L351.7 690.0L352.2 689.9L352.7 689.9L353.2 689.9L353.7 689.9L354.2 689.9L354.7 689.9L355.2 689.9L355.7 689.9L356.2 689.9L356.7 689.9L357.2 689.8L357.7 689.8L358.2 689.8L358.7 689.8L359.2 689.8L359.7 689.8L360.2 689.8L360.7 689.8L361.2 689.8L361.7 689.8L362.2 689.7L362.7 689.7L363.2 689.7L363.7 689.7L364.2 689.7L364.7 689.7L365.2 689.7L365.7 689.7L366.2 689.7L366.7 689.6L367.2 689.6L367.7 689.6L368.2 689.6L368.7 689.6L369.2 689.6L369.7 689.6L370.2 689.6L370.7 689.6L371.2 689.5L371.7 689.5L372.2 689.5L372.7 689.5L373.2 689.5L373.7 689.5L374.2 689.5L374.7 689.5L375.2 689.5L375.7 689.4L376.2 689.4L376.7 689.4L377.2 689.4L377.7 689.4L378.2 689.4L378.7 689.4L379.2 689.4L379.7 689.3L380.2 689.3L380.7 689.3L381.2 689.3L381.7 689.3L382.2 689.3L382.7 689.3L383.2 689.3L383.7 689.2L384.2 689.2L384.7 689.2L385.2 689.2L385.7 689.2L386.2 689.2L386.7 689.2L387.2 689.2L387.7 689.1L388.2 689.1L388.7 689.1L389.2 689.1L389.7 689.1L390.2 689.1L390.7 689.1L391.2 689.0L391.7 689.0L392.2 689.0L392.7 689.0L393.2 689.0L393.7 689.0L394.2 689.0L394.7 689.0L395.2 688.9L395.7 688.9L396.2 688.9L396.7 688.9L397.2 688.9L397.7 688.9L398.2 688.9L398.7 688.8L399.2 688.8L399.7 688.8L400.2 688.8L400.7 688.8L401.2 688.8L401.7 688.7L402.2 688.7L402.7 688.7L403.2 688.7L403.7 688.7L404.2 688.7L404.7 688.7L405.2 688.6L405.7 688.6L406.2 688.6L406.7 688.6L407.2 688.6L407.7 688.6L408.2 688.5L408.7 688.5L409.2 688.5L409.7 688.5L410.2 688.5L410.7 688.5L411.2 688.4L411.7 688.4L412.2 688.4L412.7 688.4L413.2 688.4L413.7 688.4L414.2 688.3L414.7 688.3L415.2 688.3L415.7 688.3L416.2 688.3L416.7 688.3L417.2 688.2L417.7 688.2L418.2 688.2L418.7 688.2L419.2 688.2L419.7 688.1L420.2 688.1L420.7 688.1L421.2 688.1L421.7 688.1L422.2 688.0L422.7 688.0L423.2 688.0L423.7 688.0L424.2 688.0L424.7 687.9L425.2 687.9L425.7 687.9L426.2 687.9L426.7 687.9L427.2 687.8L427.7 687.8L428.2 687.8L428.7 687.8L429.2 687.7L429.7 687.7L430.2 687.7L430.7 687.7L431.2 687.7L431.7 687.6L432.2 687.6L432.7 687.6L433.2 687.6L433.7 687.5L434.2 687.5L434.7 687.5L435.2 687.5L435.7 687.4L436.2 687.4L436.7 687.4L437.2 687.4L437.7 687.3L438.2 687.3L438.7 687.3L439.2 687.2L439.7 687.2L440.2 687.2L440.7 687.2L441.2 687.1L441.7 687.1L442.2 687.1L442.7 687.0L443.2 687.0L443.7 687.0L444.2 686.9L444.7 686.9L445.2 686.9L445.7 686.8L446.2 686.8L446.7 686.8L447.2 686.7L447.7 686.7L448.2 686.7L448.7 686.6L449.2 686.6L449.7 686.6L450.2 686.5L450.7 686.5L451.2 686.4L451.7 686.4L452.2 686.4L452.7 686.3L453.2 686.3L453.7 686.2L454.2 686.2L454.7 686.1L455.2 686.1L455.7 686.0L456.2 686.0L456.7 685.9L457.2 685.9L457.7 685.8L458.2 685.8L458.7 685.7L459.2 685.7L459.7 685.6L460.2 685.5L460.7 685.5L461.2 685.4L461.7 685.3L462.2 685.3L462.7 685.2L463.2 685.1L463.7 685.0L464.2 684.9L464.7 684.9L465.2 684.8L465.4 684.7L465.7 684.7L465.9 684.6L466.2 684.6L466.4 684.5L466.7 684.5L466.9 684.4L467.2 684.3L467.4 684.2L467.7 684.0L467.9 683.9L468.2 683.8L468.4 683.7L468.7 683.5L468.9 683.4L469.2 683.3L469.4 683.2L469.7 683.1L469.9 682.9L470.2 682.8L470.4 682.7L470.7 682.5L470.9 682.4L471.2 682.2L471.4 682.1L471.7 682.0L471.9 681.8L472.2 681.7L472.4 681.6L472.7 681.5L472.9 681.4L473.2 681.4L473.4 681.7L473.7 682.0L473.9 682.3L474.2 682.5L474.4 682.7L474.7 682.9L474.9 683.1L475.2 683.2L475.4 683.4L475.7 683.5L475.9 683.6L476.2 683.8L476.4 683.9L476.7 684.0L476.9 684.1L477.2 684.2L477.4 684.3L477.7 684.4L477.9 684.5L478.2 684.5L478.4 684.6L478.7 684.7L478.9 684.8L479.2 684.8L479.4 684.9L479.7 684.9L479.9 685.0L480.2 685.0L480.4 685.1L480.7 685.1L480.9 685.2L481.2 685.2L481.7 685.3L482.2 685.4L482.7 685.5L483.2 685.6L483.7 685.6L484.2 685.7L484.7 685.8L485.2 685.8L485.7 685.9L486.2 685.9L486.7 686.0L487.2 686.0L487.7 686.1L488.2 686.1L488.7 686.2L489.2 686.2L489.7 686.3L490.2 686.3L490.7 686.3L491.2 686.4L491.7 686.4L492.2 686.5L492.7 686.5L493.2 686.5L493.7 686.6L494.2 686.6L494.7 686.6L495.2 686.6L495.7 686.7L496.2 686.7L496.7 686.7L497.2 686.8L497.7 686.8L498.2 686.8L498.7 686.8L499.2 686.9L499.7 686.9L500.2 686.9L500.7 686.9L501.2 686.9L501.7 687.0L502.2 687.0L502.7 687.0L503.2 687.0L503.7 687.0L504.2 687.1L504.7 687.1L505.2 687.1L505.7 687.1L506.2 687.1L506.7 687.2L507.2 687.2L507.7 687.2L508.2 687.2L508.7 687.2L509.2 687.2L509.7 687.2L510.2 687.3L510.7 687.3L511.2 687.3L511.7 687.3L512.2 687.3L512.7 687.3L513.2 687.3L513.7 687.4L514.2 687.4L514.7 687.4L515.2 687.4L515.7 687.4L516.2 687.4L516.7 687.4L517.2 687.5L517.7 687.5L518.2 687.5L518.7 687.5L519.2 687.5L519.7 687.5L520.2 687.5L520.7 687.5L521.2 687.5L521.7 687.6L522.2 687.6L522.7 687.6L523.2 687.6L523.7 687.6L524.2 687.6L524.7 687.6L525.2 687.6L525.7 687.6L526.2 687.6L526.7 687.7L527.2 687.7L527.7 687.7L528.2 687.7L528.7 687.7L529.2 687.7L529.7 687.7L530.2 687.7L530.7 687.7L531.2 687.7L531.7 687.7L532.2 687.8L532.7 687.8L533.2 687.8L533.7 687.8L534.2 687.8L534.7 687.8L535.2 687.8L535.7 687.8L536.2 687.8L536.7 687.8L537.2 687.8L537.7 687.8L538.2 687.9L538.7 687.9L539.2 687.9L539.7 687.9L540.2 687.9L540.7 687.9L541.2 687.9L541.7 687.9L542.2 687.9L542.7 687.9L543.2 687.9L543.7 687.9L544.2 687.9L544.7 687.9L545.2 687.9L545.7 688.0L546.2 688.0L546.7 688.0L547.2 688.0L547.7 688.0L548.2 688.0L548.7 688.0L549.2 688.0L549.7 688.0L550.2 688.0L550.7 688.0L551.2 688.0L551.7 688.0L552.2 688.0L552.7 688.0L553.2 688.0L553.7 688.1L554.2 688.1L554.7 688.1L555.2 688.1L555.7 688.1L556.2 688.1L556.7 688.1L557.2 688.1L557.7 688.1L558.2 688.1L558.7 688.1L559.2 688.1L559.7 688.1L560.2 688.1L560.7 688.1L561.2 688.1L561.7 688.1L562.2 688.1L562.7 688.1L563.2 688.2L563.7 688.2L564.2 688.2L564.7 688.2L565.2 688.2L565.7 688.2L566.2 688.2L566.7 688.2L567.2 688.2L567.7 688.2L568.2 688.2L568.7 688.2L569.2 688.2L569.7 688.2L570.2 688.2L570.7 688.2L571.2 688.2L571.7 688.2L572.2 688.2L572.7 688.2L573.2 688.2L573.7 688.3L574.2 688.3L574.7 688.3L575.2 688.3L575.7 688.3L576.2 688.3L576.7 688.3L577.2 688.3L577.7 688.3L578.2 688.3L578.7 688.3L579.2 688.3L579.7 688.3L580.2 688.3L580.7 688.3L581.2 688.3L581.7 688.3L582.2 688.3L582.7 688.3L583.2 688.3L583.7 688.3L584.2 688.3L584.7 688.3L585.2 688.3L585.7 688.3L586.2 688.4L586.7 688.4L587.2 688.4L587.7 688.4L588.2 688.4L588.7 688.4L589.2 688.4L589.7 688.4L590.2 688.4L590.7 688.4L591.2 688.4L591.7 688.4L592.2 688.4L592.7 688.4L593.2 688.4L593.7 688.4L594.2 688.4L594.7 688.4L595.2 688.4L595.7 688.4L596.2 688.4L596.7 688.4L597.2 688.4L597.7 688.4L598.2 688.4L598.7 688.4L599.2 688.4L599.7 688.4L600.2 688.5L600.7 688.5L601.2 688.5L601.7 688.5L602.2 688.5L602.7 688.5L603.2 688.5L603.7 688.5L604.2 688.5L604.7 688.5L605.2 688.5L605.7 688.5L606.2 688.5L606.7 688.5L607.2 688.5L607.7 688.5L608.2 688.5L608.7 688.5L609.2 688.5L609.7 688.5L610.2 688.5L610.7 688.5L611.2 688.5L611.7 688.5L612.2 688.5L612.7 688.5L613.2 688.5L613.7 688.5L614.2 688.5L614.7 688.5L615.2 688.5L615.7 688.5L616.2 688.5L616.7 688.6L617.2 688.6L617.7 688.6L618.2 688.6L618.7 688.6L619.2 688.6L619.7 688.6L620.2 688.6L620.7 688.6L621.2 688.6L621.7 688.6L622.2 688.6L622.7 688.6L623.2 688.6L623.7 688.6L624.2 688.6L624.7 688.6L625.2 688.6L625.7 688.6L626.2 688.6L626.7 688.6L627.2 688.6L627.7 688.6L628.2 688.6L628.7 688.6L629.2 688.6L629.7 688.6L630.2 688.6L630.7 688.6L631.2 688.6L631.7 688.6L632.2 688.6L632.7 688.6L633.2 688.6L633.7 688.6L634.2 688.6L634.7 688.6L635.2 688.6L635.7 688.7L636.2 688.7L636.7 688.7L637.2 688.7L637.7 688.7L638.2 688.7L638.7 688.7L639.2 688.7L639.7 688.7L640.2 688.7L640.7 688.7L641.2 688.7L641.7 688.7L642.2 688.7L642.7 688.7L643.2 688.7L643.7 688.7L644.2 688.7L644.7 688.7L645.2 688.7L645.7 688.7L646.2 688.7L646.7 688.7L647.2 688.7L647.7 688.7L648.2 688.7L648.7 688.7L649.2 688.7L649.7 688.7L650.2 688.7L650.7 688.7L651.2 688.7L651.7 688.7L652.2 688.7L652.7 688.7L653.2 688.7L653.7 688.7L654.2 688.7L654.7 688.7L655.2 688.7L655.7 688.7L656.2 688.7L656.7 688.7L657.2 688.7L657.7 688.7L658.2 688.8L658.7 688.8L659.2 688.8L659.7 688.8L660.2 688.8L660.7 688.8L661.2 688.8L661.7 688.8L662.2 688.8L662.7 688.8L663.2 688.8L663.7 688.8L664.2 688.8L664.7 688.8L665.2 688.8L665.7 688.8L666.2 688.8L666.7 688.8L667.2 688.8L667.7 688.8L668.2 688.8L668.7 688.8L668.8 688.8" stroke="#2e9fd8" stroke-width="1.4"/>
<path d="M59.4 690.5L59.5 690.5L60.0 690.5L60.5 690.5L61.0 690.4L61.5 690.4L62.0 690.4L62.5 690.4L63.0 690.4L63.5 690.4L64.0 690.4L64.5 690.4L65.0 690.4L65.5 690.4L66.0 690.4L66.5 690.4L67.0 690.4L67.5 690.4L68.0 690.4L68.5 690.4L69.0 690.4L69.5 690.4L70.0 690.4L70.5 690.4L71.0 690.4L71.5 690.4L72.0 690.3L72.5 690.3L73.0 690.3L73.5 690.3L74.0 690.3L74.5 690.3L75.0 690.3L75.5 690.3L76.0 690.3L76.5 690.3L77.0 690.3L77.5 690.3L78.0 690.3L78.5 690.3L79.0 690.3L79.5 690.3L80.0 690.3L80.5 690.3L81.0 690.3L81.5 690.3L82.0 690.3L82.5 690.2L83.0 690.2L83.5 690.2L84.0 690.2L84.5 690.2L85.0 690.2L85.5 690.2L86.0 690.2L86.5 690.2L87.0 690.2L87.5 690.2L88.0 690.2L88.5 690.2L89.0 690.2L89.5 690.2L90.0 690.2L90.5 690.2L91.0 690.2L91.5 690.2L92.0 690.2L92.5 690.1L93.0 690.1L93.5 690.1L94.0 690.1L94.5 690.1L95.0 690.1L95.5 690.1L96.0 690.1L96.5 690.1L97.0 690.1L97.5 690.1L98.0 690.1L98.5 690.1L99.0 690.1L99.5 690.1L100.0 690.1L100.5 690.1L101.0 690.1L101.5 690.1L102.0 690.0L102.5 690.0L103.0 690.0L103.5 690.0L104.0 690.0L104.5 690.0L105.0 690.0L105.5 690.0L106.0 690.0L106.5 690.0L107.0 690.0L107.5 690.0L108.0 690.0L108.5 690.0L109.0 690.0L109.5 690.0L110.0 690.0L110.5 689.9L111.0 689.9L111.5 689.9L112.0 689.9L112.5 689.9L113.0 689.9L113.5 689.9L114.0 689.9L114.5 689.9L115.0 689.9L115.5 689.9L116.0 689.9L116.5 689.9L117.0 689.9L117.5 689.9L118.0 689.9L118.5 689.9L119.0 689.8L119.5 689.8L120.0 689.8L120.5 689.8L121.0 689.8L121.5 689.8L122.0 689.8L122.5 689.8L123.0 689.8L123.5 689.8L124.0 689.8L124.5 689.8L125.0 689.8L125.5 689.8L126.0 689.8L126.5 689.8L127.0 689.7L127.5 689.7L128.0 689.7L128.5 689.7L129.0 689.7L129.5 689.7L130.0 689.7L130.5 689.7L131.0 689.7L131.5 689.7L132.0 689.7L132.5 689.7L133.0 689.7L133.5 689.7L134.0 689.7L134.5 689.6L135.0 689.6L135.5 689.6L136.0 689.6L136.5 689.6L137.0 689.6L137.5 689.6L138.0 689.6L138.5 689.6L139.0 689.6L139.5 689.6L140.0 689.6L140.5 689.6L141.0 689.6L141.5 689.5L142.0 689.5L142.5 689.5L143.0 689.5L143.5 689.5L144.0 689.5L144.5 689.5L145.0 689.5L145.5 689.5L146.0 689.5L146.5 689.5L147.0 689.5L147.5 689.5L148.0 689.4L148.5 689.4L149.0 689.4L149.5 689.4L150.0 689.4L150.5 689.4L151.0 689.4L151.5 689.4L152.0 689.4L152.5 689.4L153.0 689.4L153.5 689.4L154.0 689.4L154.5 689.3L155.0 689.3L155.5 689.3L156.0 689.3L156.5 689.3L157.0 689.3L157.5 689.3L158.0 689.3L158.5 689.3L159.0 689.3L159.5 689.3L160.0 689.3L160.5 689.2L161.0 689.2L161.5 689.2L162.0 689.2L162.5 689.2L163.0 689.2L163.5 689.2L164.0 689.2L164.5 689.2L165.0 689.2L165.5 689.2L166.0 689.1L166.5 689.1L167.0 689.1L167.5 689.1L168.0 689.1L168.5 689.1L169.0 689.1L169.5 689.1L170.0 689.1L170.5 689.1L171.0 689.1L171.5 689.0L172.0 689.0L172.5 689.0L173.0 689.0L173.5 689.0L174.0 689.0L174.5 689.0L175.0 689.0L175.5 689.0L176.0 689.0L176.5 688.9L177.0 688.9L177.5 688.9L178.0 688.9L178.5 688.9L179.0 688.9L179.5 688.9L180.0 688.9L180.5 688.9L181.0 688.9L181.5 688.8L182.0 688.8L182.5 688.8L183.0 688.8L183.5 688.8L184.0 688.8L184.5 688.8L185.0 688.8L185.5 688.8L186.0 688.8L186.5 688.7L187.0 688.7L187.5 688.7L188.0 688.7L188.5 688.7L189.0 688.7L189.5 688.7L190.0 688.7L190.5 688.7L191.0 688.6L191.5 688.6L192.0 688.6L192.5 688.6L193.0 688.6L193.5 688.6L194.0 688.6L194.5 688.6L195.0 688.5L195.5 688.5L196.0 688.5L196.5 688.5L197.0 688.5L197.5 688.5L198.0 688.5L198.5 688.5L199.0 688.4L199.5 688.4L200.0 688.4L200.5 688.4L201.0 688.4L201.5 688.4L202.0 688.4L202.5 688.4L203.0 688.3L203.5 688.3L204.0 688.3L204.5 688.3L205.0 688.3L205.5 688.3L206.0 688.3L206.5 688.3L207.0 688.2L207.5 688.2L208.0 688.2L208.5 688.2L209.0 688.2L209.5 688.2L210.0 688.2L210.5 688.1L211.0 688.1L211.5 688.1L212.0 688.1L212.5 688.1L213.0 688.1L213.5 688.1L214.0 688.0L214.5 688.0L215.0 688.0L215.5 688.0L216.0 688.0L216.5 688.0L217.0 688.0L217.5 687.9L218.0 687.9L218.5 687.9L219.0 687.9L219.5 687.9L220.0 687.9L220.5 687.8L221.0 687.8L221.5 687.8L222.0 687.8L222.5 687.8L223.0 687.8L223.5 687.7L224.0 687.7L224.5 687.7L225.0 687.7L225.5 687.7L226.0 687.7L226.5 687.6L227.0 687.6L227.5 687.6L228.0 687.6L228.5 687.6L229.0 687.5L229.5 687.5L230.0 687.5L230.5 687.5L231.0 687.5L231.5 687.5L232.0 687.4L232.5 687.4L233.0 687.4L233.5 687.4L234.0 687.4L234.5 687.3L235.0 687.3L235.5 687.3L236.0 687.3L236.5 687.3L237.0 687.2L237.5 687.2L238.0 687.2L238.5 687.2L239.0 687.2L239.5 687.1L240.0 687.1L240.5 687.1L241.0 687.1L241.5 687.1L242.0 687.0L242.5 687.0L243.0 687.0L243.5 687.0L244.0 686.9L244.5 686.9L245.0 686.9L245.5 686.9L246.0 686.8L246.5 686.8L247.0 686.8L247.5 686.8L248.0 686.7L248.5 686.7L249.0 686.7L249.5 686.7L250.0 686.6L250.5 686.6L251.0 686.6L251.5 686.6L252.0 686.5L252.5 686.5L253.0 686.5L253.5 686.5L254.0 686.4L254.5 686.4L255.0 686.4L255.5 686.3L256.0 686.3L256.5 686.3L257.0 686.3L257.5 686.2L258.0 686.2L258.5 686.2L259.0 686.1L259.5 686.1L260.0 686.1L260.5 686.0L261.0 686.0L261.5 686.0L262.0 685.9L262.5 685.9L263.0 685.9L263.5 685.8L264.0 685.8L264.5 685.8L265.0 685.7L265.5 685.7L266.0 685.7L266.5 685.6L267.0 685.6L267.5 685.6L268.0 685.5L268.5 685.5L269.0 685.4L269.5 685.4L270.0 685.4L270.5 685.3L271.0 685.3L271.5 685.2L272.0 685.2L272.5 685.2L273.0 685.1L273.5 685.1L274.0 685.0L274.5 685.0L275.0 684.9L275.5 684.9L276.0 684.8L276.5 684.8L277.0 684.7L277.5 684.7L278.0 684.6L278.5 684.6L279.0 684.5L279.5 684.5L280.0 684.4L280.5 684.4L281.0 684.3L281.5 684.3L282.0 684.2L282.5 684.1L283.0 684.1L283.5 684.0L284.0 684.0L284.5 683.9L285.0 683.8L285.5 683.8L286.0 683.7L286.5 683.6L287.0 683.5L287.5 683.5L288.0 683.4L288.5 683.3L289.0 683.2L289.5 683.1L290.0 683.1L290.5 683.0L291.0 682.9L291.5 682.8L292.0 682.7L292.5 682.6L293.0 682.5L293.5 682.4L294.0 682.3L294.2 682.3L294.5 682.2L294.8 682.1L295.0 682.1L295.2 682.0L295.5 682.0L295.8 681.9L296.0 681.9L296.2 681.8L296.5 681.8L296.8 681.7L297.0 681.6L297.2 681.6L297.5 681.5L297.8 681.5L298.0 681.4L298.2 681.4L298.5 681.3L298.8 681.2L299.0 681.2L299.2 681.1L299.5 681.0L299.8 680.9L300.0 680.9L300.2 680.8L300.5 680.7L300.8 680.6L301.0 680.6L301.2 680.5L301.5 680.4L301.8 680.4L302.0 680.3L302.2 680.5L302.5 680.7L302.8 680.9L303.0 681.1L303.2 681.2L303.5 681.4L303.8 681.5L304.0 681.7L304.2 681.8L304.5 681.9L304.8 682.0L305.0 682.1L305.2 682.2L305.5 682.3L305.8 682.4L306.0 682.5L306.2 682.6L306.5 682.7L306.8 682.8L307.0 682.8L307.2 682.9L307.5 683.0L307.8 683.1L308.0 683.1L308.2 683.2L308.5 683.3L308.8 683.3L309.0 683.4L309.2 683.5L309.5 683.5L309.8 683.6L310.0 683.6L310.5 683.8L311.0 683.9L311.5 684.0L312.0 684.1L312.5 684.2L313.0 684.2L313.5 684.3L314.0 684.4L314.5 684.5L315.0 684.6L315.5 684.6L316.0 684.7L316.5 684.8L317.0 684.8L317.5 684.9L318.0 685.0L318.5 685.0L319.0 685.1L319.5 685.1L320.0 685.2L320.5 685.2L321.0 685.3L321.5 685.3L322.0 685.4L322.5 685.4L323.0 685.5L323.5 685.5L324.0 685.5L324.5 685.6L325.0 685.6L325.5 685.7L326.0 685.7L326.5 685.7L327.0 685.8L327.5 685.8L328.0 685.8L328.5 685.9L329.0 685.9L329.5 685.9L330.0 686.0L330.5 686.0L331.0 686.0L331.5 686.1L332.0 686.1L332.5 686.1L333.0 686.1L333.5 686.2L334.0 686.2L334.5 686.2L335.0 686.2L335.5 686.3L336.0 686.3L336.5 686.3L337.0 686.3L337.5 686.3L338.0 686.4L338.5 686.4L339.0 686.4L339.5 686.4L340.0 686.4L340.5 686.5L341.0 686.5L341.5 686.5L342.0 686.5L342.5 686.5L343.0 686.6L343.5 686.6L344.0 686.6L344.5 686.6L345.0 686.6L345.5 686.6L346.0 686.7L346.5 686.7L347.0 686.7L347.5 686.7L348.0 686.7L348.5 686.7L349.0 686.7L349.5 686.8L350.0 686.8L350.5 686.8L351.0 686.8L351.5 686.8L352.0 686.8L352.5 686.8L353.0 686.8L353.5 686.8L354.0 686.9L354.5 686.9L355.0 686.9L355.5 686.9L356.0 686.9L356.5 686.9L357.0 686.9L357.5 686.9L358.0 686.9L358.5 687.0L359.0 687.0L359.5 687.0L360.0 687.0L360.5 687.0L361.0 687.0L361.5 687.0L362.0 687.0L362.5 687.0L363.0 687.0L363.5 687.0L364.0 687.0L364.5 687.1L365.0 687.1L365.5 687.1L366.0 687.1L366.5 687.1L367.0 687.1L367.5 687.1L368.0 687.1L368.5 687.1L369.0 687.1L369.5 687.1L370.0 687.1L370.5 687.1L371.0 687.1L371.5 687.1L372.0 687.2L372.5 687.2L373.0 687.2L373.5 687.2L374.0 687.2L374.5 687.2L375.0 687.2L375.5 687.2L376.0 687.2L376.5 687.2L377.0 687.2L377.5 687.2L378.0 687.2L378.5 687.2L379.0 687.2L379.5 687.2L380.0 687.2L380.5 687.2L381.0 687.2L381.5 687.2L382.0 687.2L382.5 687.3L383.0 687.3L383.5 687.3L384.0 687.3L384.5 687.3L385.0 687.3L385.5 687.3L386.0 687.3L386.5 687.3L387.0 687.3L387.5 687.3L388.0 687.3L388.5 687.3L389.0 687.3L389.5 687.3L390.0 687.3L390.5 687.3L391.0 687.3L391.5 687.3L392.0 687.3L392.5 687.3L393.0 687.3L393.5 687.3L394.0 687.4L394.5 687.4L395.0 687.4L395.5 687.4L396.0 687.4L396.5 687.4L397.0 687.4L397.5 687.4L398.0 687.4L398.5 687.4L399.0 687.4L399.5 687.4L400.0 687.4L400.5 687.4L401.0 687.4L401.5 687.5L402.0 687.5L402.5 687.5L403.0 687.5L403.5 687.5L404.0 687.5L404.5 687.5L405.0 687.5L405.5 687.5L406.0 687.5L406.5 687.5L407.0 687.5L407.5 687.5L408.0 687.5L408.5 687.5L409.0 687.5L409.5 687.5L410.0 687.6L410.5 687.6L411.0 687.6L411.5 687.6L412.0 687.6L412.5 687.6L413.0 687.6L413.5 687.6L414.0 687.6L414.5 687.6L415.0 687.6L415.5 687.6L416.0 687.6L416.5 687.6L417.0 687.6L417.5 687.6L418.0 687.6L418.5 687.6L419.0 687.6L419.5 687.6L420.0 687.7L420.5 687.7L421.0 687.7L421.5 687.7L422.0 687.7L422.5 687.7L423.0 687.7L423.5 687.7L424.0 687.7L424.5 687.7L425.0 687.7L425.5 687.7L426.0 687.7L426.5 687.7L427.0 687.7L427.5 687.7L428.0 687.7L428.5 687.7L429.0 687.7L429.5 687.7L430.0 687.7L430.5 687.7L431.0 687.7L431.5 687.7L432.0 687.8L432.5 687.8L433.0 687.8L433.5 687.8L434.0 687.8L434.5 687.8L435.0 687.8L435.5 687.8L436.0 687.8L436.5 687.8L437.0 687.8L437.5 687.8L438.0 687.8L438.5 687.8L439.0 687.8L439.5 687.8L440.0 687.8L440.5 687.8L441.0 687.8L441.5 687.8L442.0 687.8L442.5 687.8L443.0 687.8L443.5 687.8L444.0 687.8L444.5 687.8L445.0 687.8L445.5 687.8L446.0 687.8L446.5 687.8L447.0 687.8L447.5 687.8L448.0 687.9L448.5 687.9L449.0 687.9L449.5 687.9L450.0 687.9L450.5 687.9L451.0 687.9L451.5 687.9L452.0 687.9L452.5 687.9L453.0 687.9L453.5 687.9L454.0 687.9L454.5 687.9L455.0 687.9L455.5 687.9L456.0 687.9L456.5 687.9L457.0 687.9L457.5 687.9L458.0 687.9L458.5 687.9L459.0 687.9L459.5 687.9L460.0 687.9L460.5 687.9L461.0 687.9L461.5 687.9L462.0 687.9L462.5 687.9L463.0 687.9L463.5 687.9L464.0 687.9L464.5 687.9L465.0 687.9L465.5 687.9L466.0 687.9L466.5 687.9L467.0 687.9L467.5 687.9L468.0 687.9L468.5 687.9L469.0 687.9L469.5 687.9L470.0 687.9L470.5 687.9L471.0 687.9L471.5 687.9L472.0 687.9L472.5 687.9L473.0 687.9L473.5 688.0L474.0 688.0L474.5 688.0L475.0 688.0L475.5 688.0L476.0 688.0L476.5 688.0L477.0 688.0L477.5 688.0L478.0 688.0L478.5 688.0L479.0 688.0L479.5 688.0L480.0 688.0L480.5 688.0L481.0 688.0L481.5 688.0L482.0 688.0L482.5 688.0L483.0 688.0L483.5 688.0L484.0 688.0L484.5 688.0L485.0 688.0L485.5 688.0L486.0 688.0L486.5 688.0L487.0 688.0L487.5 688.0L488.0 688.0L488.5 688.0L489.0 688.0L489.5 688.0L490.0 688.0L490.5 688.0L491.0 688.0L491.5 688.0L492.0 688.0L492.5 688.0L493.0 688.0L493.5 688.0L494.0 688.0L494.5 688.0L495.0 688.0L495.5 688.0L496.0 688.0L496.5 688.0L497.0 688.0L497.5 688.0L498.0 688.0L498.5 688.0L499.0 688.0L499.5 688.0L500.0 688.0L500.5 688.0L501.0 688.0L501.5 688.0L502.0 688.0L502.5 688.0L503.0 688.0L503.5 688.0L504.0 688.0L504.5 688.0L505.0 688.0L505.5 688.0L506.0 688.0L506.5 688.0L507.0 688.0L507.5 688.0L508.0 688.0L508.5 688.0L509.0 688.0L509.5 688.0L510.0 688.0L510.5 688.0L511.0 688.0L511.5 688.0L512.0 688.0L512.5 688.0L513.0 688.0L513.5 688.0L514.0 688.0L514.5 688.0L515.0 688.0L515.5 688.0L516.0 688.0L516.5 688.0L517.0 688.0L517.5 688.0L518.0 688.0L518.5 688.0L519.0 688.0L519.5 688.0L520.0 688.0L520.5 688.0L521.0 688.0L521.5 688.0L522.0 688.0L522.5 688.0L523.0 688.0L523.5 688.0L524.0 688.0L524.5 688.0L525.0 688.0L525.5 688.0L526.0 688.0L526.5 688.0L527.0 688.0L527.5 688.0L528.0 688.0L528.5 688.0L529.0 688.0L529.5 688.0L530.0 688.0L530.5 688.0L531.0 688.0L531.5 688.0L532.0 688.0L532.5 688.0L533.0 688.0L533.5 688.0L534.0 688.0L534.5 688.0L535.0 688.0L535.5 688.0L536.0 688.0L536.5 688.0L537.0 688.0L537.5 688.0L538.0 688.0L538.5 688.0L539.0 688.0L539.5 688.0L540.0 688.0L540.5 688.0L541.0 687.9L541.5 687.9L542.0 687.9L542.5 687.9L543.0 687.9L543.5 687.9L544.0 687.9L544.5 687.9L545.0 687.9L545.5 687.9L546.0 687.9L546.5 687.9L547.0 687.9L547.5 687.9L548.0 687.9L548.5 687.9L549.0 687.9L549.5 687.9L550.0 687.9L550.5 687.9L551.0 687.9L551.5 687.9L552.0 687.9L552.5 687.9L553.0 687.9L553.5 687.9L554.0 687.9L554.5 687.9L555.0 687.9L555.5 687.9L556.0 687.9L556.5 687.8L557.0 687.8L557.5 687.8L558.0 687.8L558.5 687.8L559.0 687.8L559.5 687.8L560.0 687.8L560.5 687.8L561.0 687.8L561.5 687.8L562.0 687.8L562.5 687.8L563.0 687.8L563.5 687.8L564.0 687.8L564.5 687.8L565.0 687.8L565.5 687.8L566.0 687.8L566.5 687.8L567.0 687.8L567.5 687.7L568.0 687.7L568.5 687.7L569.0 687.7L569.5 687.7L570.0 687.7L570.5 687.7L571.0 687.7L571.5 687.7L572.0 687.7L572.5 687.7L573.0 687.7L573.5 687.7L574.0 687.7L574.5 687.7L575.0 687.7L575.5 687.7L576.0 687.7L576.5 687.6L577.0 687.6L577.5 687.6L578.0 687.6L578.5 687.6L579.0 687.6L579.5 687.6L580.0 687.6L580.5 687.6L581.0 687.6L581.5 687.6L582.0 687.6L582.5 687.6L583.0 687.6L583.5 687.6L584.0 687.6L584.5 687.5L585.0 687.5L585.5 687.5L586.0 687.5L586.5 687.5L587.0 687.5L587.5 687.5L588.0 687.5L588.5 687.5L589.0 687.5L589.5 687.5L590.0 687.5L590.5 687.5L591.0 687.5L591.5 687.4L592.0 687.4L592.5 687.4L593.0 687.4L593.5 687.4L594.0 687.4L594.5 687.4L595.0 687.4L595.5 687.4L596.0 687.4L596.5 687.4L597.0 687.4L597.5 687.4L598.0 687.4L598.5 687.3L599.0 687.3L599.5 687.3L600.0 687.3L600.5 687.3L601.0 687.3L601.5 687.3L602.0 687.3L602.5 687.3L603.0 687.3L603.5 687.3L604.0 687.3L604.5 687.2L605.0 687.2L605.5 687.2L606.0 687.2L606.5 687.2L607.0 687.2L607.5 687.2L608.0 687.2L608.5 687.2L609.0 687.2L609.5 687.2L610.0 687.2L610.5 687.1L611.0 687.1L611.5 687.1L612.0 687.1L612.5 687.1L613.0 687.1L613.5 687.1L614.0 687.1L614.5 687.1L615.0 687.1L615.5 687.1L616.0 687.0L616.5 687.0L617.0 687.0L617.5 687.0L618.0 687.0L618.5 687.0L619.0 687.0L619.5 687.0L620.0 687.0L620.5 687.0L621.0 687.0L621.5 686.9L622.0 686.9L622.5 686.9L623.0 686.9L623.5 686.9L624.0 686.9L624.5 686.9L625.0 686.9L625.5 686.9L626.0 686.9L626.5 686.8L627.0 686.8L627.5 686.8L628.0 686.8L628.5 686.8L629.0 686.8L629.5 686.8L630.0 686.8L630.5 686.8L631.0 686.8L631.5 686.7L632.0 686.7L632.5 686.7L633.0 686.7L633.5 686.7L634.0 686.7L634.5 686.7L635.0 686.7L635.5 686.7L636.0 686.6L636.5 686.6L637.0 686.6L637.5 686.6L638.0 686.6L638.5 686.6L639.0 686.6L639.5 686.6L640.0 686.6L640.5 686.6L641.0 686.5L641.5 686.5L642.0 686.5L642.5 686.5L643.0 686.5L643.5 686.5L644.0 686.5L644.5 686.5L645.0 686.5L645.5 686.4L646.0 686.4L646.5 686.4L647.0 686.4L647.5 686.4L648.0 686.4L648.5 686.4L649.0 686.4L649.5 686.4L650.0 686.3L650.5 686.3L651.0 686.3L651.5 686.3L652.0 686.3L652.5 686.3L653.0 686.3L653.5 686.3L654.0 686.3L654.5 686.2L655.0 686.2L655.5 686.2L656.0 686.2L656.5 686.2L657.0 686.2L657.5 686.2L658.0 686.2L658.5 686.1L659.0 686.1L659.5 686.1L660.0 686.1L660.5 686.1L661.0 686.1L661.5 686.1L662.0 686.1L662.5 686.1L663.0 686.0L663.5 686.0L664.0 686.0L664.5 686.0L665.0 686.0L665.5 686.0L666.0 686.0L666.5 686.0L667.0 685.9L667.5 685.9L668.0 685.9L668.5 685.9L668.8 685.9" stroke="#cc33bb" stroke-width="1.4"/>
</g>
<line x1="302.6" y1="396.50" x2="302.6" y2="731.40" stroke="#000" stroke-width="2.2" stroke-dasharray="10.4 4.3 2.4 4.5"/>
<g stroke="#5e5e5e" stroke-width="1" fill="none">
<line x1="120.02" y1="731.40" x2="120.02" y2="724.90"/>
<line x1="120.02" y1="392.60" x2="120.02" y2="399.10"/>
<line x1="180.98" y1="731.40" x2="180.98" y2="724.90"/>
<line x1="180.98" y1="392.60" x2="180.98" y2="399.10"/>
<line x1="241.95" y1="731.40" x2="241.95" y2="724.90"/>
<line x1="241.95" y1="392.60" x2="241.95" y2="399.10"/>
<line x1="302.91" y1="731.40" x2="302.91" y2="724.90"/>
<line x1="302.91" y1="392.60" x2="302.91" y2="399.10"/>
<line x1="363.88" y1="731.40" x2="363.88" y2="724.90"/>
<line x1="363.88" y1="392.60" x2="363.88" y2="399.10"/>
<line x1="424.84" y1="731.40" x2="424.84" y2="724.90"/>
<line x1="424.84" y1="392.60" x2="424.84" y2="399.10"/>
<line x1="485.81" y1="731.40" x2="485.81" y2="724.90"/>
<line x1="485.81" y1="392.60" x2="485.81" y2="399.10"/>
<line x1="546.77" y1="731.40" x2="546.77" y2="724.90"/>
<line x1="546.77" y1="392.60" x2="546.77" y2="399.10"/>
<line x1="607.74" y1="731.40" x2="607.74" y2="724.90"/>
<line x1="607.74" y1="392.60" x2="607.74" y2="399.10"/>
<line x1="59.05" y1="683.00" x2="65.55" y2="683.00"/>
<line x1="668.70" y1="683.00" x2="662.20" y2="683.00"/>
<line x1="59.05" y1="634.60" x2="65.55" y2="634.60"/>
<line x1="668.70" y1="634.60" x2="662.20" y2="634.60"/>
<line x1="59.05" y1="586.20" x2="65.55" y2="586.20"/>
<line x1="668.70" y1="586.20" x2="662.20" y2="586.20"/>
<line x1="59.05" y1="537.80" x2="65.55" y2="537.80"/>
<line x1="668.70" y1="537.80" x2="662.20" y2="537.80"/>
<line x1="59.05" y1="489.40" x2="65.55" y2="489.40"/>
<line x1="668.70" y1="489.40" x2="662.20" y2="489.40"/>
<line x1="59.05" y1="441.00" x2="65.55" y2="441.00"/>
<line x1="668.70" y1="441.00" x2="662.20" y2="441.00"/>
<rect x="59.05" y="392.60" width="609.65" height="338.80"/>
</g>
<text x="52.3" y="737.30" font-family="'Liberation Sans', sans-serif" font-size="16.5" text-anchor="end" fill="#222">0</text>
<text x="52.3" y="688.90" font-family="'Liberation Sans', sans-serif" font-size="16.5" text-anchor="end" fill="#222">2</text>
<text x="52.3" y="640.50" font-family="'Liberation Sans', sans-serif" font-size="16.5" text-anchor="end" fill="#222">4</text>
<text x="52.3" y="592.10" font-family="'Liberation Sans', sans-serif" font-size="16.5" text-anchor="end" fill="#222">6</text>
<text x="52.3" y="543.70" font-family="'Liberation Sans', sans-serif" font-size="16.5" text-anchor="end" fill="#222">8</text>
<text x="52.3" y="495.30" font-family="'Liberation Sans', sans-serif" font-size="16.5" text-anchor="end" fill="#222">10</text>
<text x="52.3" y="446.90" font-family="'Liberation Sans', sans-serif" font-size="16.5" text-anchor="end" fill="#222">12</text>
<text x="52.3" y="398.50" font-family="'Liberation Sans', sans-serif" font-size="16.5" text-anchor="end" fill="#222">14</text>
<text x="59.05" y="753.6" font-family="'Liberation Sans', sans-serif" font-size="16.5" text-anchor="middle" fill="#222">-0.02</text>
<text x="120.02" y="753.6" font-family="'Liberation Sans', sans-serif" font-size="16.5" text-anchor="middle" fill="#222">-0.015</text>
<text x="180.98" y="753.6" font-family="'Liberation Sans', sans-serif" font-size="16.5" text-anchor="middle" fill="#222">-0.01</text>
<text x="241.95" y="753.6" font-family="'Liberation Sans', sans-serif" font-size="16.5" text-anchor="middle" fill="#222">-0.005</text>
<text x="302.91" y="753.6" font-family="'Liberation Sans', sans-serif" font-size="16.5" text-anchor="middle" fill="#222">0</text>
<text x="363.88" y="753.6" font-family="'Liberation Sans', sans-serif" font-size="16.5" text-anchor="middle" fill="#222">0.005</text>
<text x="424.84" y="753.6" font-family="'Liberation Sans', sans-serif" font-size="16.5" text-anchor="middle" fill="#222">0.01</text>
<text x="485.81" y="753.6" font-family="'Liberation Sans', sans-serif" font-size="16.5" text-anchor="middle" fill="#222">0.015</text>
<text x="546.77" y="753.6" font-family="'Liberation Sans', sans-serif" font-size="16.5" text-anchor="middle" fill="#222">0.02</text>
<text x="607.74" y="753.6" font-family="'Liberation Sans', sans-serif" font-size="16.5" text-anchor="middle" fill="#222">0.025</text>
<text x="668.70" y="753.6" font-family="'Liberation Sans', sans-serif" font-size="16.5" text-anchor="middle" fill="#222">0.03</text>
<text x="363.2" y="782.7" font-family="'Liberation Serif', serif" font-size="25" text-anchor="middle" fill="#111">energy (eV)</text>
<text transform="translate(23.90,563.60) rotate(-90)" font-family="'Liberation Serif', serif" font-size="23" text-anchor="middle" fill="#111">DOS (states eV<tspan font-size="16.5" dy="-11.5" dx="-0.8">-1</tspan><tspan dy="11.5" dx="1.2">spin</tspan><tspan font-size="16.5" dy="-11.5" dx="-1.2">-1</tspan><tspan dy="11.5" dx="2.6">Ru</tspan><tspan font-size="16.5" dy="-11.5" dx="-0.8">-1</tspan><tspan dy="11.5" dx="0.6">)</tspan></text>
<rect x="69.9" y="615.4" width="144" height="105" fill="#fff" stroke="#777" stroke-width="1"/>
<line x1="69.9" y1="641.5" x2="213.9" y2="641.5" stroke="#777" stroke-width="1"/>
<text x="141.9" y="635.3" font-family="'Liberation Serif', serif" font-size="14.5" font-weight="bold" text-anchor="middle" fill="#111">DOS (eV<tspan font-size="10.5" dy="-7">-1</tspan><tspan dy="7">Ru</tspan><tspan font-size="10.5" dy="-7">-1</tspan><tspan dy="7">spin</tspan><tspan font-size="10.5" dy="-7">-1</tspan><tspan dy="7">)</tspan></text>
<line x1="104.2" y1="652.7" x2="146.9" y2="652.7" stroke="#2a9834" stroke-width="1.5"/>
<text x="151.5" y="658.0" font-family="'Liberation Serif', serif" font-size="15.5" fill="#111">total</text>
<line x1="104.2" y1="671.5" x2="146.9" y2="671.5" stroke="#c29a08" stroke-width="3.0"/>
<text x="151.5" y="676.8" font-family="'Liberation Serif', serif" font-size="15.5" fill="#111">xy</text>
<line x1="104.2" y1="689.7" x2="146.9" y2="689.7" stroke="#2e9fd8" stroke-width="1.5"/>
<text x="151.5" y="695.0" font-family="'Liberation Serif', serif" font-size="15.5" fill="#111">zx</text>
<line x1="104.2" y1="708.1" x2="146.9" y2="708.1" stroke="#cc33bb" stroke-width="1.5"/>
<text x="151.5" y="713.4" font-family="'Liberation Serif', serif" font-size="15.5" fill="#111">yz</text>
<rect x="508.50" y="409.60" width="137.60" height="151.90" fill="#fff" stroke="none"/>
<g fill="none" stroke="#111" stroke-width="1.25" stroke-linejoin="round">
<polyline points="622.4,432.2 577.3,409.6 532.2,432.2"/>
<polyline points="622.4,539.0 577.3,561.5 532.2,539.0"/>
<polyline points="532.2,539.0 531.9,538.3 531.5,537.7 531.2,537.1 530.9,536.5 530.5,535.8 530.2,535.2 529.9,534.6 529.6,533.9 529.3,533.3 529.0,532.6 528.7,532.0 528.4,531.4 528.1,530.7 527.8,530.1 527.6,529.4 527.3,528.8 527.0,528.1 526.8,527.5 526.5,526.8 526.2,526.2 526.0,525.5 525.7,524.8 525.5,524.2 525.2,523.5 525.0,522.9 524.7,522.2 524.5,521.5 524.2,520.9 524.0,520.2 523.7,519.5 523.5,518.9 523.2,518.2 523.0,517.6 522.7,516.9 522.5,516.2 522.2,515.6 522.0,514.9 521.8,514.2 521.5,513.6 521.3,512.9 521.1,512.2 520.8,511.6 520.6,510.9 520.4,510.2 520.2,509.5 520.0,508.9 519.8,508.2 519.6,507.5 519.4,506.8 519.2,506.1 519.0,505.5 518.9,504.8 518.7,504.1 518.5,503.4 518.4,502.7 518.2,502.0 518.1,501.3 518.0,500.6 517.8,499.9 517.7,499.2 517.6,498.6 517.5,497.9 517.4,497.2 517.3,496.5 517.2,495.8 517.1,495.1 517.0,494.3 516.9,493.6 516.8,492.9 516.7,492.2 516.6,491.5 516.5,490.8 516.4,490.1 516.4,489.4 516.3,488.7 516.3,488.0 516.2,487.3 516.2,486.6 516.2,485.9 516.2,485.2 516.2,484.5 516.2,483.8 516.3,483.1 516.3,482.4 516.4,481.7 516.4,481.0 516.5,480.3 516.6,479.6 516.7,478.9 516.8,478.2 516.9,477.5 517.0,476.8 517.1,476.0 517.2,475.3 517.3,474.6 517.4,473.9 517.5,473.2 517.6,472.5 517.7,471.9 517.8,471.2 518.0,470.5 518.1,469.8 518.2,469.1 518.4,468.4 518.5,467.7 518.7,467.0 518.9,466.3 519.0,465.6 519.2,465.0 519.4,464.3 519.6,463.6 519.8,462.9 520.0,462.2 520.2,461.6 520.4,460.9 520.6,460.2 520.8,459.5 521.1,458.9 521.3,458.2 521.5,457.5 521.8,456.9 522.0,456.2 522.2,455.5 522.5,454.9 522.7,454.2 523.0,453.5 523.2,452.9 523.5,452.2 523.7,451.6 524.0,450.9 524.2,450.2 524.5,449.6 524.7,448.9 525.0,448.2 525.2,447.6 525.5,446.9 525.7,446.3 526.0,445.6 526.2,444.9 526.5,444.3 526.8,443.6 527.0,443.0 527.3,442.3 527.6,441.7 527.8,441.0 528.1,440.4 528.4,439.7 528.7,439.1 529.0,438.5 529.3,437.8 529.6,437.2 529.9,436.5 530.2,435.9 530.5,435.3 530.9,434.6 531.2,434.0 531.5,433.4 531.9,432.8 532.2,432.2"/>
<polyline points="622.4,539.0 622.7,538.3 623.1,537.7 623.4,537.1 623.7,536.5 624.1,535.8 624.4,535.2 624.7,534.6 625.0,533.9 625.3,533.3 625.6,532.6 625.9,532.0 626.2,531.4 626.5,530.7 626.8,530.1 627.0,529.4 627.3,528.8 627.6,528.1 627.8,527.5 628.1,526.8 628.4,526.2 628.6,525.5 628.9,524.8 629.1,524.2 629.4,523.5 629.6,522.9 629.9,522.2 630.1,521.5 630.4,520.9 630.6,520.2 630.9,519.5 631.1,518.9 631.4,518.2 631.6,517.6 631.9,516.9 632.1,516.2 632.4,515.6 632.6,514.9 632.8,514.2 633.1,513.6 633.3,512.9 633.5,512.2 633.8,511.6 634.0,510.9 634.2,510.2 634.4,509.5 634.6,508.9 634.8,508.2 635.0,507.5 635.2,506.8 635.4,506.1 635.6,505.5 635.7,504.8 635.9,504.1 636.1,503.4 636.2,502.7 636.4,502.0 636.5,501.3 636.6,500.6 636.8,499.9 636.9,499.2 637.0,498.6 637.1,497.9 637.2,497.2 637.3,496.5 637.4,495.8 637.5,495.1 637.6,494.3 637.7,493.6 637.8,492.9 637.9,492.2 638.0,491.5 638.1,490.8 638.2,490.1 638.2,489.4 638.3,488.7 638.3,488.0 638.4,487.3 638.4,486.6 638.4,485.9 638.4,485.2 638.4,484.5 638.4,483.8 638.3,483.1 638.3,482.4 638.2,481.7 638.2,481.0 638.1,480.3 638.0,479.6 637.9,478.9 637.8,478.2 637.7,477.5 637.6,476.8 637.5,476.0 637.4,475.3 637.3,474.6 637.2,473.9 637.1,473.2 637.0,472.5 636.9,471.9 636.8,471.2 636.6,470.5 636.5,469.8 636.4,469.1 636.2,468.4 636.1,467.7 635.9,467.0 635.7,466.3 635.6,465.6 635.4,465.0 635.2,464.3 635.0,463.6 634.8,462.9 634.6,462.2 634.4,461.6 634.2,460.9 634.0,460.2 633.8,459.5 633.5,458.9 633.3,458.2 633.1,457.5 632.8,456.9 632.6,456.2 632.4,455.5 632.1,454.9 631.9,454.2 631.6,453.5 631.4,452.9 631.1,452.2 630.9,451.6 630.6,450.9 630.4,450.2 630.1,449.6 629.9,448.9 629.6,448.2 629.4,447.6 629.1,446.9 628.9,446.3 628.6,445.6 628.4,444.9 628.1,444.3 627.8,443.6 627.6,443.0 627.3,442.3 627.0,441.7 626.8,441.0 626.5,440.4 626.2,439.7 625.9,439.1 625.6,438.5 625.3,437.8 625.0,437.2 624.7,436.5 624.4,435.9 624.1,435.3 623.7,434.6 623.4,434.0 623.1,433.4 622.7,432.8 622.4,432.2"/>
<polyline points="577.3,428.4 576.4,428.3 575.5,428.3 574.6,428.3 573.7,428.3 572.8,428.3 571.9,428.4 571.0,428.4 570.1,428.4 569.2,428.4 568.3,428.4 567.3,428.5 566.4,428.5 565.6,428.5 564.7,428.6 563.8,428.7 562.9,428.8 562.0,428.9 561.1,429.0 560.2,429.1 559.3,429.3 558.4,429.4 557.5,429.6 556.7,429.8 555.8,430.0 554.9,430.3 554.0,430.5 553.2,430.7 552.3,431.0 551.4,431.3 550.6,431.6 549.7,431.9 548.9,432.2 548.0,432.6 547.2,432.9 546.4,433.3 545.6,433.7 544.8,434.2 544.0,434.6 543.3,435.1 542.5,435.6 541.8,436.2 541.1,436.7 540.4,437.3 539.7,437.9 539.1,438.6 538.5,439.2 537.9,439.9 537.3,440.6 536.8,441.4 536.2,442.1 535.7,442.8 535.3,443.6 534.8,444.4 534.4,445.2 533.9,446.0 533.6,446.8 533.2,447.6 532.8,448.5 532.5,449.3 532.2,450.2 531.9,451.0 531.6,451.9 531.4,452.7 531.1,453.6 530.9,454.5 530.7,455.3 530.5,456.2 530.3,457.1 530.1,458.0 529.9,458.9 529.8,459.8 529.6,460.7 529.4,461.5 529.3,462.4 529.1,463.3 529.0,464.2 528.9,465.1 528.7,466.0 528.6,466.9 528.5,467.8 528.3,468.7 528.2,469.6 528.1,470.5 528.0,471.4 527.9,472.3 527.9,473.2 527.8,474.1 527.7,475.0 527.6,475.9 527.6,476.8 527.6,477.7 527.5,478.6 527.5,479.5 527.5,480.4 527.4,481.3 527.4,482.2 527.4,483.1 527.4,484.0 527.4,484.9 527.4,485.8 527.4,486.7 527.4,487.6 527.4,488.5 527.4,489.4 527.4,490.3 527.5,491.2 527.5,492.1 527.5,493.0 527.6,493.9 527.6,494.8 527.7,495.7 527.7,496.6 527.8,497.5 527.9,498.4 528.0,499.3 528.1,500.2 528.2,501.1 528.3,502.0 528.4,502.9 528.5,503.8 528.7,504.6 528.8,505.5 528.9,506.4 529.1,507.3 529.2,508.2 529.4,509.1 529.5,510.0 529.7,510.9 529.9,511.8 530.0,512.7 530.2,513.5 530.4,514.4 530.6,515.3 530.8,516.2 531.0,517.1 531.3,517.9 531.5,518.8 531.8,519.7 532.1,520.5 532.4,521.4 532.7,522.2 533.0,523.1 533.4,523.9 533.8,524.7 534.2,525.5 534.6,526.3 535.0,527.1 535.5,527.9 536.0,528.6 536.5,529.4 537.0,530.1 537.6,530.8 538.2,531.5 538.8,532.2 539.4,532.8 540.1,533.5 540.7,534.1 541.4,534.7 542.1,535.2 542.9,535.7 543.6,536.2 544.4,536.7 545.2,537.2 546.0,537.6 546.8,538.0 547.6,538.3 548.5,538.7 549.3,539.0 550.2,539.3 551.0,539.7 551.9,539.9 552.7,540.2 553.6,540.5 554.5,540.7 555.3,541.0 556.2,541.2 557.1,541.4 558.0,541.6 558.9,541.7 559.7,541.9 560.6,542.0 561.5,542.2 562.4,542.3 563.3,542.4 564.2,542.5 565.1,542.5 566.0,542.6 566.9,542.6 567.8,542.7 568.7,542.7 569.6,542.7 570.5,542.7 571.4,542.7 572.3,542.8 573.2,542.8 574.1,542.8 575.0,542.8 575.9,542.8 576.8,542.8 577.8,542.8 578.7,542.8 579.6,542.8 580.5,542.8 581.4,542.8 582.3,542.8 583.2,542.7 584.1,542.7 585.0,542.7 585.9,542.7 586.8,542.7 587.7,542.6 588.6,542.6 589.5,542.5 590.4,542.5 591.3,542.4 592.2,542.3 593.1,542.2 594.0,542.0 594.9,541.9 595.7,541.7 596.6,541.6 597.5,541.4 598.4,541.2 599.3,541.0 600.1,540.7 601.0,540.5 601.9,540.2 602.7,539.9 603.6,539.7 604.4,539.3 605.3,539.0 606.1,538.7 607.0,538.3 607.8,538.0 608.6,537.6 609.4,537.2 610.2,536.7 611.0,536.2 611.7,535.7 612.5,535.2 613.2,534.7 613.9,534.1 614.5,533.5 615.2,532.8 615.8,532.2 616.4,531.5 617.0,530.8 617.6,530.1 618.1,529.4 618.6,528.6 619.1,527.9 619.6,527.1 620.0,526.3 620.4,525.5 620.8,524.7 621.2,523.9 621.6,523.1 621.9,522.2 622.2,521.4 622.5,520.5 622.8,519.7 623.1,518.8 623.3,517.9 623.6,517.1 623.8,516.2 624.0,515.3 624.2,514.4 624.4,513.5 624.6,512.7 624.7,511.8 624.9,510.9 625.1,510.0 625.2,509.1 625.4,508.2 625.5,507.3 625.7,506.4 625.8,505.5 625.9,504.6 626.1,503.8 626.2,502.9 626.3,502.0 626.4,501.1 626.5,500.2 626.6,499.3 626.7,498.4 626.8,497.5 626.9,496.6 626.9,495.7 627.0,494.8 627.0,493.9 627.1,493.0 627.1,492.1 627.1,491.2 627.2,490.3 627.2,489.4 627.2,488.5 627.2,487.6 627.2,486.7 627.2,485.8 627.2,484.9 627.2,484.0 627.2,483.1 627.2,482.2 627.2,481.3 627.1,480.4 627.1,479.5 627.1,478.6 627.0,477.7 627.0,476.8 627.0,475.9 626.9,475.0 626.8,474.1 626.7,473.2 626.7,472.3 626.6,471.4 626.5,470.5 626.4,469.6 626.3,468.7 626.1,467.8 626.0,466.9 625.9,466.0 625.7,465.1 625.6,464.2 625.5,463.3 625.3,462.4 625.2,461.5 625.0,460.7 624.8,459.8 624.7,458.9 624.5,458.0 624.3,457.1 624.1,456.2 623.9,455.3 623.7,454.5 623.5,453.6 623.2,452.7 623.0,451.9 622.7,451.0 622.4,450.2 622.1,449.3 621.8,448.5 621.4,447.6 621.0,446.8 620.7,446.0 620.2,445.2 619.8,444.4 619.3,443.6 618.9,442.8 618.4,442.1 617.8,441.4 617.3,440.6 616.7,439.9 616.1,439.2 615.5,438.6 614.9,437.9 614.2,437.3 613.5,436.7 612.8,436.2 612.1,435.6 611.3,435.1 610.6,434.6 609.8,434.2 609.0,433.7 608.2,433.3 607.4,432.9 606.6,432.6 605.7,432.2 604.9,431.9 604.0,431.6 603.2,431.3 602.3,431.0 601.4,430.7 600.6,430.5 599.7,430.3 598.8,430.0 597.9,429.8 597.1,429.6 596.2,429.4 595.3,429.3 594.4,429.1 593.5,429.0 592.6,428.9 591.7,428.8 590.8,428.7 589.9,428.6 589.0,428.5 588.2,428.5 587.3,428.5 586.3,428.4 585.4,428.4 584.5,428.4 583.6,428.4 582.7,428.4 581.8,428.3 580.9,428.3 580.0,428.3 579.1,428.3 578.2,428.3 577.3,428.4"/>
<polyline points="508.5,435.6 509.2,435.3 509.8,435.2 510.5,435.0 511.2,434.9 511.9,434.8 512.6,434.7 513.4,434.7 514.1,434.7 514.9,434.6 515.6,434.6 516.4,434.6 517.1,434.6 517.9,434.5 518.6,434.5 519.4,434.5 520.1,434.4 520.9,434.3 521.6,434.2 522.3,434.1 523.0,433.9 523.7,433.7 524.4,433.5 525.1,433.2 525.7,432.9 526.3,432.6 526.9,432.1 527.5,431.7 528.0,431.2 528.5,430.7 529.0,430.1 529.4,429.5 529.8,428.9 530.1,428.2 530.4,427.6 530.6,426.9 530.8,426.2 531.0,425.5 531.2,424.7 531.3,424.0 531.4,423.3 531.6,422.6 531.7,421.8 531.8,421.1 531.9,420.4 532.0,419.7 532.1,419.0 532.2,418.2 532.3,417.5 532.4,416.8 532.5,416.1 532.6,415.4 532.6,414.7 532.7,413.9 532.8,413.2 532.8,412.5 532.8,411.8 532.9,411.1 532.9,410.3 532.9,409.6"/>
<polyline points="508.5,535.5 509.2,535.8 509.8,535.9 510.5,536.1 511.2,536.2 511.9,536.3 512.6,536.4 513.4,536.4 514.1,536.4 514.9,536.5 515.6,536.5 516.4,536.5 517.1,536.5 517.9,536.6 518.6,536.6 519.4,536.6 520.1,536.7 520.9,536.8 521.6,536.9 522.3,537.0 523.0,537.2 523.7,537.4 524.4,537.6 525.1,537.9 525.7,538.2 526.3,538.5 526.9,539.0 527.5,539.4 528.0,539.9 528.5,540.4 529.0,541.0 529.4,541.6 529.8,542.2 530.1,542.9 530.4,543.5 530.6,544.2 530.8,544.9 531.0,545.6 531.2,546.4 531.3,547.1 531.4,547.8 531.6,548.5 531.7,549.3 531.8,550.0 531.9,550.7 532.0,551.4 532.1,552.1 532.2,552.9 532.3,553.6 532.4,554.3 532.5,555.0 532.6,555.7 532.6,556.4 532.7,557.2 532.8,557.9 532.8,558.6 532.8,559.3 532.9,560.0 532.9,560.8 532.9,561.5"/>
<polyline points="646.1,435.6 645.4,435.3 644.8,435.2 644.1,435.0 643.4,434.9 642.7,434.8 642.0,434.7 641.2,434.7 640.5,434.7 639.7,434.6 639.0,434.6 638.2,434.6 637.5,434.6 636.7,434.5 636.0,434.5 635.2,434.5 634.5,434.4 633.7,434.3 633.0,434.2 632.3,434.1 631.6,433.9 630.9,433.7 630.2,433.5 629.5,433.2 628.9,432.9 628.3,432.6 627.7,432.1 627.1,431.7 626.6,431.2 626.1,430.7 625.6,430.1 625.2,429.5 624.8,428.9 624.5,428.2 624.2,427.6 624.0,426.9 623.8,426.2 623.6,425.5 623.4,424.7 623.3,424.0 623.2,423.3 623.0,422.6 622.9,421.8 622.8,421.1 622.7,420.4 622.6,419.7 622.5,419.0 622.4,418.2 622.3,417.5 622.2,416.8 622.1,416.1 622.0,415.4 622.0,414.7 621.9,413.9 621.8,413.2 621.8,412.5 621.8,411.8 621.7,411.1 621.7,410.3 621.7,409.6"/>
<polyline points="646.1,535.5 645.4,535.8 644.8,535.9 644.1,536.1 643.4,536.2 642.7,536.3 642.0,536.4 641.2,536.4 640.5,536.4 639.7,536.5 639.0,536.5 638.2,536.5 637.5,536.5 636.7,536.6 636.0,536.6 635.2,536.6 634.5,536.7 633.7,536.8 633.0,536.9 632.3,537.0 631.6,537.2 630.9,537.4 630.2,537.6 629.5,537.9 628.9,538.2 628.3,538.5 627.7,539.0 627.1,539.4 626.6,539.9 626.1,540.4 625.6,541.0 625.2,541.6 624.8,542.2 624.5,542.9 624.2,543.5 624.0,544.2 623.8,544.9 623.6,545.6 623.4,546.4 623.3,547.1 623.2,547.8 623.0,548.5 622.9,549.3 622.8,550.0 622.7,550.7 622.6,551.4 622.5,552.1 622.4,552.9 622.3,553.6 622.2,554.3 622.1,555.0 622.0,555.7 622.0,556.4 621.9,557.2 621.8,557.9 621.8,558.6 621.8,559.3 621.7,560.0 621.7,560.8 621.7,561.5"/>
</g>
<rect x="508.50" y="409.60" width="137.60" height="151.90" fill="none" stroke="#7a7a7a" stroke-width="1"/>
<circle cx="577.30" cy="485.55" r="1.7" fill="#000"/>
<circle cx="577.30" cy="409.60" r="1.7" fill="#000"/>
<circle cx="646.10" cy="409.60" r="1.7" fill="#000"/>
<circle cx="646.10" cy="485.55" r="1.7" fill="#000"/>
<text x="585.5" y="403.7" font-family="'Liberation Serif', serif" font-size="19" text-anchor="middle" fill="#111">Y</text>
<text x="663.2" y="485.6" font-family="'Liberation Serif', serif" font-size="19" text-anchor="middle" fill="#111">X</text>
<text x="584.3" y="485.5" font-family="'Liberation Serif', serif" font-size="19" fill="#111">&#915;</text>
<text x="76.2" y="428.4" font-family="'Liberation Serif', serif" font-size="31" fill="#111" style="stroke-width:0.4px">(b)</text>
<text x="119.2" y="446.2" font-family="'Liberation Serif', serif" font-size="20" fill="#111">&#949;</text>
<text x="126.8" y="455.5" font-family="'Liberation Serif', serif" font-style="italic" font-size="16" fill="#111">aa</text>
<text x="148.4" y="446.4" font-family="'Liberation Serif', serif" font-size="20" fill="#111">= -0.5%</text>
<text x="119.2" y="494.7" font-family="'Liberation Serif', serif" font-size="19.5" fill="#111">SOC = 0.2 eV</text>
</svg></body></html>
